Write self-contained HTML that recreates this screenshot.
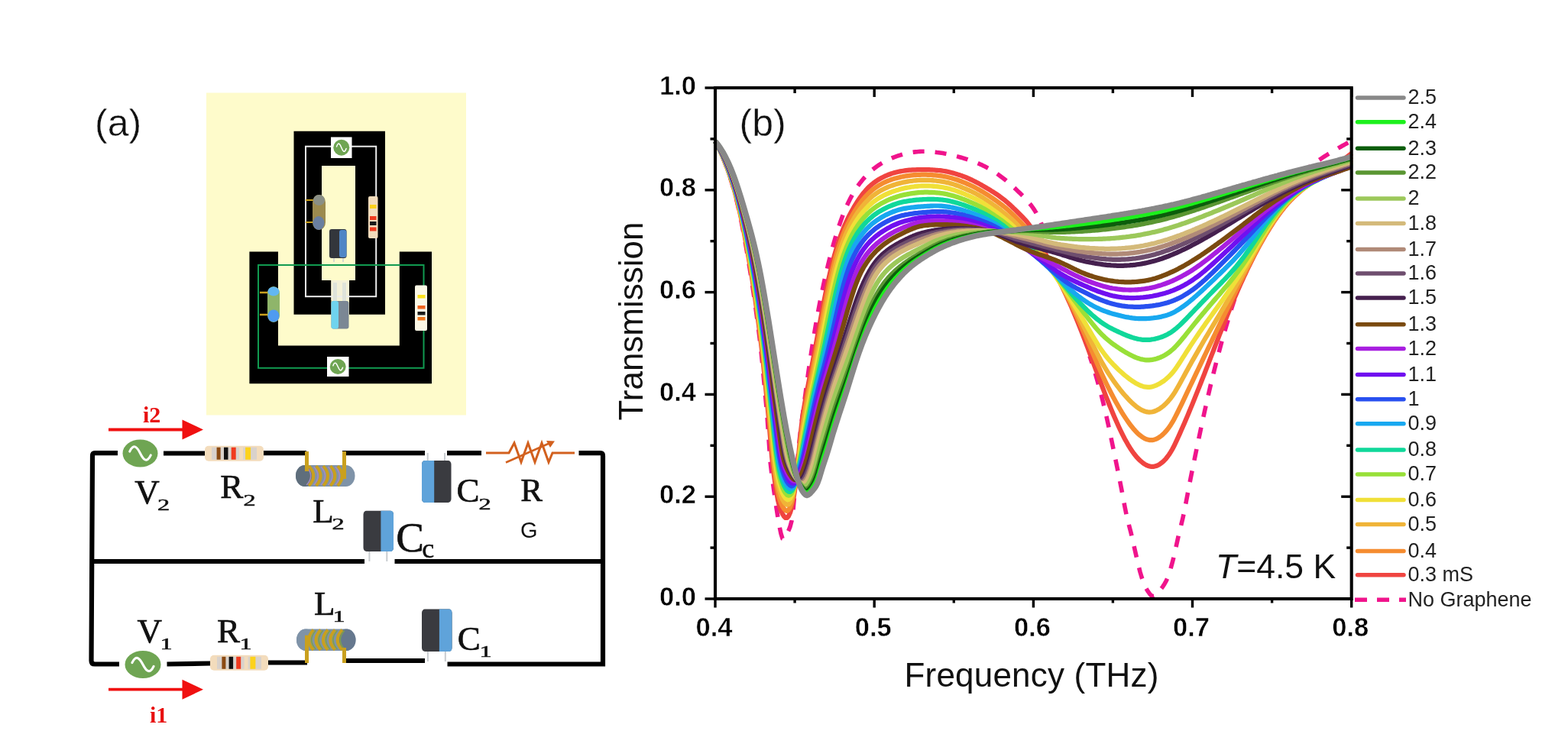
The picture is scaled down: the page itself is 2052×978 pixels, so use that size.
<!DOCTYPE html>
<html lang="en"><head><meta charset="utf-8"><title>Figure</title>
<style>
html,body{margin:0;padding:0;background:#fff;}
body{width:2052px;height:978px;overflow:hidden;}
svg{display:block;}
text{white-space:pre;}
</style></head><body>
<svg width="2052" height="978" viewBox="0 0 2052 978">
<rect width="2052" height="978" fill="#fff"/>
<g id="panel-a">
<rect x="270" y="121.5" width="340" height="422" fill="#FEFBCB"/>
<path d="M384.5 171.7H504V411.7H457V367H465V217H421V367H433.4V411.7H384.5Z" fill="#000"/>
<path d="M326.4 329.4H364V452.4H522.8V329.4H565V502.2H326.4Z" fill="#000"/>
<rect x="433.4" y="367" width="23.6" height="26" fill="#F4F1D8"/>
<rect x="400" y="191.7" width="92.2" height="196.5" fill="none" stroke="#EDEDED" stroke-width="2"/>
<rect x="338" y="347" width="216.5" height="134.8" fill="none" stroke="#119A50" stroke-width="2"/>
<rect x="433" y="179.5" width="27.5" height="27.5" fill="#fff"/>
<ellipse cx="446.8" cy="193.2" rx="10.5" ry="10.5" fill="#6FA553"/><path d="M440.5 191.9C443.0 184.8 445.2 189.2 446.8 193.2S450.6 201.6 453.1 194.5" fill="none" stroke="#fff" stroke-width="1.5" stroke-linecap="round"/>
<rect x="428" y="467" width="28.5" height="26" fill="#fff"/>
<ellipse cx="442.2" cy="480.0" rx="10.5" ry="10.0" fill="#6FA553"/><path d="M435.9 478.7C438.4 472.0 440.6 476.2 442.2 480.0S446.0 488.0 448.5 481.3" fill="none" stroke="#fff" stroke-width="1.5" stroke-linecap="round"/>
<path d="M400 262H412M400 291H412" stroke="#C9A01E" stroke-width="2" fill="none"/>
<rect x="409" y="255" width="17" height="46" rx="8" ry="10" fill="#9C8A4E"/>
<ellipse cx="417" cy="292" rx="7.5" ry="9" fill="#6A7FA0"/>
<ellipse cx="417.5" cy="262" rx="7.5" ry="7" fill="#8A8F86"/>
<rect x="482" y="257" width="12.5" height="55" rx="2" fill="#F3DCBC"/>
<rect x="484" y="268.0" width="8.5" height="5" fill="#FCD21C"/>
<rect x="484" y="283.0" width="8.5" height="5" fill="#F03A1E"/>
<rect x="484" y="290.0" width="8.5" height="5" fill="#1a1a1a"/>
<rect x="484" y="297.5" width="8.5" height="5" fill="#F03A1E"/>
<path d="M437 337V343M449 337V343" stroke="#C8CCD0" stroke-width="1.5"/>
<rect x="431" y="300" width="22.5" height="38" rx="3" fill="#33363C"/>
<rect x="444" y="301" width="9.5" height="36" rx="3" fill="#4F86C6"/>
<rect x="433.5" y="394" width="23" height="36.5" rx="3" fill="#7B8794"/>
<rect x="433.5" y="394" width="9.5" height="36.5" rx="3" fill="#6FD3EE"/>
<rect x="436" y="370" width="5" height="24" fill="#DFE3DA"/><rect x="448" y="370" width="5" height="24" fill="#DFE3DA"/>
<path d="M340 383H353M340 412H353" stroke="#C9A01E" stroke-width="2.5" fill="none"/>
<rect x="350" y="375" width="16" height="47" rx="8" ry="9" fill="#8FB56A"/>
<ellipse cx="358" cy="381.5" rx="7.5" ry="6" fill="#62B7F0"/>
<ellipse cx="358" cy="413.5" rx="7.5" ry="8" fill="#4F9BF0"/>
<rect x="543" y="373.6" width="16" height="59.5" rx="2" fill="#FBF8E6"/>
<rect x="546.5" y="386.0" width="10" height="4.5" fill="#FCE21C"/>
<rect x="546.5" y="400.0" width="10" height="4.5" fill="#F0641E"/>
<rect x="546.5" y="408.0" width="10" height="4.5" fill="#1a1a1a"/>
<rect x="546.5" y="415.0" width="10" height="4.5" fill="#F0781E"/>
<g stroke="#000" stroke-width="6.2" fill="none" stroke-linecap="butt" stroke-linejoin="miter">
<path d="M154 593.2H124Q121 593.2 121 597L119.5 865Q119.5 869.5 124 869.5H156"/>
<path d="M214 593.5H269"/>
<path d="M344 593.2H401"/>
<path d="M448 593.2H556"/>
<path d="M585 593.2H630"/>
<path d="M757.5 593.2H786Q789 593.2 789 597V869.5H585.5"/>
<path d="M120.5 735H477"/>
<path d="M516.5 735H789"/>
<path d="M218.5 869.5L275.5 868.5"/>
<path d="M350 867.5H402"/>
<path d="M448 865H556"/>
</g>
<ellipse cx="183.5" cy="593.5" rx="23.0" ry="18.0" fill="#6FA553"/><path d="M169.7 591.2C175.2 579.1 180.1 586.7 183.5 593.5S191.8 607.9 197.3 595.8" fill="none" stroke="#fff" stroke-width="3.0" stroke-linecap="round"/>
<ellipse cx="187.0" cy="870.0" rx="23.5" ry="18.0" fill="#6FA553"/><path d="M172.9 867.7C178.5 855.6 183.5 863.2 187.0 870.0S195.5 884.4 201.1 872.3" fill="none" stroke="#fff" stroke-width="3.1" stroke-linecap="round"/>
<rect x="268.0" y="583.7" width="77.0" height="20.0" rx="5" fill="#F3DCBC"/><rect x="277.0" y="585.7" width="59.0" height="16.0" fill="#D9D2CC"/><rect x="283.6" y="585.7" width="5.0" height="16.0" fill="#8B4A12"/><rect x="293.0" y="585.7" width="5.5" height="16.0" fill="#111"/><rect x="302.7" y="585.7" width="6.0" height="16.0" fill="#F03A1E"/><rect x="321.1" y="585.7" width="7.0" height="16.0" fill="#FCD21C"/><rect x="313.2" y="585.7" width="5.0" height="16.0" fill="#F3DCBC"/>
<rect x="275.0" y="857.8" width="76.0" height="20.0" rx="5" fill="#F3DCBC"/><rect x="284.0" y="859.8" width="58.0" height="16.0" fill="#D9D2CC"/><rect x="290.4" y="859.8" width="5.0" height="16.0" fill="#8B4A12"/><rect x="299.6" y="859.8" width="5.5" height="16.0" fill="#111"/><rect x="309.2" y="859.8" width="6.0" height="16.0" fill="#F03A1E"/><rect x="327.4" y="859.8" width="7.0" height="16.0" fill="#FCD21C"/><rect x="319.6" y="859.8" width="5.0" height="16.0" fill="#F3DCBC"/>
<rect x="387.0" y="609.0" width="77.5" height="28.0" rx="11.9" ry="14.0" fill="#7F93A8"/><ellipse cx="398.9" cy="623.0" rx="11.9" ry="14.0" fill="#5F6E7C"/><path d="M404.2 610.0Q416.2 623.0 404.2 636.0" fill="none" stroke="#C9A01E" stroke-width="4"/><path d="M401.2 611.0Q412.2 623.0 401.2 635.0" fill="none" stroke="#A68BC0" stroke-width="1.5"/><path d="M413.6 610.0Q425.6 623.0 413.6 636.0" fill="none" stroke="#C9A01E" stroke-width="4"/><path d="M410.6 611.0Q421.6 623.0 410.6 635.0" fill="none" stroke="#A68BC0" stroke-width="1.5"/><path d="M423.0 610.0Q435.0 623.0 423.0 636.0" fill="none" stroke="#C9A01E" stroke-width="4"/><path d="M420.0 611.0Q431.0 623.0 420.0 635.0" fill="none" stroke="#A68BC0" stroke-width="1.5"/><path d="M432.4 610.0Q444.4 623.0 432.4 636.0" fill="none" stroke="#C9A01E" stroke-width="4"/><path d="M429.4 611.0Q440.4 623.0 429.4 635.0" fill="none" stroke="#A68BC0" stroke-width="1.5"/><path d="M441.8 610.0Q453.8 623.0 441.8 636.0" fill="none" stroke="#C9A01E" stroke-width="4"/><path d="M438.8 611.0Q449.8 623.0 438.8 635.0" fill="none" stroke="#A68BC0" stroke-width="1.5"/><path d="M401.5 591.0V617.0" stroke="#C9A01E" stroke-width="5" fill="none"/><path d="M450.5 591.0V627.0" stroke="#C9A01E" stroke-width="5" fill="none"/>
<rect x="388.0" y="823.5" width="77.5" height="28.5" rx="12.1" ry="14.2" fill="#7F93A8"/><ellipse cx="453.4" cy="837.8" rx="12.1" ry="14.2" fill="#66788E"/><ellipse cx="400.1" cy="837.8" rx="12.1" ry="14.2" fill="#7F93A8"/><path d="M410.2 824.5Q398.2 837.8 410.2 851.0" fill="none" stroke="#C9A01E" stroke-width="4"/><path d="M413.2 825.5Q402.2 837.8 413.2 850.0" fill="none" stroke="#7FA04A" stroke-width="1.5"/><path d="M419.6 824.5Q407.6 837.8 419.6 851.0" fill="none" stroke="#C9A01E" stroke-width="4"/><path d="M422.6 825.5Q411.6 837.8 422.6 850.0" fill="none" stroke="#7FA04A" stroke-width="1.5"/><path d="M429.0 824.5Q417.0 837.8 429.0 851.0" fill="none" stroke="#C9A01E" stroke-width="4"/><path d="M432.0 825.5Q421.0 837.8 432.0 850.0" fill="none" stroke="#7FA04A" stroke-width="1.5"/><path d="M438.4 824.5Q426.4 837.8 438.4 851.0" fill="none" stroke="#C9A01E" stroke-width="4"/><path d="M441.4 825.5Q430.4 837.8 441.4 850.0" fill="none" stroke="#7FA04A" stroke-width="1.5"/><path d="M447.8 824.5Q435.8 837.8 447.8 851.0" fill="none" stroke="#C9A01E" stroke-width="4"/><path d="M450.8 825.5Q439.8 837.8 450.8 850.0" fill="none" stroke="#7FA04A" stroke-width="1.5"/><path d="M401.5 868.0V831.8" stroke="#C9A01E" stroke-width="5" fill="none"/><path d="M450.5 868.0V848.0" stroke="#C9A01E" stroke-width="5" fill="none"/>
<path d="M559.7 593.0V606.0M582.0 593.0V606.0" stroke="#C8CCD0" stroke-width="2" fill="none"/><rect x="552.0" y="603.0" width="38.5" height="55.0" rx="4" ry="5" fill="#3A3B40"/><path d="M556.0 603.0H568.2V658.0H556.0Q552.0 658.0 552.0 653.0V608.0Q552.0 603.0 556.0 603.0Z" fill="#5FA3DA"/>
<path d="M483.4 719.0V735.0M506.3 719.0V735.0" stroke="#C8CCD0" stroke-width="2" fill="none"/><rect x="475.5" y="668.7" width="39.5" height="53.3" rx="4" ry="5" fill="#3A3B40"/><path d="M511.0 668.7H498.4V722.0H511.0Q515.0 722.0 515.0 717.0V673.7Q515.0 668.7 511.0 668.7Z" fill="#5FA3DA"/>
<path d="M559.9 850.0V866.0M582.8 850.0V866.0" stroke="#C8CCD0" stroke-width="2" fill="none"/><rect x="552.0" y="797.6" width="39.5" height="55.4" rx="4" ry="5" fill="#3A3B40"/><path d="M587.5 797.6H574.9V853.0H587.5Q591.5 853.0 591.5 848.0V802.6Q591.5 797.6 587.5 797.6Z" fill="#5FA3DA"/>
<g stroke="#D2601E" fill="none" stroke-linejoin="miter">
<path d="M636 593H666L673 580L682 605L691 580L700 605L709 580L718 605L723 593H752" stroke-width="3"/>
<path d="M662 605.5L722 579" stroke-width="2.5"/>
<path d="M715 577L726 577.5L720 586Z" fill="#D2601E" stroke="none"/>
</g>
<path d="M142 562.5H242" stroke="#F01010" stroke-width="3.8" fill="none"/>
<path d="M238.5 549.5L266 562.5L238.5 575.5Z" fill="#F01010"/>
<path d="M142 902.7H242" stroke="#F01010" stroke-width="3.8" fill="none"/>
<path d="M238.5 889.7L266 902.7L238.5 915.7Z" fill="#F01010"/>
<g font-family="'Liberation Serif','DejaVu Serif',serif" fill="#111" stroke="#111" stroke-width="0.7" font-size="43px">
<text x="176.3" y="658.6" font-size="45.0px">V</text><text transform="translate(206.0 668.0) scale(1.50 1)" font-size="21.5px" stroke-width="0.5">2</text>
<text x="288.3" y="652.0" font-size="45.0px">R</text><text transform="translate(318.5 661.5) scale(1.50 1)" font-size="21.5px" stroke-width="0.5">2</text>
<text x="409.3" y="684.0" font-size="45.0px">L</text><text transform="translate(434.5 693.0) scale(1.50 1)" font-size="21.5px" stroke-width="0.5">2</text>
<text x="597.5" y="657.0" font-size="45.0px">C</text><text transform="translate(626.5 667.0) scale(1.50 1)" font-size="21.5px" stroke-width="0.5">2</text>
<text x="518.3" y="721.6" font-size="55.0px">C</text><text transform="translate(552.3 729.5) scale(1.00 1)" font-size="36.0px" stroke-width="0.5">c</text>
<text x="179.5" y="841.0" font-size="45.0px">V</text><text transform="translate(209.5 850.3) scale(1.50 1)" font-size="21.5px" stroke-width="0.5">1</text>
<text x="284.0" y="841.0" font-size="45.0px">R</text><text transform="translate(313.5 850.3) scale(1.50 1)" font-size="21.5px" stroke-width="0.5">1</text>
<text x="411.0" y="804.7" font-size="45.0px">L</text><text transform="translate(435.5 813.5) scale(1.50 1)" font-size="21.5px" stroke-width="0.5">1</text>
<text x="598.8" y="850.5" font-size="45.0px">C</text><text transform="translate(627.5 860.0) scale(1.50 1)" font-size="21.5px" stroke-width="0.5">1</text>
<text x="681.3" y="655.8" font-size="43px">R</text>
</g>
<text x="681" y="704" font-family="'Liberation Sans',sans-serif" font-size="29px" fill="#111">G</text>
<g font-family="'Liberation Serif',serif" font-weight="bold" fill="#E81010" font-size="30px">
<text x="187" y="553">i2</text>
<text x="196" y="946">i1</text>
</g>
<text x="124" y="177.5" font-family="'Liberation Sans',sans-serif" font-size="50px" fill="#111" stroke="#fff" stroke-width="0.4">(a)</text>
</g>
<g id="panel-b">
<g fill="none" stroke-linejoin="round" stroke-linecap="butt">
<path d="M936.0 184.9L938.0 188.8L940.0 192.8L942.0 197.1L944.0 201.6L946.0 206.3L948.0 211.3L950.0 216.5L952.0 221.9L954.0 227.7L956.0 233.8L958.0 240.2L960.0 247.1L962.0 254.4L964.0 262.3L966.0 270.7L968.0 279.7L970.0 289.3L972.0 299.4L974.0 310.1L976.0 321.2L978.0 332.7L980.0 344.6L982.0 356.8L984.0 369.6L986.0 382.9L988.0 396.8L990.0 411.3L992.0 426.3L994.0 442.1L996.0 459.7L998.0 479.7L1000.0 501.3L1002.0 522.7L1004.0 544.8L1006.0 574.7L1008.0 604.1L1010.0 621.6L1012.0 636.3L1014.0 650.9L1016.0 664.7L1018.0 677.5L1020.0 689.0L1022.0 698.6L1024.0 705.1L1026.0 705.9L1028.0 702.2L1030.0 698.3L1032.0 694.5L1034.0 689.6L1036.0 682.0L1038.0 667.3L1040.0 645.3L1042.0 622.1L1044.0 599.3L1046.0 578.4L1048.0 560.7L1050.0 545.4L1052.0 530.8L1054.0 516.0L1056.0 501.0L1058.0 486.5L1060.0 472.6L1062.0 459.4L1064.0 446.7L1066.0 434.4L1068.0 422.7L1070.0 411.5L1072.0 400.8L1074.0 390.6L1076.0 380.8L1078.0 371.4L1080.0 362.4L1082.0 353.7L1084.0 345.4L1086.0 337.4L1088.0 329.7L1090.0 322.3L1092.0 315.2L1094.0 308.4L1096.0 301.9L1098.0 295.8L1100.0 290.0L1102.0 284.5L1104.0 279.3L1106.0 274.4L1108.0 269.8L1110.0 265.5L1112.0 261.4L1114.0 257.6L1116.0 254.0L1118.0 250.6L1120.0 247.4L1122.0 244.4L1124.0 241.6L1126.0 238.9L1128.0 236.4L1130.0 234.0L1132.0 231.8L1134.0 229.6L1136.0 227.6L1138.0 225.7L1140.0 223.8L1142.0 222.1L1144.0 220.5L1146.0 219.0L1148.0 217.5L1150.0 216.1L1152.0 214.8L1154.0 213.6L1156.0 212.4L1158.0 211.3L1160.0 210.3L1162.0 209.3L1164.0 208.4L1166.0 207.5L1168.0 206.6L1170.0 205.8L1172.0 205.1L1174.0 204.4L1176.0 203.7L1178.0 203.1L1180.0 202.5L1182.0 201.9L1184.0 201.4L1186.0 200.9L1188.0 200.5L1190.0 200.1L1192.0 199.7L1194.0 199.4L1196.0 199.1L1198.0 198.9L1200.0 198.7L1202.0 198.5L1204.0 198.4L1206.0 198.3L1208.0 198.3L1210.0 198.3L1212.0 198.3L1214.0 198.4L1216.0 198.5L1218.0 198.6L1220.0 198.8L1222.0 199.0L1224.0 199.2L1226.0 199.5L1228.0 199.7L1230.0 200.0L1232.0 200.3L1234.0 200.6L1236.0 201.0L1238.0 201.3L1240.0 201.7L1242.0 202.1L1244.0 202.6L1246.0 203.0L1248.0 203.5L1250.0 204.1L1252.0 204.6L1254.0 205.1L1256.0 205.7L1258.0 206.3L1260.0 206.9L1262.0 207.5L1264.0 208.1L1266.0 208.7L1268.0 209.4L1270.0 210.1L1272.0 210.8L1274.0 211.5L1276.0 212.3L1278.0 213.1L1280.0 213.9L1282.0 214.7L1284.0 215.6L1286.0 216.6L1288.0 217.5L1290.0 218.5L1292.0 219.6L1294.0 220.7L1296.0 221.9L1298.0 223.1L1300.0 224.3L1302.0 225.6L1304.0 226.9L1306.0 228.3L1308.0 229.7L1310.0 231.2L1312.0 232.7L1314.0 234.2L1316.0 235.8L1318.0 237.5L1320.0 239.2L1322.0 240.9L1324.0 242.7L1326.0 244.5L1328.0 246.4L1330.0 248.3L1332.0 250.2L1334.0 252.1L1336.0 254.1L1338.0 256.1L1340.0 258.1L1342.0 260.3L1344.0 262.4L1346.0 264.7L1348.0 267.1L1350.0 269.6L1352.0 272.4L1354.0 275.4L1356.0 278.7L1358.0 282.4L1360.0 286.4L1362.0 290.9L1364.0 295.8L1366.0 301.1L1367.0 303.8" stroke="#F0148C" stroke-width="5.6" stroke-dasharray="15 14" stroke-dashoffset="7"/>
<path d="M1426.0 466.1L1428.0 472.1L1430.0 478.2L1432.0 484.6L1434.0 491.2L1436.0 498.1L1438.0 505.2L1440.0 512.6L1442.0 520.3L1444.0 528.3L1446.0 536.7L1448.0 545.4L1450.0 554.4L1452.0 563.6L1454.0 573.1L1456.0 582.7L1458.0 592.4L1460.0 602.2L1462.0 612.0L1464.0 621.9L1466.0 631.9L1468.0 642.1L1470.0 652.8L1472.0 663.5L1474.0 673.3L1476.0 681.9L1478.0 689.6L1480.0 697.3L1482.0 705.7L1484.0 714.7L1486.0 723.6L1488.0 732.3L1490.0 740.8L1492.0 748.7L1494.0 755.5L1496.0 761.2L1498.0 766.2L1500.0 770.5L1502.0 773.9L1504.0 776.7L1506.0 779.1L1508.0 780.5L1510.0 780.5L1512.0 779.3L1514.0 777.2L1516.0 775.0L1518.0 772.8L1520.0 770.3L1522.0 767.6L1524.0 764.4L1526.0 760.9L1528.0 756.5L1530.0 751.1L1532.0 744.5L1534.0 737.3L1536.0 729.6L1538.0 721.0L1540.0 711.7L1542.0 702.6L1544.0 694.3L1546.0 686.3L1548.0 677.8L1550.0 668.4L1552.0 658.2L1554.0 647.7L1556.0 637.2L1558.0 626.9L1560.0 616.9L1562.0 607.1L1564.0 597.4L1566.0 587.7L1568.0 578.1L1570.0 568.6L1572.0 559.1L1574.0 549.8L1576.0 540.6L1578.0 531.6L1580.0 522.7L1582.0 514.1L1584.0 505.5L1586.0 497.2L1588.0 489.0L1590.0 481.0L1592.0 473.2L1594.0 465.5L1596.0 458.0L1598.0 450.6L1600.0 443.4L1602.0 436.3L1604.0 429.4L1606.0 422.6L1608.0 416.0L1610.0 409.4L1612.0 403.0L1614.0 396.8L1616.0 390.7L1618.0 384.7L1620.0 378.8L1622.0 373.1L1624.0 367.6L1626.0 362.1L1628.0 356.8L1630.0 351.6L1632.0 346.6L1634.0 341.6L1636.0 336.8L1638.0 332.1L1640.0 327.5L1642.0 323.0L1644.0 318.6L1646.0 314.3L1648.0 310.1L1650.0 306.0L1652.0 302.0L1654.0 298.0L1656.0 294.2L1658.0 290.4L1660.0 286.7L1662.0 283.1L1664.0 279.6L1666.0 276.1L1668.0 272.7L1670.0 269.4L1672.0 266.2L1674.0 263.1L1676.0 260.0L1678.0 257.1L1680.0 254.2L1682.0 251.4L1684.0 248.7L1686.0 246.1L1688.0 243.6L1690.0 241.1L1692.0 238.8L1694.0 236.5L1696.0 234.3L1698.0 232.3L1700.0 230.3L1702.0 228.3L1704.0 226.5L1706.0 224.7L1708.0 223.0L1710.0 221.3L1712.0 219.7L1714.0 218.2L1716.0 216.7L1718.0 215.2L1720.0 213.8L1722.0 212.4L1724.0 211.0L1726.0 209.6L1728.0 208.3L1730.0 207.0L1732.0 205.7L1734.0 204.4L1736.0 203.2L1738.0 201.9L1740.0 200.7L1742.0 199.5L1744.0 198.3L1746.0 197.1L1748.0 195.9L1750.0 194.8L1752.0 193.6L1754.0 192.5L1756.0 191.3L1758.0 190.2L1760.0 189.1L1762.0 188.0L1764.0 186.9L1766.0 185.8L1768.0 184.7L1769.0 184.2" stroke="#F0148C" stroke-width="5.6" stroke-dasharray="15 14" stroke-dashoffset="5.2"/>
<path d="M936.0 184.9L938.0 188.6L940.0 192.6L942.0 196.7L944.0 201.1L946.0 205.6L948.0 210.5L950.0 215.5L952.0 220.9L954.0 226.5L956.0 232.5L958.0 238.8L960.0 245.4L962.0 252.5L964.0 260.1L966.0 268.2L968.0 276.8L970.0 285.9L972.0 295.7L974.0 305.8L976.0 316.4L978.0 327.5L980.0 338.9L982.0 350.7L984.0 362.9L986.0 375.7L988.0 389.1L990.0 403.2L992.0 418.0L994.0 433.4L996.0 449.7L998.0 467.2L1000.0 486.5L1002.0 506.8L1004.0 527.2L1006.0 548.3L1008.0 572.3L1010.0 596.8L1012.0 615.5L1014.0 630.1L1016.0 643.4L1018.0 654.7L1020.0 662.7L1022.0 668.5L1024.0 672.8L1026.0 676.0L1028.0 678.0L1030.0 677.9L1032.0 675.6L1034.0 671.3L1036.0 664.6L1038.0 655.0L1040.0 642.7L1042.0 627.4L1044.0 608.5L1046.0 586.3L1048.0 565.0L1050.0 548.2L1052.0 534.9L1054.0 523.3L1056.0 512.4L1058.0 502.0L1060.0 491.9L1062.0 481.6L1064.0 471.2L1066.0 460.5L1068.0 449.7L1070.0 438.9L1072.0 428.0L1074.0 417.2L1076.0 406.6L1078.0 396.2L1080.0 386.1L1082.0 376.3L1084.0 367.0L1086.0 358.2L1088.0 349.7L1090.0 341.8L1092.0 334.3L1094.0 327.3L1096.0 320.6L1098.0 314.5L1100.0 308.8L1102.0 303.4L1104.0 298.4L1106.0 293.7L1108.0 289.3L1110.0 285.2L1112.0 281.2L1114.0 277.5L1116.0 273.9L1118.0 270.4L1120.0 267.1L1122.0 264.0L1124.0 260.9L1126.0 258.0L1128.0 255.3L1130.0 252.8L1132.0 250.4L1134.0 248.1L1136.0 246.0L1138.0 244.0L1140.0 242.2L1142.0 240.6L1144.0 239.0L1146.0 237.6L1148.0 236.2L1150.0 235.0L1152.0 233.8L1154.0 232.7L1156.0 231.7L1158.0 230.7L1160.0 229.9L1162.0 229.0L1164.0 228.3L1166.0 227.5L1168.0 226.9L1170.0 226.3L1172.0 225.7L1174.0 225.2L1176.0 224.8L1178.0 224.4L1180.0 224.0L1182.0 223.7L1184.0 223.4L1186.0 223.1L1188.0 222.9L1190.0 222.7L1192.0 222.6L1194.0 222.4L1196.0 222.3L1198.0 222.3L1200.0 222.2L1202.0 222.2L1204.0 222.1L1206.0 222.1L1208.0 222.1L1210.0 222.1L1212.0 222.1L1214.0 222.2L1216.0 222.2L1218.0 222.3L1220.0 222.4L1222.0 222.5L1224.0 222.7L1226.0 222.8L1228.0 223.0L1230.0 223.2L1232.0 223.4L1234.0 223.7L1236.0 224.0L1238.0 224.4L1240.0 224.8L1242.0 225.2L1244.0 225.7L1246.0 226.2L1248.0 226.8L1250.0 227.4L1252.0 228.0L1254.0 228.6L1256.0 229.3L1258.0 229.9L1260.0 230.7L1262.0 231.4L1264.0 232.2L1266.0 233.0L1268.0 233.9L1270.0 234.8L1272.0 235.7L1274.0 236.7L1276.0 237.7L1278.0 238.8L1280.0 239.8L1282.0 240.9L1284.0 242.0L1286.0 243.2L1288.0 244.3L1290.0 245.5L1292.0 246.7L1294.0 247.8L1296.0 249.0L1298.0 250.3L1300.0 251.5L1302.0 252.8L1304.0 254.1L1306.0 255.5L1308.0 256.9L1310.0 258.4L1312.0 259.9L1314.0 261.4L1316.0 263.1L1318.0 264.8L1320.0 266.6L1322.0 268.4L1324.0 270.2L1326.0 272.2L1328.0 274.1L1330.0 276.0L1332.0 278.0L1334.0 280.0L1336.0 282.0L1338.0 284.0L1340.0 286.1L1342.0 288.2L1344.0 290.6L1346.0 293.1L1348.0 295.8L1350.0 298.7L1352.0 301.8L1354.0 305.2L1356.0 308.7L1358.0 312.4L1360.0 316.1L1362.0 320.0L1364.0 323.9L1366.0 327.8L1368.0 331.7L1370.0 335.6L1372.0 339.5L1374.0 343.4L1376.0 347.2L1378.0 351.2L1380.0 355.1L1382.0 359.0L1384.0 363.1L1386.0 367.1L1388.0 371.2L1390.0 375.4L1392.0 379.6L1394.0 383.9L1396.0 388.2L1398.0 392.6L1400.0 397.1L1402.0 401.6L1404.0 406.3L1406.0 411.0L1408.0 415.7L1410.0 420.6L1412.0 425.6L1414.0 430.6L1416.0 435.7L1418.0 440.9L1420.0 446.1L1422.0 451.4L1424.0 456.7L1426.0 462.1L1428.0 467.5L1430.0 472.8L1432.0 478.2L1434.0 483.6L1436.0 489.0L1438.0 494.3L1440.0 499.7L1442.0 504.9L1444.0 510.2L1446.0 515.3L1448.0 520.5L1450.0 525.5L1452.0 530.5L1454.0 535.4L1456.0 540.2L1458.0 545.0L1460.0 549.6L1462.0 554.1L1464.0 558.5L1466.0 562.8L1468.0 566.9L1470.0 570.9L1472.0 574.7L1474.0 578.3L1476.0 581.8L1478.0 585.1L1480.0 588.3L1482.0 591.2L1484.0 594.0L1486.0 596.5L1488.0 598.9L1490.0 601.0L1492.0 603.0L1494.0 604.7L1496.0 606.3L1498.0 607.6L1500.0 608.8L1502.0 609.7L1504.0 610.4L1506.0 610.8L1508.0 610.9L1510.0 610.8L1512.0 610.3L1514.0 609.7L1516.0 608.7L1518.0 607.6L1520.0 606.1L1522.0 604.4L1524.0 602.5L1526.0 600.3L1528.0 597.8L1530.0 595.0L1532.0 591.9L1534.0 588.5L1536.0 584.8L1538.0 580.7L1540.0 576.4L1542.0 572.0L1544.0 567.6L1546.0 563.1L1548.0 558.5L1550.0 553.9L1552.0 549.3L1554.0 544.6L1556.0 539.8L1558.0 534.9L1560.0 530.1L1562.0 525.1L1564.0 520.1L1566.0 515.2L1568.0 510.2L1570.0 505.1L1572.0 500.0L1574.0 494.9L1576.0 489.8L1578.0 484.7L1580.0 479.5L1582.0 474.4L1584.0 469.2L1586.0 464.0L1588.0 458.8L1590.0 453.7L1592.0 448.5L1594.0 443.4L1596.0 438.2L1598.0 433.1L1600.0 428.1L1602.0 423.0L1604.0 418.0L1606.0 413.1L1608.0 408.2L1610.0 403.3L1612.0 398.5L1614.0 393.7L1616.0 389.0L1618.0 384.4L1620.0 379.8L1622.0 375.2L1624.0 370.8L1626.0 366.4L1628.0 362.0L1630.0 357.8L1632.0 353.5L1634.0 349.4L1636.0 345.3L1638.0 341.3L1640.0 337.3L1642.0 333.4L1644.0 329.6L1646.0 325.8L1648.0 322.1L1650.0 318.5L1652.0 314.9L1654.0 311.4L1656.0 308.0L1658.0 304.7L1660.0 301.4L1662.0 298.2L1664.0 295.0L1666.0 291.9L1668.0 288.9L1670.0 286.0L1672.0 283.1L1674.0 280.4L1676.0 277.7L1678.0 275.1L1680.0 272.5L1682.0 270.1L1684.0 267.7L1686.0 265.5L1688.0 263.3L1690.0 261.2L1692.0 259.2L1694.0 257.3L1696.0 255.4L1698.0 253.6L1700.0 251.8L1702.0 250.1L1704.0 248.4L1706.0 246.8L1708.0 245.2L1710.0 243.7L1712.0 242.1L1714.0 240.6L1716.0 239.1L1718.0 237.7L1720.0 236.2L1722.0 234.8L1724.0 233.4L1726.0 232.0L1728.0 230.6L1730.0 229.2L1732.0 227.8L1734.0 226.4L1736.0 225.0L1738.0 223.6L1740.0 222.2L1742.0 220.8L1744.0 219.4L1746.0 217.9L1748.0 216.5L1750.0 215.0L1752.0 213.6L1754.0 212.1L1756.0 210.6L1758.0 209.1L1760.0 207.6L1762.0 206.0L1764.0 204.5L1766.0 202.9L1768.0 201.3L1769.0 200.5" stroke="#F04440" stroke-width="6.2"/>
<path d="M936.0 184.9L938.0 188.6L940.0 192.4L942.0 196.5L944.0 200.7L946.0 205.2L948.0 210.0L950.0 215.1L952.0 220.3L954.0 225.9L956.0 231.7L958.0 237.9L960.0 244.5L962.0 251.5L964.0 258.9L966.0 266.8L968.0 275.3L970.0 284.2L972.0 293.6L974.0 303.5L976.0 313.9L978.0 324.7L980.0 335.8L982.0 347.4L984.0 359.4L986.0 371.8L988.0 384.9L990.0 398.6L992.0 413.1L994.0 428.3L996.0 444.1L998.0 461.1L1000.0 479.6L1002.0 498.8L1004.0 518.2L1006.0 538.0L1008.0 559.3L1010.0 582.3L1012.0 603.4L1014.0 619.7L1016.0 632.9L1018.0 643.8L1020.0 652.2L1022.0 658.4L1024.0 662.9L1026.0 666.2L1028.0 668.4L1030.0 669.0L1032.0 667.5L1034.0 664.1L1036.0 658.4L1038.0 649.9L1040.0 638.7L1042.0 625.4L1044.0 609.8L1046.0 592.1L1048.0 574.0L1050.0 558.2L1052.0 544.9L1054.0 533.1L1056.0 522.3L1058.0 511.9L1060.0 501.8L1062.0 491.8L1064.0 481.7L1066.0 471.3L1068.0 460.8L1070.0 450.3L1072.0 439.6L1074.0 428.8L1076.0 418.1L1078.0 407.5L1080.0 397.1L1082.0 386.9L1084.0 377.2L1086.0 367.8L1088.0 358.9L1090.0 350.6L1092.0 342.8L1094.0 335.4L1096.0 328.6L1098.0 322.3L1100.0 316.4L1102.0 310.8L1104.0 305.7L1106.0 301.0L1108.0 296.5L1110.0 292.3L1112.0 288.3L1114.0 284.5L1116.0 280.9L1118.0 277.5L1120.0 274.3L1122.0 271.2L1124.0 268.3L1126.0 265.5L1128.0 262.8L1130.0 260.4L1132.0 258.1L1134.0 255.9L1136.0 253.8L1138.0 251.9L1140.0 250.1L1142.0 248.5L1144.0 246.9L1146.0 245.5L1148.0 244.1L1150.0 242.9L1152.0 241.7L1154.0 240.6L1156.0 239.6L1158.0 238.6L1160.0 237.7L1162.0 236.8L1164.0 236.1L1166.0 235.3L1168.0 234.6L1170.0 234.0L1172.0 233.4L1174.0 232.9L1176.0 232.4L1178.0 231.9L1180.0 231.5L1182.0 231.1L1184.0 230.7L1186.0 230.4L1188.0 230.1L1190.0 229.8L1192.0 229.6L1194.0 229.4L1196.0 229.2L1198.0 229.1L1200.0 228.9L1202.0 228.8L1204.0 228.8L1206.0 228.7L1208.0 228.7L1210.0 228.7L1212.0 228.7L1214.0 228.8L1216.0 228.9L1218.0 229.0L1220.0 229.1L1222.0 229.3L1224.0 229.4L1226.0 229.6L1228.0 229.9L1230.0 230.1L1232.0 230.4L1234.0 230.7L1236.0 231.1L1238.0 231.5L1240.0 231.9L1242.0 232.4L1244.0 232.9L1246.0 233.5L1248.0 234.1L1250.0 234.7L1252.0 235.3L1254.0 236.0L1256.0 236.8L1258.0 237.5L1260.0 238.3L1262.0 239.1L1264.0 239.9L1266.0 240.8L1268.0 241.7L1270.0 242.6L1272.0 243.5L1274.0 244.5L1276.0 245.5L1278.0 246.6L1280.0 247.7L1282.0 248.8L1284.0 250.0L1286.0 251.2L1288.0 252.4L1290.0 253.6L1292.0 254.9L1294.0 256.2L1296.0 257.5L1298.0 258.9L1300.0 260.2L1302.0 261.6L1304.0 263.0L1306.0 264.5L1308.0 265.9L1310.0 267.4L1312.0 269.0L1314.0 270.6L1316.0 272.2L1318.0 273.9L1320.0 275.6L1322.0 277.4L1324.0 279.3L1326.0 281.2L1328.0 283.1L1330.0 285.1L1332.0 287.1L1334.0 289.1L1336.0 291.2L1338.0 293.3L1340.0 295.5L1342.0 297.7L1344.0 300.1L1346.0 302.5L1348.0 305.1L1350.0 307.8L1352.0 310.6L1354.0 313.5L1356.0 316.6L1358.0 319.8L1360.0 323.0L1362.0 326.3L1364.0 329.6L1366.0 333.0L1368.0 336.4L1370.0 339.8L1372.0 343.2L1374.0 346.6L1376.0 350.0L1378.0 353.5L1380.0 357.0L1382.0 360.6L1384.0 364.2L1386.0 367.8L1388.0 371.3L1390.0 375.2L1392.0 379.0L1394.0 382.8L1396.0 386.8L1398.0 390.8L1400.0 394.8L1402.0 398.9L1404.0 403.1L1406.0 407.3L1408.0 411.6L1410.0 416.0L1412.0 420.4L1414.0 424.9L1416.0 429.4L1418.0 434.0L1420.0 438.6L1422.0 443.3L1424.0 448.0L1426.0 452.7L1428.0 457.4L1430.0 462.1L1432.0 466.8L1434.0 471.5L1436.0 476.2L1438.0 480.8L1440.0 485.3L1442.0 489.7L1444.0 494.1L1446.0 498.3L1448.0 502.5L1450.0 506.6L1452.0 510.5L1454.0 514.5L1456.0 518.3L1458.0 522.1L1460.0 525.7L1462.0 529.3L1464.0 532.8L1466.0 536.2L1468.0 539.6L1470.0 542.8L1472.0 545.9L1474.0 548.9L1476.0 551.8L1478.0 554.6L1480.0 557.3L1482.0 559.8L1484.0 562.2L1486.0 564.4L1488.0 566.5L1490.0 568.4L1492.0 570.1L1494.0 571.6L1496.0 572.9L1498.0 574.1L1500.0 575.0L1502.0 575.6L1504.0 576.1L1506.0 576.2L1508.0 576.1L1510.0 575.7L1512.0 575.1L1514.0 574.3L1516.0 573.2L1518.0 571.9L1520.0 570.3L1522.0 568.6L1524.0 566.6L1526.0 564.4L1528.0 562.0L1530.0 559.3L1532.0 556.4L1534.0 553.2L1536.0 549.7L1538.0 545.9L1540.0 542.0L1542.0 538.0L1544.0 533.9L1546.0 529.8L1548.0 525.6L1550.0 521.4L1552.0 517.1L1554.0 512.9L1556.0 508.7L1558.0 504.5L1560.0 500.3L1562.0 496.1L1564.0 491.9L1566.0 487.7L1568.0 483.5L1570.0 479.3L1572.0 475.1L1574.0 470.9L1576.0 466.7L1578.0 462.5L1580.0 458.4L1582.0 454.2L1584.0 450.0L1586.0 445.8L1588.0 441.7L1590.0 437.5L1592.0 433.3L1594.0 429.2L1596.0 425.0L1598.0 420.9L1600.0 416.7L1602.0 412.6L1604.0 408.4L1606.0 404.3L1608.0 400.2L1610.0 396.1L1612.0 392.0L1614.0 387.9L1616.0 383.8L1618.0 379.7L1620.0 375.7L1622.0 371.7L1624.0 367.7L1626.0 363.7L1628.0 359.7L1630.0 355.8L1632.0 351.8L1634.0 347.9L1636.0 344.1L1638.0 340.2L1640.0 336.3L1642.0 332.5L1644.0 328.7L1646.0 325.0L1648.0 321.4L1650.0 317.8L1652.0 314.2L1654.0 310.8L1656.0 307.4L1658.0 304.0L1660.0 300.8L1662.0 297.6L1664.0 294.4L1666.0 291.4L1668.0 288.4L1670.0 285.5L1672.0 282.6L1674.0 279.8L1676.0 277.1L1678.0 274.5L1680.0 272.0L1682.0 269.6L1684.0 267.3L1686.0 265.0L1688.0 262.9L1690.0 260.8L1692.0 258.8L1694.0 256.9L1696.0 255.1L1698.0 253.3L1700.0 251.6L1702.0 250.0L1704.0 248.3L1706.0 246.7L1708.0 245.2L1710.0 243.7L1712.0 242.4L1714.0 241.0L1716.0 239.7L1718.0 238.4L1720.0 237.1L1722.0 235.8L1724.0 234.5L1726.0 233.3L1728.0 232.0L1730.0 230.8L1732.0 229.5L1734.0 228.3L1736.0 227.1L1738.0 225.8L1740.0 224.6L1742.0 223.3L1744.0 222.1L1746.0 220.8L1748.0 219.5L1750.0 218.2L1752.0 216.9L1754.0 215.6L1756.0 214.3L1758.0 212.9L1760.0 211.5L1762.0 210.1L1764.0 208.6L1766.0 207.2L1768.0 205.7L1769.0 204.9" stroke="#F58C30" stroke-width="6.2"/>
<path d="M936.0 184.9L938.0 188.5L940.0 192.3L942.0 196.2L944.0 200.4L946.0 204.9L948.0 209.6L950.0 214.5L952.0 219.7L954.0 225.2L956.0 231.0L958.0 237.1L960.0 243.6L962.0 250.5L964.0 257.8L966.0 265.5L968.0 273.7L970.0 282.4L972.0 291.6L974.0 301.3L976.0 311.4L978.0 321.9L980.0 332.8L982.0 344.1L984.0 355.8L986.0 368.0L988.0 380.7L990.0 394.1L992.0 408.2L994.0 422.9L996.0 438.3L998.0 454.4L1000.0 472.0L1002.0 490.6L1004.0 509.5L1006.0 528.4L1008.0 547.7L1010.0 568.6L1012.0 590.2L1014.0 608.7L1016.0 622.7L1018.0 633.7L1020.0 642.2L1022.0 648.8L1024.0 653.8L1026.0 657.3L1028.0 659.7L1030.0 660.9L1032.0 660.3L1034.0 657.8L1036.0 653.3L1038.0 646.1L1040.0 636.1L1042.0 624.3L1044.0 611.1L1046.0 596.6L1048.0 581.7L1050.0 567.4L1052.0 554.6L1054.0 543.0L1056.0 532.1L1058.0 521.7L1060.0 511.7L1062.0 501.8L1064.0 492.0L1066.0 482.0L1068.0 471.9L1070.0 461.6L1072.0 451.2L1074.0 440.7L1076.0 430.1L1078.0 419.5L1080.0 408.9L1082.0 398.5L1084.0 388.5L1086.0 378.8L1088.0 369.6L1090.0 360.8L1092.0 352.6L1094.0 345.0L1096.0 337.9L1098.0 331.2L1100.0 325.1L1102.0 319.4L1104.0 314.1L1106.0 309.1L1108.0 304.5L1110.0 300.2L1112.0 296.1L1114.0 292.3L1116.0 288.7L1118.0 285.2L1120.0 282.0L1122.0 279.0L1124.0 276.1L1126.0 273.4L1128.0 270.8L1130.0 268.4L1132.0 266.1L1134.0 264.0L1136.0 262.0L1138.0 260.1L1140.0 258.3L1142.0 256.7L1144.0 255.1L1146.0 253.7L1148.0 252.3L1150.0 251.0L1152.0 249.8L1154.0 248.7L1156.0 247.7L1158.0 246.7L1160.0 245.8L1162.0 244.9L1164.0 244.1L1166.0 243.4L1168.0 242.7L1170.0 242.0L1172.0 241.4L1174.0 240.8L1176.0 240.2L1178.0 239.7L1180.0 239.2L1182.0 238.8L1184.0 238.4L1186.0 238.0L1188.0 237.6L1190.0 237.3L1192.0 237.0L1194.0 236.8L1196.0 236.5L1198.0 236.3L1200.0 236.1L1202.0 236.0L1204.0 235.9L1206.0 235.8L1208.0 235.8L1210.0 235.8L1212.0 235.8L1214.0 235.8L1216.0 235.9L1218.0 236.0L1220.0 236.2L1222.0 236.4L1224.0 236.5L1226.0 236.8L1228.0 237.0L1230.0 237.3L1232.0 237.6L1234.0 237.9L1236.0 238.3L1238.0 238.7L1240.0 239.1L1242.0 239.6L1244.0 240.2L1246.0 240.8L1248.0 241.4L1250.0 242.0L1252.0 242.7L1254.0 243.4L1256.0 244.2L1258.0 245.0L1260.0 245.8L1262.0 246.6L1264.0 247.4L1266.0 248.3L1268.0 249.2L1270.0 250.1L1272.0 251.1L1274.0 252.1L1276.0 253.1L1278.0 254.1L1280.0 255.2L1282.0 256.3L1284.0 257.5L1286.0 258.7L1288.0 260.0L1290.0 261.3L1292.0 262.6L1294.0 264.0L1296.0 265.3L1298.0 266.8L1300.0 268.2L1302.0 269.6L1304.0 271.1L1306.0 272.6L1308.0 274.1L1310.0 275.6L1312.0 277.2L1314.0 278.8L1316.0 280.4L1318.0 282.1L1320.0 283.8L1322.0 285.6L1324.0 287.4L1326.0 289.3L1328.0 291.3L1330.0 293.2L1332.0 295.3L1334.0 297.3L1336.0 299.5L1338.0 301.6L1340.0 303.8L1342.0 306.1L1344.0 308.4L1346.0 310.8L1348.0 313.2L1350.0 315.7L1352.0 318.2L1354.0 320.8L1356.0 323.5L1358.0 326.2L1360.0 329.0L1362.0 331.8L1364.0 334.6L1366.0 337.5L1368.0 340.4L1370.0 343.4L1372.0 346.4L1374.0 349.4L1376.0 352.4L1378.0 355.5L1380.0 358.7L1382.0 361.9L1384.0 365.1L1386.0 368.2L1388.0 371.3L1390.0 374.8L1392.0 378.2L1394.0 381.7L1396.0 385.2L1398.0 388.8L1400.0 392.4L1402.0 396.1L1404.0 399.8L1406.0 403.5L1408.0 407.3L1410.0 411.1L1412.0 415.0L1414.0 418.9L1416.0 422.9L1418.0 426.9L1420.0 430.9L1422.0 434.9L1424.0 438.9L1426.0 443.0L1428.0 447.1L1430.0 451.2L1432.0 455.2L1434.0 459.2L1436.0 463.2L1438.0 467.0L1440.0 470.8L1442.0 474.4L1444.0 477.9L1446.0 481.3L1448.0 484.6L1450.0 487.8L1452.0 490.9L1454.0 493.9L1456.0 496.8L1458.0 499.7L1460.0 502.4L1462.0 505.1L1464.0 507.7L1466.0 510.3L1468.0 512.8L1470.0 515.2L1472.0 517.5L1474.0 519.7L1476.0 521.9L1478.0 524.0L1480.0 526.0L1482.0 527.9L1484.0 529.7L1486.0 531.4L1488.0 533.0L1490.0 534.4L1492.0 535.7L1494.0 536.8L1496.0 537.7L1498.0 538.5L1500.0 539.1L1502.0 539.4L1504.0 539.6L1506.0 539.5L1508.0 539.2L1510.0 538.7L1512.0 538.0L1514.0 537.1L1516.0 536.1L1518.0 534.8L1520.0 533.4L1522.0 531.8L1524.0 530.1L1526.0 528.2L1528.0 526.1L1530.0 523.8L1532.0 521.4L1534.0 518.7L1536.0 515.8L1538.0 512.6L1540.0 509.2L1542.0 505.7L1544.0 502.2L1546.0 498.6L1548.0 494.9L1550.0 491.2L1552.0 487.5L1554.0 483.9L1556.0 480.3L1558.0 476.7L1560.0 473.1L1562.0 469.6L1564.0 466.1L1566.0 462.6L1568.0 459.1L1570.0 455.6L1572.0 452.2L1574.0 448.7L1576.0 445.3L1578.0 441.9L1580.0 438.6L1582.0 435.2L1584.0 431.8L1586.0 428.5L1588.0 425.1L1590.0 421.8L1592.0 418.4L1594.0 415.1L1596.0 411.7L1598.0 408.3L1600.0 404.9L1602.0 401.5L1604.0 398.1L1606.0 394.6L1608.0 391.2L1610.0 387.7L1612.0 384.2L1614.0 380.7L1616.0 377.2L1618.0 373.6L1620.0 370.1L1622.0 366.5L1624.0 362.9L1626.0 359.3L1628.0 355.7L1630.0 352.0L1632.0 348.4L1634.0 344.7L1636.0 341.1L1638.0 337.4L1640.0 333.8L1642.0 330.1L1644.0 326.5L1646.0 323.0L1648.0 319.4L1650.0 315.9L1652.0 312.5L1654.0 309.1L1656.0 305.8L1658.0 302.5L1660.0 299.2L1662.0 296.1L1664.0 293.0L1666.0 290.0L1668.0 287.0L1670.0 284.1L1672.0 281.3L1674.0 278.6L1676.0 276.0L1678.0 273.4L1680.0 270.9L1682.0 268.6L1684.0 266.3L1686.0 264.1L1688.0 262.0L1690.0 260.0L1692.0 258.1L1694.0 256.3L1696.0 254.5L1698.0 252.8L1700.0 251.2L1702.0 249.6L1704.0 248.1L1706.0 246.6L1708.0 245.1L1710.0 243.7L1712.0 242.5L1714.0 241.2L1716.0 240.0L1718.0 238.8L1720.0 237.6L1722.0 236.5L1724.0 235.4L1726.0 234.2L1728.0 233.1L1730.0 232.0L1732.0 230.9L1734.0 229.8L1736.0 228.7L1738.0 227.6L1740.0 226.5L1742.0 225.4L1744.0 224.3L1746.0 223.2L1748.0 222.0L1750.0 220.9L1752.0 219.7L1754.0 218.5L1756.0 217.3L1758.0 216.0L1760.0 214.8L1762.0 213.5L1764.0 212.1L1766.0 210.8L1768.0 209.4L1769.0 208.7" stroke="#F0B438" stroke-width="6.2"/>
<path d="M936.0 184.9L938.0 188.4L940.0 192.1L942.0 196.0L944.0 200.1L946.0 204.5L948.0 209.1L950.0 213.9L952.0 219.1L954.0 224.5L956.0 230.2L958.0 236.2L960.0 242.6L962.0 249.3L964.0 256.5L966.0 264.1L968.0 272.1L970.0 280.6L972.0 289.6L974.0 299.0L976.0 308.8L978.0 319.0L980.0 329.7L982.0 340.7L984.0 352.1L986.0 364.0L988.0 376.4L990.0 389.4L992.0 403.1L994.0 417.3L996.0 432.2L998.0 447.7L1000.0 464.1L1002.0 481.9L1004.0 500.5L1006.0 519.2L1008.0 537.8L1010.0 557.2L1012.0 577.9L1014.0 597.4L1016.0 612.9L1018.0 624.4L1020.0 633.2L1022.0 640.2L1024.0 645.6L1026.0 649.5L1028.0 652.3L1030.0 653.9L1032.0 654.1L1034.0 652.6L1036.0 649.2L1038.0 643.6L1040.0 635.1L1042.0 624.7L1044.0 613.3L1046.0 601.0L1048.0 588.1L1050.0 575.4L1052.0 563.4L1054.0 552.1L1056.0 541.4L1058.0 531.0L1060.0 521.0L1062.0 511.2L1064.0 501.6L1066.0 492.1L1068.0 482.4L1070.0 472.6L1072.0 462.6L1074.0 452.5L1076.0 442.2L1078.0 431.8L1080.0 421.4L1082.0 411.1L1084.0 400.9L1086.0 390.9L1088.0 381.4L1090.0 372.4L1092.0 363.8L1094.0 355.8L1096.0 348.3L1098.0 341.4L1100.0 335.0L1102.0 329.0L1104.0 323.4L1106.0 318.2L1108.0 313.4L1110.0 308.9L1112.0 304.7L1114.0 300.7L1116.0 297.0L1118.0 293.6L1120.0 290.4L1122.0 287.3L1124.0 284.4L1126.0 281.7L1128.0 279.2L1130.0 276.8L1132.0 274.6L1134.0 272.5L1136.0 270.5L1138.0 268.6L1140.0 266.9L1142.0 265.2L1144.0 263.6L1146.0 262.2L1148.0 260.8L1150.0 259.5L1152.0 258.3L1154.0 257.2L1156.0 256.1L1158.0 255.1L1160.0 254.2L1162.0 253.3L1164.0 252.4L1166.0 251.7L1168.0 250.9L1170.0 250.2L1172.0 249.6L1174.0 248.9L1176.0 248.4L1178.0 247.8L1180.0 247.3L1182.0 246.8L1184.0 246.3L1186.0 245.9L1188.0 245.5L1190.0 245.2L1192.0 244.8L1194.0 244.5L1196.0 244.3L1198.0 244.0L1200.0 243.8L1202.0 243.6L1204.0 243.5L1206.0 243.4L1208.0 243.3L1210.0 243.3L1212.0 243.3L1214.0 243.3L1216.0 243.4L1218.0 243.5L1220.0 243.6L1222.0 243.8L1224.0 244.0L1226.0 244.2L1228.0 244.4L1230.0 244.7L1232.0 245.0L1234.0 245.3L1236.0 245.7L1238.0 246.1L1240.0 246.5L1242.0 247.0L1244.0 247.6L1246.0 248.2L1248.0 248.8L1250.0 249.4L1252.0 250.1L1254.0 250.8L1256.0 251.6L1258.0 252.3L1260.0 253.1L1262.0 253.9L1264.0 254.8L1266.0 255.6L1268.0 256.5L1270.0 257.4L1272.0 258.3L1274.0 259.3L1276.0 260.2L1278.0 261.2L1280.0 262.3L1282.0 263.4L1284.0 264.5L1286.0 265.7L1288.0 267.0L1290.0 268.3L1292.0 269.6L1294.0 270.9L1296.0 272.3L1298.0 273.7L1300.0 275.2L1302.0 276.6L1304.0 278.1L1306.0 279.6L1308.0 281.1L1310.0 282.6L1312.0 284.2L1314.0 285.8L1316.0 287.4L1318.0 289.1L1320.0 290.8L1322.0 292.6L1324.0 294.4L1326.0 296.3L1328.0 298.2L1330.0 300.1L1332.0 302.2L1334.0 304.2L1336.0 306.3L1338.0 308.4L1340.0 310.6L1342.0 312.8L1344.0 315.0L1346.0 317.2L1348.0 319.5L1350.0 321.8L1352.0 324.0L1354.0 326.4L1356.0 328.7L1358.0 331.1L1360.0 333.5L1362.0 336.0L1364.0 338.5L1366.0 341.0L1368.0 343.5L1370.0 346.1L1372.0 348.8L1374.0 351.4L1376.0 354.2L1378.0 356.9L1380.0 359.7L1382.0 362.5L1384.0 365.4L1386.0 368.3L1388.0 371.3L1390.0 374.3L1392.0 377.3L1394.0 380.4L1396.0 383.5L1398.0 386.6L1400.0 389.8L1402.0 393.0L1404.0 396.3L1406.0 399.5L1408.0 402.8L1410.0 406.1L1412.0 409.4L1414.0 412.8L1416.0 416.1L1418.0 419.5L1420.0 422.9L1422.0 426.3L1424.0 429.7L1426.0 433.1L1428.0 436.6L1430.0 440.0L1432.0 443.4L1434.0 446.7L1436.0 449.9L1438.0 453.1L1440.0 456.1L1442.0 459.0L1444.0 461.8L1446.0 464.5L1448.0 467.0L1450.0 469.4L1452.0 471.8L1454.0 474.0L1456.0 476.2L1458.0 478.3L1460.0 480.3L1462.0 482.3L1464.0 484.2L1466.0 486.0L1468.0 487.8L1470.0 489.6L1472.0 491.3L1474.0 492.9L1476.0 494.5L1478.0 496.1L1480.0 497.5L1482.0 498.9L1484.0 500.2L1486.0 501.5L1488.0 502.6L1490.0 503.6L1492.0 504.5L1494.0 505.3L1496.0 505.9L1498.0 506.4L1500.0 506.7L1502.0 506.8L1504.0 506.8L1506.0 506.6L1508.0 506.2L1510.0 505.6L1512.0 504.9L1514.0 504.1L1516.0 503.1L1518.0 502.0L1520.0 500.7L1522.0 499.4L1524.0 497.9L1526.0 496.3L1528.0 494.5L1530.0 492.7L1532.0 490.6L1534.0 488.4L1536.0 486.0L1538.0 483.3L1540.0 480.5L1542.0 477.5L1544.0 474.5L1546.0 471.4L1548.0 468.2L1550.0 465.1L1552.0 461.9L1554.0 458.8L1556.0 455.7L1558.0 452.6L1560.0 449.6L1562.0 446.6L1564.0 443.6L1566.0 440.7L1568.0 437.7L1570.0 434.8L1572.0 431.9L1574.0 429.0L1576.0 426.2L1578.0 423.3L1580.0 420.5L1582.0 417.7L1584.0 415.0L1586.0 412.2L1588.0 409.4L1590.0 406.6L1592.0 403.9L1594.0 401.1L1596.0 398.3L1598.0 395.5L1600.0 392.7L1602.0 389.9L1604.0 387.0L1606.0 384.2L1608.0 381.3L1610.0 378.3L1612.0 375.4L1614.0 372.4L1616.0 369.4L1618.0 366.3L1620.0 363.3L1622.0 360.1L1624.0 357.0L1626.0 353.8L1628.0 350.5L1630.0 347.3L1632.0 344.0L1634.0 340.6L1636.0 337.3L1638.0 333.9L1640.0 330.5L1642.0 327.1L1644.0 323.6L1646.0 320.2L1648.0 316.9L1650.0 313.5L1652.0 310.1L1654.0 306.8L1656.0 303.6L1658.0 300.4L1660.0 297.2L1662.0 294.1L1664.0 291.1L1666.0 288.1L1668.0 285.2L1670.0 282.4L1672.0 279.7L1674.0 277.0L1676.0 274.4L1678.0 272.0L1680.0 269.6L1682.0 267.3L1684.0 265.1L1686.0 262.9L1688.0 260.9L1690.0 259.0L1692.0 257.2L1694.0 255.4L1696.0 253.7L1698.0 252.1L1700.0 250.6L1702.0 249.1L1704.0 247.7L1706.0 246.3L1708.0 245.0L1710.0 243.7L1712.0 242.5L1714.0 241.3L1716.0 240.1L1718.0 239.0L1720.0 237.9L1722.0 236.8L1724.0 235.7L1726.0 234.6L1728.0 233.6L1730.0 232.6L1732.0 231.6L1734.0 230.6L1736.0 229.6L1738.0 228.6L1740.0 227.6L1742.0 226.6L1744.0 225.5L1746.0 224.5L1748.0 223.5L1750.0 222.4L1752.0 221.4L1754.0 220.3L1756.0 219.1L1758.0 218.0L1760.0 216.8L1762.0 215.6L1764.0 214.4L1766.0 213.1L1768.0 211.8L1769.0 211.1" stroke="#F0E038" stroke-width="6.2"/>
<path d="M936.0 184.9L938.0 188.4L940.0 192.0L942.0 195.8L944.0 199.8L946.0 204.1L948.0 208.6L950.0 213.3L952.0 218.4L954.0 223.8L956.0 229.4L958.0 235.3L960.0 241.6L962.0 248.3L964.0 255.3L966.0 262.8L968.0 270.6L970.0 278.9L972.0 287.6L974.0 296.7L976.0 306.3L978.0 316.2L980.0 326.6L982.0 337.3L984.0 348.5L986.0 360.1L988.0 372.2L990.0 384.8L992.0 398.1L994.0 412.0L996.0 426.4L998.0 441.3L1000.0 457.0L1002.0 473.8L1004.0 491.6L1006.0 510.1L1008.0 528.5L1010.0 547.0L1012.0 566.7L1014.0 586.2L1016.0 602.7L1018.0 615.3L1020.0 624.8L1022.0 632.1L1024.0 638.0L1026.0 642.5L1028.0 645.7L1030.0 647.8L1032.0 648.7L1034.0 648.1L1036.0 645.7L1038.0 641.5L1040.0 634.9L1042.0 626.1L1044.0 616.1L1046.0 605.5L1048.0 594.4L1050.0 582.7L1052.0 571.5L1054.0 560.6L1056.0 550.1L1058.0 539.8L1060.0 529.8L1062.0 520.2L1064.0 510.7L1066.0 501.5L1068.0 492.3L1070.0 483.1L1072.0 473.7L1074.0 464.1L1076.0 454.5L1078.0 444.7L1080.0 434.7L1082.0 424.7L1084.0 414.6L1086.0 404.7L1088.0 395.1L1090.0 385.8L1092.0 376.9L1094.0 368.5L1096.0 360.6L1098.0 353.1L1100.0 346.2L1102.0 339.8L1104.0 333.8L1106.0 328.3L1108.0 323.1L1110.0 318.4L1112.0 313.9L1114.0 309.8L1116.0 306.0L1118.0 302.5L1120.0 299.2L1122.0 296.1L1124.0 293.2L1126.0 290.5L1128.0 288.0L1130.0 285.6L1132.0 283.4L1134.0 281.3L1136.0 279.3L1138.0 277.4L1140.0 275.7L1142.0 274.0L1144.0 272.5L1146.0 271.0L1148.0 269.6L1150.0 268.3L1152.0 267.1L1154.0 265.9L1156.0 264.9L1158.0 263.9L1160.0 262.9L1162.0 262.0L1164.0 261.1L1166.0 260.3L1168.0 259.6L1170.0 258.8L1172.0 258.2L1174.0 257.5L1176.0 256.9L1178.0 256.3L1180.0 255.8L1182.0 255.3L1184.0 254.9L1186.0 254.5L1188.0 254.1L1190.0 253.7L1192.0 253.4L1194.0 253.1L1196.0 252.8L1198.0 252.6L1200.0 252.4L1202.0 252.2L1204.0 252.0L1206.0 251.9L1208.0 251.8L1210.0 251.7L1212.0 251.7L1214.0 251.7L1216.0 251.8L1218.0 251.8L1220.0 251.9L1222.0 252.0L1224.0 252.2L1226.0 252.3L1228.0 252.5L1230.0 252.7L1232.0 253.0L1234.0 253.3L1236.0 253.6L1238.0 254.0L1240.0 254.4L1242.0 254.9L1244.0 255.4L1246.0 255.9L1248.0 256.5L1250.0 257.1L1252.0 257.7L1254.0 258.4L1256.0 259.1L1258.0 259.8L1260.0 260.6L1262.0 261.3L1264.0 262.1L1266.0 262.9L1268.0 263.8L1270.0 264.6L1272.0 265.5L1274.0 266.4L1276.0 267.3L1278.0 268.2L1280.0 269.2L1282.0 270.2L1284.0 271.3L1286.0 272.4L1288.0 273.5L1290.0 274.7L1292.0 275.9L1294.0 277.2L1296.0 278.5L1298.0 279.8L1300.0 281.1L1302.0 282.5L1304.0 283.8L1306.0 285.2L1308.0 286.7L1310.0 288.1L1312.0 289.6L1314.0 291.1L1316.0 292.7L1318.0 294.2L1320.0 295.9L1322.0 297.5L1324.0 299.2L1326.0 301.0L1328.0 302.7L1330.0 304.6L1332.0 306.4L1334.0 308.3L1336.0 310.1L1338.0 312.0L1340.0 314.0L1342.0 315.9L1344.0 317.9L1346.0 319.9L1348.0 321.9L1350.0 324.0L1352.0 326.0L1354.0 328.1L1356.0 330.2L1358.0 332.4L1360.0 334.5L1362.0 336.7L1364.0 339.0L1366.0 341.3L1368.0 343.6L1370.0 345.9L1372.0 348.3L1374.0 350.8L1376.0 353.2L1378.0 355.7L1380.0 358.2L1382.0 360.7L1384.0 363.3L1386.0 366.1L1388.0 368.9L1390.0 371.5L1392.0 374.2L1394.0 376.8L1396.0 379.5L1398.0 382.2L1400.0 385.0L1402.0 387.7L1404.0 390.4L1406.0 393.1L1408.0 395.7L1410.0 398.4L1412.0 401.1L1414.0 403.7L1416.0 406.4L1418.0 409.0L1420.0 411.6L1422.0 414.2L1424.0 416.8L1426.0 419.4L1428.0 421.9L1430.0 424.4L1432.0 426.8L1434.0 429.2L1436.0 431.5L1438.0 433.7L1440.0 435.8L1442.0 437.9L1444.0 439.8L1446.0 441.7L1448.0 443.5L1450.0 445.2L1452.0 446.8L1454.0 448.4L1456.0 449.9L1458.0 451.4L1460.0 452.8L1462.0 454.2L1464.0 455.5L1466.0 456.8L1468.0 458.1L1470.0 459.4L1472.0 460.6L1474.0 461.8L1476.0 462.9L1478.0 464.0L1480.0 465.0L1482.0 466.0L1484.0 467.0L1486.0 467.8L1488.0 468.6L1490.0 469.3L1492.0 469.9L1494.0 470.4L1496.0 470.8L1498.0 471.1L1500.0 471.3L1502.0 471.4L1504.0 471.3L1506.0 471.2L1508.0 470.9L1510.0 470.5L1512.0 470.1L1514.0 469.5L1516.0 468.8L1518.0 468.1L1520.0 467.2L1522.0 466.2L1524.0 465.2L1526.0 464.0L1528.0 462.7L1530.0 461.2L1532.0 459.7L1534.0 458.0L1536.0 456.2L1538.0 454.2L1540.0 452.1L1542.0 449.9L1544.0 447.6L1546.0 445.3L1548.0 442.8L1550.0 440.4L1552.0 437.9L1554.0 435.4L1556.0 432.9L1558.0 430.4L1560.0 427.9L1562.0 425.4L1564.0 422.9L1566.0 420.5L1568.0 418.0L1570.0 415.6L1572.0 413.2L1574.0 410.8L1576.0 408.4L1578.0 406.0L1580.0 403.7L1582.0 401.4L1584.0 399.0L1586.0 396.7L1588.0 394.4L1590.0 392.1L1592.0 389.8L1594.0 387.5L1596.0 385.2L1598.0 382.8L1600.0 380.5L1602.0 378.1L1604.0 375.8L1606.0 373.4L1608.0 371.0L1610.0 368.5L1612.0 366.0L1614.0 363.5L1616.0 360.9L1618.0 358.2L1620.0 355.6L1622.0 352.8L1624.0 350.0L1626.0 347.2L1628.0 344.3L1630.0 341.3L1632.0 338.3L1634.0 335.2L1636.0 332.1L1638.0 329.0L1640.0 325.8L1642.0 322.6L1644.0 319.4L1646.0 316.2L1648.0 313.0L1650.0 309.8L1652.0 306.7L1654.0 303.5L1656.0 300.4L1658.0 297.4L1660.0 294.4L1662.0 291.4L1664.0 288.5L1666.0 285.7L1668.0 283.0L1670.0 280.3L1672.0 277.7L1674.0 275.2L1676.0 272.8L1678.0 270.5L1680.0 268.2L1682.0 266.0L1684.0 263.9L1686.0 261.9L1688.0 260.0L1690.0 258.1L1692.0 256.3L1694.0 254.7L1696.0 253.0L1698.0 251.5L1700.0 250.0L1702.0 248.6L1704.0 247.3L1706.0 246.0L1708.0 244.7L1710.0 243.5L1712.0 242.3L1714.0 241.1L1716.0 240.0L1718.0 238.9L1720.0 237.8L1722.0 236.7L1724.0 235.7L1726.0 234.7L1728.0 233.7L1730.0 232.7L1732.0 231.8L1734.0 230.8L1736.0 229.9L1738.0 229.0L1740.0 228.0L1742.0 227.1L1744.0 226.2L1746.0 225.2L1748.0 224.2L1750.0 223.2L1752.0 222.2L1754.0 221.2L1756.0 220.1L1758.0 219.0L1760.0 217.9L1762.0 216.8L1764.0 215.6L1766.0 214.5L1768.0 213.3L1769.0 212.7" stroke="#98E038" stroke-width="6.2"/>
<path d="M936.0 184.9L938.0 188.3L940.0 191.8L942.0 195.6L944.0 199.5L946.0 203.7L948.0 208.1L950.0 212.8L952.0 217.8L954.0 223.1L956.0 228.6L958.0 234.5L960.0 240.7L962.0 247.3L964.0 254.2L966.0 261.5L968.0 269.2L970.0 277.3L972.0 285.7L974.0 294.6L976.0 303.9L978.0 313.6L980.0 323.7L982.0 334.1L984.0 345.0L986.0 356.4L988.0 368.2L990.0 380.5L992.0 393.4L994.0 407.0L996.0 421.1L998.0 435.7L1000.0 450.9L1002.0 466.9L1004.0 483.8L1006.0 501.6L1008.0 519.6L1010.0 537.3L1012.0 555.4L1014.0 574.6L1016.0 591.8L1018.0 605.5L1020.0 616.1L1022.0 624.2L1024.0 630.5L1026.0 635.6L1028.0 639.4L1030.0 642.0L1032.0 643.6L1034.0 643.9L1036.0 642.5L1038.0 639.4L1040.0 634.5L1042.0 627.4L1044.0 618.8L1046.0 609.5L1048.0 599.9L1050.0 589.9L1052.0 579.3L1054.0 568.9L1056.0 558.8L1058.0 548.7L1060.0 538.7L1062.0 529.0L1064.0 519.7L1066.0 510.6L1068.0 501.9L1070.0 493.2L1072.0 484.4L1074.0 475.6L1076.0 466.6L1078.0 457.6L1080.0 448.3L1082.0 438.9L1084.0 429.4L1086.0 419.9L1088.0 410.4L1090.0 401.0L1092.0 391.9L1094.0 383.0L1096.0 374.6L1098.0 366.6L1100.0 359.1L1102.0 352.1L1104.0 345.5L1106.0 339.5L1108.0 333.9L1110.0 328.7L1112.0 324.0L1114.0 319.7L1116.0 315.8L1118.0 312.1L1120.0 308.7L1122.0 305.5L1124.0 302.5L1126.0 299.8L1128.0 297.2L1130.0 294.8L1132.0 292.5L1134.0 290.4L1136.0 288.4L1138.0 286.5L1140.0 284.8L1142.0 283.1L1144.0 281.6L1146.0 280.1L1148.0 278.7L1150.0 277.4L1152.0 276.2L1154.0 275.1L1156.0 274.0L1158.0 272.9L1160.0 271.9L1162.0 271.0L1164.0 270.1L1166.0 269.3L1168.0 268.5L1170.0 267.8L1172.0 267.1L1174.0 266.4L1176.0 265.8L1178.0 265.3L1180.0 264.8L1182.0 264.3L1184.0 263.9L1186.0 263.6L1188.0 263.2L1190.0 262.9L1192.0 262.6L1194.0 262.4L1196.0 262.1L1198.0 261.9L1200.0 261.7L1202.0 261.6L1204.0 261.4L1206.0 261.3L1208.0 261.1L1210.0 261.0L1212.0 261.0L1214.0 260.9L1216.0 260.9L1218.0 260.9L1220.0 260.9L1222.0 260.9L1224.0 261.0L1226.0 261.0L1228.0 261.2L1230.0 261.3L1232.0 261.5L1234.0 261.7L1236.0 262.0L1238.0 262.3L1240.0 262.6L1242.0 263.0L1244.0 263.5L1246.0 263.9L1248.0 264.4L1250.0 265.0L1252.0 265.5L1254.0 266.1L1256.0 266.7L1258.0 267.4L1260.0 268.0L1262.0 268.7L1264.0 269.5L1266.0 270.2L1268.0 271.0L1270.0 271.7L1272.0 272.5L1274.0 273.3L1276.0 274.2L1278.0 275.0L1280.0 275.9L1282.0 276.9L1284.0 277.8L1286.0 278.8L1288.0 279.8L1290.0 280.8L1292.0 281.9L1294.0 283.0L1296.0 284.2L1298.0 285.3L1300.0 286.5L1302.0 287.8L1304.0 289.0L1306.0 290.4L1308.0 291.7L1310.0 293.2L1312.0 294.6L1314.0 296.1L1316.0 297.7L1318.0 299.3L1320.0 301.0L1322.0 302.7L1324.0 304.4L1326.0 306.2L1328.0 308.0L1330.0 309.9L1332.0 311.7L1334.0 313.4L1336.0 315.2L1338.0 316.9L1340.0 318.7L1342.0 320.4L1344.0 322.2L1346.0 324.0L1348.0 325.7L1350.0 327.5L1352.0 329.4L1354.0 331.2L1356.0 333.1L1358.0 335.0L1360.0 336.9L1362.0 338.8L1364.0 340.8L1366.0 342.8L1368.0 344.9L1370.0 347.0L1372.0 349.1L1374.0 351.2L1376.0 353.4L1378.0 355.6L1380.0 357.8L1382.0 360.0L1384.0 362.3L1386.0 364.9L1388.0 367.5L1390.0 369.9L1392.0 372.3L1394.0 374.7L1396.0 377.1L1398.0 379.5L1400.0 381.8L1402.0 384.1L1404.0 386.4L1406.0 388.7L1408.0 390.9L1410.0 393.1L1412.0 395.2L1414.0 397.3L1416.0 399.4L1418.0 401.5L1420.0 403.5L1422.0 405.5L1424.0 407.4L1426.0 409.3L1428.0 411.2L1430.0 413.0L1432.0 414.7L1434.0 416.4L1436.0 418.1L1438.0 419.6L1440.0 421.1L1442.0 422.5L1444.0 423.9L1446.0 425.2L1448.0 426.4L1450.0 427.6L1452.0 428.7L1454.0 429.7L1456.0 430.8L1458.0 431.8L1460.0 432.7L1462.0 433.7L1464.0 434.6L1466.0 435.5L1468.0 436.4L1470.0 437.3L1472.0 438.2L1474.0 439.0L1476.0 439.8L1478.0 440.5L1480.0 441.2L1482.0 441.9L1484.0 442.5L1486.0 443.1L1488.0 443.6L1490.0 444.0L1492.0 444.3L1494.0 444.6L1496.0 444.8L1498.0 444.9L1500.0 444.9L1502.0 444.9L1504.0 444.8L1506.0 444.6L1508.0 444.3L1510.0 444.0L1512.0 443.6L1514.0 443.1L1516.0 442.5L1518.0 441.9L1520.0 441.2L1522.0 440.5L1524.0 439.6L1526.0 438.7L1528.0 437.7L1530.0 436.5L1532.0 435.3L1534.0 434.0L1536.0 432.5L1538.0 430.9L1540.0 429.3L1542.0 427.5L1544.0 425.7L1546.0 423.8L1548.0 421.8L1550.0 419.8L1552.0 417.8L1554.0 415.7L1556.0 413.6L1558.0 411.5L1560.0 409.4L1562.0 407.3L1564.0 405.2L1566.0 403.1L1568.0 401.1L1570.0 399.0L1572.0 396.9L1574.0 394.8L1576.0 392.8L1578.0 390.7L1580.0 388.7L1582.0 386.6L1584.0 384.6L1586.0 382.6L1588.0 380.5L1590.0 378.5L1592.0 376.5L1594.0 374.5L1596.0 372.5L1598.0 370.5L1600.0 368.4L1602.0 366.4L1604.0 364.3L1606.0 362.2L1608.0 360.1L1610.0 357.9L1612.0 355.7L1614.0 353.4L1616.0 351.1L1618.0 348.8L1620.0 346.3L1622.0 343.8L1624.0 341.3L1626.0 338.7L1628.0 336.0L1630.0 333.2L1632.0 330.4L1634.0 327.6L1636.0 324.7L1638.0 321.7L1640.0 318.8L1642.0 315.8L1644.0 312.8L1646.0 309.8L1648.0 306.8L1650.0 303.8L1652.0 300.9L1654.0 298.0L1656.0 295.1L1658.0 292.3L1660.0 289.6L1662.0 286.9L1664.0 284.3L1666.0 281.7L1668.0 279.2L1670.0 276.8L1672.0 274.5L1674.0 272.2L1676.0 270.0L1678.0 267.9L1680.0 265.8L1682.0 263.8L1684.0 261.9L1686.0 260.1L1688.0 258.3L1690.0 256.6L1692.0 255.0L1694.0 253.4L1696.0 251.9L1698.0 250.5L1700.0 249.1L1702.0 247.8L1704.0 246.5L1706.0 245.3L1708.0 244.1L1710.0 243.0L1712.0 241.8L1714.0 240.7L1716.0 239.6L1718.0 238.6L1720.0 237.6L1722.0 236.5L1724.0 235.6L1726.0 234.6L1728.0 233.6L1730.0 232.7L1732.0 231.8L1734.0 230.9L1736.0 230.1L1738.0 229.2L1740.0 228.3L1742.0 227.4L1744.0 226.6L1746.0 225.7L1748.0 224.7L1750.0 223.8L1752.0 222.8L1754.0 221.8L1756.0 220.8L1758.0 219.8L1760.0 218.7L1762.0 217.6L1764.0 216.5L1766.0 215.4L1768.0 214.3L1769.0 213.7" stroke="#10D89A" stroke-width="6.2"/>
<path d="M936.0 184.9L938.0 188.2L940.0 191.7L942.0 195.3L944.0 199.2L946.0 203.3L948.0 207.7L950.0 212.3L952.0 217.2L954.0 222.4L956.0 227.9L958.0 233.7L960.0 239.8L962.0 246.3L964.0 253.1L966.0 260.3L968.0 267.8L970.0 275.7L972.0 283.9L974.0 292.6L976.0 301.7L978.0 311.1L980.0 320.9L982.0 331.1L984.0 341.7L986.0 352.8L988.0 364.3L990.0 376.4L992.0 389.0L994.0 402.2L996.0 415.9L998.0 430.2L1000.0 445.0L1002.0 460.4L1004.0 476.7L1006.0 493.7L1008.0 511.1L1010.0 528.2L1012.0 545.1L1014.0 562.6L1016.0 580.4L1018.0 595.5L1020.0 607.1L1022.0 616.1L1024.0 623.1L1026.0 628.7L1028.0 633.1L1030.0 636.4L1032.0 638.6L1034.0 639.8L1036.0 639.5L1038.0 637.5L1040.0 633.9L1042.0 628.5L1044.0 621.4L1046.0 613.4L1048.0 604.9L1050.0 596.1L1052.0 586.7L1054.0 577.0L1056.0 567.3L1058.0 557.5L1060.0 547.8L1062.0 538.1L1064.0 528.7L1066.0 519.7L1068.0 511.1L1070.0 502.8L1072.0 494.6L1074.0 486.4L1076.0 478.1L1078.0 469.9L1080.0 461.4L1082.0 452.9L1084.0 444.1L1086.0 435.1L1088.0 426.0L1090.0 416.9L1092.0 407.7L1094.0 398.7L1096.0 390.0L1098.0 381.5L1100.0 373.3L1102.0 365.7L1104.0 358.5L1106.0 351.9L1108.0 345.9L1110.0 340.3L1112.0 335.2L1114.0 330.6L1116.0 326.3L1118.0 322.4L1120.0 318.9L1122.0 315.6L1124.0 312.5L1126.0 309.6L1128.0 306.9L1130.0 304.5L1132.0 302.1L1134.0 299.9L1136.0 297.9L1138.0 296.0L1140.0 294.2L1142.0 292.5L1144.0 291.0L1146.0 289.5L1148.0 288.1L1150.0 286.8L1152.0 285.5L1154.0 284.3L1156.0 283.2L1158.0 282.1L1160.0 281.1L1162.0 280.2L1164.0 279.2L1166.0 278.4L1168.0 277.5L1170.0 276.8L1172.0 276.1L1174.0 275.4L1176.0 274.8L1178.0 274.3L1180.0 273.8L1182.0 273.3L1184.0 272.9L1186.0 272.6L1188.0 272.3L1190.0 272.0L1192.0 271.7L1194.0 271.5L1196.0 271.3L1198.0 271.1L1200.0 270.9L1202.0 270.7L1204.0 270.6L1206.0 270.4L1208.0 270.3L1210.0 270.1L1212.0 270.0L1214.0 269.9L1216.0 269.8L1218.0 269.7L1220.0 269.6L1222.0 269.5L1224.0 269.5L1226.0 269.5L1228.0 269.5L1230.0 269.6L1232.0 269.7L1234.0 269.9L1236.0 270.1L1238.0 270.3L1240.0 270.6L1242.0 270.9L1244.0 271.3L1246.0 271.6L1248.0 272.0L1250.0 272.5L1252.0 273.0L1254.0 273.5L1256.0 274.0L1258.0 274.5L1260.0 275.1L1262.0 275.7L1264.0 276.4L1266.0 277.0L1268.0 277.7L1270.0 278.4L1272.0 279.1L1274.0 279.8L1276.0 280.6L1278.0 281.4L1280.0 282.2L1282.0 283.0L1284.0 283.8L1286.0 284.7L1288.0 285.6L1290.0 286.5L1292.0 287.4L1294.0 288.4L1296.0 289.4L1298.0 290.5L1300.0 291.6L1302.0 292.7L1304.0 294.0L1306.0 295.2L1308.0 296.6L1310.0 298.0L1312.0 299.4L1314.0 301.0L1316.0 302.5L1318.0 304.2L1320.0 305.8L1322.0 307.5L1324.0 309.3L1326.0 311.1L1328.0 312.9L1330.0 314.7L1332.0 316.5L1334.0 318.1L1336.0 319.7L1338.0 321.3L1340.0 322.9L1342.0 324.5L1344.0 326.1L1346.0 327.7L1348.0 329.3L1350.0 330.9L1352.0 332.5L1354.0 334.2L1356.0 335.9L1358.0 337.6L1360.0 339.3L1362.0 341.1L1364.0 342.9L1366.0 344.7L1368.0 346.5L1370.0 348.4L1372.0 350.3L1374.0 352.2L1376.0 354.2L1378.0 356.1L1380.0 358.1L1382.0 360.0L1384.0 362.1L1386.0 364.3L1388.0 366.5L1390.0 368.6L1392.0 370.7L1394.0 372.7L1396.0 374.6L1398.0 376.6L1400.0 378.4L1402.0 380.2L1404.0 381.9L1406.0 383.6L1408.0 385.3L1410.0 386.8L1412.0 388.4L1414.0 389.8L1416.0 391.3L1418.0 392.7L1420.0 394.0L1422.0 395.3L1424.0 396.6L1426.0 397.8L1428.0 399.0L1430.0 400.1L1432.0 401.2L1434.0 402.2L1436.0 403.2L1438.0 404.1L1440.0 405.0L1442.0 405.9L1444.0 406.7L1446.0 407.4L1448.0 408.1L1450.0 408.8L1452.0 409.5L1454.0 410.1L1456.0 410.7L1458.0 411.2L1460.0 411.8L1462.0 412.3L1464.0 412.8L1466.0 413.3L1468.0 413.8L1470.0 414.2L1472.0 414.7L1474.0 415.1L1476.0 415.4L1478.0 415.8L1480.0 416.1L1482.0 416.4L1484.0 416.6L1486.0 416.8L1488.0 417.0L1490.0 417.1L1492.0 417.2L1494.0 417.2L1496.0 417.2L1498.0 417.2L1500.0 417.1L1502.0 417.0L1504.0 416.8L1506.0 416.7L1508.0 416.5L1510.0 416.2L1512.0 416.0L1514.0 415.7L1516.0 415.4L1518.0 415.0L1520.0 414.6L1522.0 414.1L1524.0 413.6L1526.0 413.0L1528.0 412.4L1530.0 411.6L1532.0 410.8L1534.0 409.9L1536.0 408.9L1538.0 407.9L1540.0 406.7L1542.0 405.5L1544.0 404.2L1546.0 402.8L1548.0 401.4L1550.0 399.9L1552.0 398.4L1554.0 396.9L1556.0 395.3L1558.0 393.6L1560.0 392.0L1562.0 390.3L1564.0 388.5L1566.0 386.8L1568.0 385.0L1570.0 383.2L1572.0 381.4L1574.0 379.6L1576.0 377.7L1578.0 375.8L1580.0 374.0L1582.0 372.1L1584.0 370.2L1586.0 368.3L1588.0 366.4L1590.0 364.5L1592.0 362.5L1594.0 360.6L1596.0 358.7L1598.0 356.8L1600.0 354.8L1602.0 352.9L1604.0 350.9L1606.0 348.9L1608.0 346.9L1610.0 344.9L1612.0 342.9L1614.0 340.8L1616.0 338.7L1618.0 336.5L1620.0 334.3L1622.0 332.1L1624.0 329.8L1626.0 327.5L1628.0 325.1L1630.0 322.7L1632.0 320.3L1634.0 317.8L1636.0 315.3L1638.0 312.7L1640.0 310.2L1642.0 307.6L1644.0 305.0L1646.0 302.4L1648.0 299.9L1650.0 297.3L1652.0 294.8L1654.0 292.2L1656.0 289.8L1658.0 287.3L1660.0 284.9L1662.0 282.5L1664.0 280.2L1666.0 277.9L1668.0 275.7L1670.0 273.5L1672.0 271.4L1674.0 269.3L1676.0 267.3L1678.0 265.4L1680.0 263.5L1682.0 261.7L1684.0 259.9L1686.0 258.2L1688.0 256.6L1690.0 255.0L1692.0 253.5L1694.0 252.1L1696.0 250.7L1698.0 249.4L1700.0 248.1L1702.0 246.8L1704.0 245.6L1706.0 244.5L1708.0 243.3L1710.0 242.3L1712.0 241.2L1714.0 240.2L1716.0 239.1L1718.0 238.2L1720.0 237.2L1722.0 236.2L1724.0 235.3L1726.0 234.4L1728.0 233.5L1730.0 232.7L1732.0 231.8L1734.0 231.0L1736.0 230.1L1738.0 229.3L1740.0 228.5L1742.0 227.6L1744.0 226.8L1746.0 225.9L1748.0 225.1L1750.0 224.2L1752.0 223.3L1754.0 222.3L1756.0 221.3L1758.0 220.4L1760.0 219.4L1762.0 218.3L1764.0 217.3L1766.0 216.2L1768.0 215.1L1769.0 214.6" stroke="#18A8F0" stroke-width="6.2"/>
<path d="M936.0 184.9L938.0 188.1L940.0 191.5L942.0 195.1L944.0 198.9L946.0 202.9L948.0 207.2L950.0 211.8L952.0 216.6L954.0 221.7L956.0 227.1L958.0 232.9L960.0 238.9L962.0 245.3L964.0 252.0L966.0 259.0L968.0 266.4L970.0 274.1L972.0 282.2L974.0 290.6L976.0 299.4L978.0 308.6L980.0 318.1L982.0 328.1L984.0 338.4L986.0 349.2L988.0 360.4L990.0 372.2L992.0 384.5L994.0 397.3L996.0 410.7L998.0 424.7L1000.0 439.2L1002.0 454.1L1004.0 469.7L1006.0 486.0L1008.0 502.8L1010.0 519.4L1012.0 535.7L1014.0 551.9L1016.0 568.4L1018.0 584.5L1020.0 598.2L1022.0 608.3L1024.0 616.0L1026.0 622.0L1028.0 626.9L1030.0 630.8L1032.0 633.6L1034.0 635.5L1036.0 636.3L1038.0 635.5L1040.0 633.2L1042.0 629.3L1044.0 623.9L1046.0 617.2L1048.0 609.8L1050.0 602.0L1052.0 593.6L1054.0 584.6L1056.0 575.4L1058.0 566.1L1060.0 556.8L1062.0 547.4L1064.0 538.0L1066.0 528.9L1068.0 520.3L1070.0 512.2L1072.0 504.3L1074.0 496.6L1076.0 488.9L1078.0 481.2L1080.0 473.4L1082.0 465.6L1084.0 457.6L1086.0 449.3L1088.0 440.9L1090.0 432.2L1092.0 423.4L1094.0 414.5L1096.0 405.7L1098.0 397.0L1100.0 388.6L1102.0 380.5L1104.0 372.9L1106.0 365.8L1108.0 359.2L1110.0 353.1L1112.0 347.6L1114.0 342.6L1116.0 338.1L1118.0 333.9L1120.0 330.1L1122.0 326.5L1124.0 323.2L1126.0 320.2L1128.0 317.3L1130.0 314.7L1132.0 312.2L1134.0 310.0L1136.0 307.8L1138.0 305.9L1140.0 304.0L1142.0 302.3L1144.0 300.6L1146.0 299.1L1148.0 297.6L1150.0 296.2L1152.0 294.9L1154.0 293.7L1156.0 292.5L1158.0 291.3L1160.0 290.3L1162.0 289.2L1164.0 288.3L1166.0 287.3L1168.0 286.4L1170.0 285.6L1172.0 284.8L1174.0 284.1L1176.0 283.5L1178.0 282.9L1180.0 282.3L1182.0 281.9L1184.0 281.4L1186.0 281.0L1188.0 280.7L1190.0 280.3L1192.0 280.0L1194.0 279.7L1196.0 279.4L1198.0 279.2L1200.0 279.0L1202.0 278.7L1204.0 278.5L1206.0 278.3L1208.0 278.1L1210.0 278.0L1212.0 277.8L1214.0 277.6L1216.0 277.5L1218.0 277.3L1220.0 277.2L1222.0 277.1L1224.0 277.0L1226.0 277.0L1228.0 277.0L1230.0 277.0L1232.0 277.0L1234.0 277.1L1236.0 277.3L1238.0 277.4L1240.0 277.7L1242.0 277.9L1244.0 278.2L1246.0 278.5L1248.0 278.8L1250.0 279.1L1252.0 279.5L1254.0 279.9L1256.0 280.4L1258.0 280.8L1260.0 281.3L1262.0 281.8L1264.0 282.4L1266.0 282.9L1268.0 283.5L1270.0 284.1L1272.0 284.8L1274.0 285.4L1276.0 286.1L1278.0 286.7L1280.0 287.4L1282.0 288.1L1284.0 288.9L1286.0 289.6L1288.0 290.4L1290.0 291.1L1292.0 292.0L1294.0 292.8L1296.0 293.6L1298.0 294.6L1300.0 295.5L1302.0 296.5L1304.0 297.6L1306.0 298.7L1308.0 299.9L1310.0 301.1L1312.0 302.4L1314.0 303.8L1316.0 305.2L1318.0 306.6L1320.0 308.1L1322.0 309.6L1324.0 311.1L1326.0 312.7L1328.0 314.2L1330.0 315.8L1332.0 317.4L1334.0 318.9L1336.0 320.5L1338.0 322.0L1340.0 323.5L1342.0 325.1L1344.0 326.6L1346.0 328.1L1348.0 329.6L1350.0 331.2L1352.0 332.8L1354.0 334.3L1356.0 336.0L1358.0 337.6L1360.0 339.3L1362.0 340.9L1364.0 342.6L1366.0 344.4L1368.0 346.1L1370.0 347.9L1372.0 349.7L1374.0 351.5L1376.0 353.4L1378.0 355.2L1380.0 357.0L1382.0 358.7L1384.0 360.4L1386.0 362.1L1388.0 363.7L1390.0 365.3L1392.0 366.8L1394.0 368.3L1396.0 369.6L1398.0 371.0L1400.0 372.2L1402.0 373.4L1404.0 374.6L1406.0 375.7L1408.0 376.9L1410.0 377.9L1412.0 379.0L1414.0 380.1L1416.0 381.1L1418.0 382.1L1420.0 383.1L1422.0 384.1L1424.0 385.1L1426.0 386.1L1428.0 387.0L1430.0 387.9L1432.0 388.9L1434.0 389.8L1436.0 390.6L1438.0 391.5L1440.0 392.3L1442.0 393.1L1444.0 393.9L1446.0 394.6L1448.0 395.3L1450.0 396.0L1452.0 396.6L1454.0 397.2L1456.0 397.8L1458.0 398.3L1460.0 398.8L1462.0 399.2L1464.0 399.6L1466.0 400.0L1468.0 400.4L1470.0 400.7L1472.0 400.9L1474.0 401.2L1476.0 401.4L1478.0 401.5L1480.0 401.6L1482.0 401.7L1484.0 401.8L1486.0 401.8L1488.0 401.8L1490.0 401.8L1492.0 401.8L1494.0 401.7L1496.0 401.6L1498.0 401.4L1500.0 401.2L1502.0 401.1L1504.0 400.8L1506.0 400.6L1508.0 400.4L1510.0 400.1L1512.0 399.8L1514.0 399.4L1516.0 399.1L1518.0 398.7L1520.0 398.2L1522.0 397.8L1524.0 397.3L1526.0 396.7L1528.0 396.2L1530.0 395.5L1532.0 394.9L1534.0 394.1L1536.0 393.3L1538.0 392.5L1540.0 391.6L1542.0 390.7L1544.0 389.7L1546.0 388.7L1548.0 387.6L1550.0 386.4L1552.0 385.2L1554.0 384.0L1556.0 382.7L1558.0 381.3L1560.0 379.9L1562.0 378.4L1564.0 376.9L1566.0 375.4L1568.0 373.8L1570.0 372.1L1572.0 370.5L1574.0 368.7L1576.0 367.0L1578.0 365.2L1580.0 363.3L1582.0 361.5L1584.0 359.6L1586.0 357.7L1588.0 355.8L1590.0 353.8L1592.0 351.9L1594.0 349.9L1596.0 347.9L1598.0 345.9L1600.0 343.9L1602.0 341.9L1604.0 339.9L1606.0 337.9L1608.0 335.9L1610.0 333.9L1612.0 331.8L1614.0 329.8L1616.0 327.8L1618.0 325.7L1620.0 323.6L1622.0 321.5L1624.0 319.4L1626.0 317.3L1628.0 315.2L1630.0 313.1L1632.0 310.9L1634.0 308.8L1636.0 306.6L1638.0 304.5L1640.0 302.3L1642.0 300.2L1644.0 298.0L1646.0 295.9L1648.0 293.8L1650.0 291.7L1652.0 289.6L1654.0 287.5L1656.0 285.4L1658.0 283.4L1660.0 281.4L1662.0 279.4L1664.0 277.5L1666.0 275.6L1668.0 273.7L1670.0 271.8L1672.0 270.0L1674.0 268.3L1676.0 266.5L1678.0 264.8L1680.0 263.1L1682.0 261.5L1684.0 259.9L1686.0 258.3L1688.0 256.7L1690.0 255.2L1692.0 253.8L1694.0 252.4L1696.0 251.0L1698.0 249.6L1700.0 248.3L1702.0 247.0L1704.0 245.8L1706.0 244.6L1708.0 243.4L1710.0 242.3L1712.0 241.2L1714.0 240.1L1716.0 239.1L1718.0 238.1L1720.0 237.1L1722.0 236.2L1724.0 235.3L1726.0 234.4L1728.0 233.5L1730.0 232.6L1732.0 231.7L1734.0 230.9L1736.0 230.1L1738.0 229.2L1740.0 228.4L1742.0 227.6L1744.0 226.7L1746.0 225.9L1748.0 225.1L1750.0 224.2L1752.0 223.3L1754.0 222.5L1756.0 221.6L1758.0 220.7L1760.0 219.7L1762.0 218.8L1764.0 217.8L1766.0 216.9L1768.0 215.9L1769.0 215.4" stroke="#2850F0" stroke-width="6.2"/>
<path d="M936.0 184.9L938.0 188.0L940.0 191.3L942.0 194.8L944.0 198.6L946.0 202.5L948.0 206.8L950.0 211.3L952.0 216.0L954.0 221.0L956.0 226.4L958.0 232.0L960.0 238.0L962.0 244.2L964.0 250.8L966.0 257.7L968.0 265.0L970.0 272.5L972.0 280.4L974.0 288.6L976.0 297.2L978.0 306.1L980.0 315.3L982.0 325.0L984.0 335.1L986.0 345.6L988.0 356.5L990.0 368.0L992.0 379.9L994.0 392.4L996.0 405.5L998.0 419.1L1000.0 433.2L1002.0 447.7L1004.0 462.7L1006.0 478.4L1008.0 494.5L1010.0 510.7L1012.0 526.7L1014.0 542.2L1016.0 557.6L1018.0 573.0L1020.0 587.8L1022.0 600.2L1024.0 608.9L1026.0 615.3L1028.0 620.5L1030.0 624.7L1032.0 628.2L1034.0 630.7L1036.0 632.3L1038.0 632.9L1040.0 632.0L1042.0 629.7L1044.0 626.0L1046.0 621.0L1048.0 614.9L1050.0 608.2L1052.0 600.7L1054.0 592.4L1056.0 583.9L1058.0 575.0L1060.0 566.0L1062.0 557.1L1064.0 548.0L1066.0 539.1L1068.0 530.4L1070.0 522.2L1072.0 514.4L1074.0 506.8L1076.0 499.4L1078.0 492.1L1080.0 484.9L1082.0 477.6L1084.0 470.3L1086.0 462.8L1088.0 455.2L1090.0 447.4L1092.0 439.3L1094.0 431.1L1096.0 422.8L1098.0 414.5L1100.0 406.3L1102.0 398.2L1104.0 390.4L1106.0 383.0L1108.0 376.0L1110.0 369.5L1112.0 363.4L1114.0 357.8L1116.0 352.7L1118.0 348.0L1120.0 343.6L1122.0 339.6L1124.0 335.9L1126.0 332.5L1128.0 329.3L1130.0 326.4L1132.0 323.8L1134.0 321.3L1136.0 319.0L1138.0 316.8L1140.0 314.8L1142.0 313.0L1144.0 311.2L1146.0 309.5L1148.0 307.9L1150.0 306.4L1152.0 305.0L1154.0 303.6L1156.0 302.3L1158.0 301.1L1160.0 299.9L1162.0 298.7L1164.0 297.7L1166.0 296.6L1168.0 295.6L1170.0 294.7L1172.0 293.8L1174.0 293.0L1176.0 292.2L1178.0 291.4L1180.0 290.8L1182.0 290.1L1184.0 289.5L1186.0 288.9L1188.0 288.4L1190.0 287.9L1192.0 287.4L1194.0 286.9L1196.0 286.5L1198.0 286.1L1200.0 285.7L1202.0 285.4L1204.0 285.1L1206.0 284.8L1208.0 284.6L1210.0 284.3L1212.0 284.2L1214.0 284.0L1216.0 283.8L1218.0 283.7L1220.0 283.6L1222.0 283.5L1224.0 283.5L1226.0 283.4L1228.0 283.4L1230.0 283.4L1232.0 283.5L1234.0 283.5L1236.0 283.7L1238.0 283.8L1240.0 284.0L1242.0 284.1L1244.0 284.4L1246.0 284.6L1248.0 284.8L1250.0 285.1L1252.0 285.4L1254.0 285.7L1256.0 286.1L1258.0 286.5L1260.0 286.9L1262.0 287.3L1264.0 287.8L1266.0 288.2L1268.0 288.7L1270.0 289.3L1272.0 289.8L1274.0 290.4L1276.0 291.0L1278.0 291.6L1280.0 292.2L1282.0 292.8L1284.0 293.5L1286.0 294.2L1288.0 294.9L1290.0 295.7L1292.0 296.4L1294.0 297.2L1296.0 298.0L1298.0 298.8L1300.0 299.6L1302.0 300.6L1304.0 301.5L1306.0 302.5L1308.0 303.6L1310.0 304.7L1312.0 305.9L1314.0 307.1L1316.0 308.3L1318.0 309.6L1320.0 310.9L1322.0 312.2L1324.0 313.5L1326.0 314.8L1328.0 316.1L1330.0 317.5L1332.0 318.8L1334.0 320.2L1336.0 321.5L1338.0 322.9L1340.0 324.2L1342.0 325.5L1344.0 326.7L1346.0 328.1L1348.0 329.5L1350.0 331.0L1352.0 332.4L1354.0 333.9L1356.0 335.3L1358.0 336.8L1360.0 338.2L1362.0 339.7L1364.0 341.1L1366.0 342.6L1368.0 344.0L1370.0 345.5L1372.0 347.0L1374.0 348.5L1376.0 350.0L1378.0 351.5L1380.0 353.0L1382.0 354.5L1384.0 355.8L1386.0 357.0L1388.0 358.3L1390.0 359.5L1392.0 360.6L1394.0 361.8L1396.0 362.9L1398.0 363.9L1400.0 365.0L1402.0 366.0L1404.0 367.0L1406.0 367.9L1408.0 368.9L1410.0 369.8L1412.0 370.8L1414.0 371.7L1416.0 372.6L1418.0 373.5L1420.0 374.4L1422.0 375.2L1424.0 376.1L1426.0 376.9L1428.0 377.8L1430.0 378.6L1432.0 379.4L1434.0 380.2L1436.0 381.0L1438.0 381.7L1440.0 382.4L1442.0 383.1L1444.0 383.8L1446.0 384.4L1448.0 385.1L1450.0 385.6L1452.0 386.2L1454.0 386.7L1456.0 387.2L1458.0 387.6L1460.0 388.0L1462.0 388.4L1464.0 388.7L1466.0 389.0L1468.0 389.3L1470.0 389.5L1472.0 389.7L1474.0 389.8L1476.0 389.9L1478.0 390.0L1480.0 390.1L1482.0 390.1L1484.0 390.1L1486.0 390.0L1488.0 389.9L1490.0 389.8L1492.0 389.7L1494.0 389.5L1496.0 389.4L1498.0 389.2L1500.0 388.9L1502.0 388.7L1504.0 388.4L1506.0 388.0L1508.0 387.7L1510.0 387.3L1512.0 386.9L1514.0 386.5L1516.0 386.1L1518.0 385.6L1520.0 385.1L1522.0 384.5L1524.0 384.0L1526.0 383.4L1528.0 382.7L1530.0 382.1L1532.0 381.3L1534.0 380.6L1536.0 379.8L1538.0 379.0L1540.0 378.1L1542.0 377.2L1544.0 376.3L1546.0 375.3L1548.0 374.2L1550.0 373.2L1552.0 372.0L1554.0 370.9L1556.0 369.7L1558.0 368.4L1560.0 367.1L1562.0 365.7L1564.0 364.3L1566.0 362.9L1568.0 361.4L1570.0 359.9L1572.0 358.3L1574.0 356.7L1576.0 355.1L1578.0 353.4L1580.0 351.7L1582.0 349.9L1584.0 348.2L1586.0 346.4L1588.0 344.6L1590.0 342.8L1592.0 341.0L1594.0 339.1L1596.0 337.3L1598.0 335.4L1600.0 333.6L1602.0 331.7L1604.0 329.8L1606.0 328.0L1608.0 326.1L1610.0 324.2L1612.0 322.4L1614.0 320.5L1616.0 318.6L1618.0 316.7L1620.0 314.8L1622.0 312.9L1624.0 311.0L1626.0 309.1L1628.0 307.2L1630.0 305.3L1632.0 303.4L1634.0 301.4L1636.0 299.5L1638.0 297.6L1640.0 295.7L1642.0 293.8L1644.0 291.9L1646.0 290.0L1648.0 288.1L1650.0 286.2L1652.0 284.4L1654.0 282.6L1656.0 280.8L1658.0 279.0L1660.0 277.3L1662.0 275.5L1664.0 273.8L1666.0 272.2L1668.0 270.5L1670.0 268.9L1672.0 267.3L1674.0 265.7L1676.0 264.2L1678.0 262.7L1680.0 261.2L1682.0 259.7L1684.0 258.2L1686.0 256.8L1688.0 255.4L1690.0 254.0L1692.0 252.6L1694.0 251.3L1696.0 250.0L1698.0 248.7L1700.0 247.5L1702.0 246.2L1704.0 245.0L1706.0 243.9L1708.0 242.8L1710.0 241.7L1712.0 240.6L1714.0 239.6L1716.0 238.6L1718.0 237.6L1720.0 236.7L1722.0 235.8L1724.0 234.9L1726.0 234.0L1728.0 233.2L1730.0 232.3L1732.0 231.5L1734.0 230.7L1736.0 229.9L1738.0 229.2L1740.0 228.4L1742.0 227.6L1744.0 226.8L1746.0 226.1L1748.0 225.3L1750.0 224.5L1752.0 223.7L1754.0 222.9L1756.0 222.1L1758.0 221.3L1760.0 220.4L1762.0 219.6L1764.0 218.7L1766.0 217.9L1768.0 217.0L1769.0 216.5" stroke="#7010F0" stroke-width="6.2"/>
<path d="M936.0 184.9L938.0 188.0L940.0 191.2L942.0 194.6L944.0 198.3L946.0 202.2L948.0 206.3L950.0 210.7L952.0 215.4L954.0 220.3L956.0 225.6L958.0 231.1L960.0 237.0L962.0 243.2L964.0 249.7L966.0 256.5L968.0 263.6L970.0 271.0L972.0 278.7L974.0 286.7L976.0 295.0L978.0 303.7L980.0 312.7L982.0 322.0L984.0 331.8L986.0 342.0L988.0 352.7L990.0 363.9L992.0 375.5L994.0 387.7L996.0 400.4L998.0 413.6L1000.0 427.4L1002.0 441.6L1004.0 456.2L1006.0 471.2L1008.0 486.7L1010.0 502.5L1012.0 518.1L1014.0 533.5L1016.0 548.4L1018.0 563.2L1020.0 577.8L1022.0 591.2L1024.0 601.6L1026.0 608.9L1028.0 614.3L1030.0 618.7L1032.0 622.5L1034.0 625.6L1036.0 627.9L1038.0 629.4L1040.0 629.9L1042.0 629.0L1044.0 626.9L1046.0 623.6L1048.0 619.0L1050.0 613.5L1052.0 607.3L1054.0 600.2L1056.0 592.2L1058.0 583.8L1060.0 575.2L1062.0 566.5L1064.0 558.0L1066.0 549.4L1068.0 540.8L1070.0 532.5L1072.0 524.6L1074.0 517.0L1076.0 509.7L1078.0 502.6L1080.0 495.7L1082.0 488.9L1084.0 482.1L1086.0 475.3L1088.0 468.5L1090.0 461.5L1092.0 454.4L1094.0 447.1L1096.0 439.6L1098.0 432.0L1100.0 424.4L1102.0 416.7L1104.0 409.1L1106.0 401.7L1108.0 394.6L1110.0 387.6L1112.0 381.1L1114.0 374.8L1116.0 369.0L1118.0 363.5L1120.0 358.5L1122.0 353.8L1124.0 349.6L1126.0 345.7L1128.0 342.1L1130.0 338.9L1132.0 335.9L1134.0 333.2L1136.0 330.6L1138.0 328.3L1140.0 326.1L1142.0 324.0L1144.0 322.0L1146.0 320.2L1148.0 318.4L1150.0 316.8L1152.0 315.2L1154.0 313.7L1156.0 312.2L1158.0 310.8L1160.0 309.5L1162.0 308.2L1164.0 307.0L1166.0 305.8L1168.0 304.7L1170.0 303.6L1172.0 302.6L1174.0 301.6L1176.0 300.7L1178.0 299.8L1180.0 298.9L1182.0 298.0L1184.0 297.2L1186.0 296.4L1188.0 295.6L1190.0 294.9L1192.0 294.2L1194.0 293.5L1196.0 292.9L1198.0 292.3L1200.0 291.8L1202.0 291.3L1204.0 290.9L1206.0 290.6L1208.0 290.3L1210.0 290.0L1212.0 289.8L1214.0 289.7L1216.0 289.6L1218.0 289.5L1220.0 289.4L1222.0 289.3L1224.0 289.3L1226.0 289.3L1228.0 289.3L1230.0 289.3L1232.0 289.3L1234.0 289.4L1236.0 289.5L1238.0 289.6L1240.0 289.7L1242.0 289.9L1244.0 290.0L1246.0 290.2L1248.0 290.4L1250.0 290.6L1252.0 290.8L1254.0 291.0L1256.0 291.3L1258.0 291.6L1260.0 291.9L1262.0 292.3L1264.0 292.6L1266.0 293.0L1268.0 293.5L1270.0 293.9L1272.0 294.4L1274.0 294.9L1276.0 295.4L1278.0 295.9L1280.0 296.5L1282.0 297.1L1284.0 297.7L1286.0 298.4L1288.0 299.1L1290.0 299.8L1292.0 300.6L1294.0 301.3L1296.0 302.0L1298.0 302.8L1300.0 303.6L1302.0 304.4L1304.0 305.3L1306.0 306.2L1308.0 307.2L1310.0 308.2L1312.0 309.3L1314.0 310.4L1316.0 311.5L1318.0 312.6L1320.0 313.7L1322.0 314.8L1324.0 315.9L1326.0 317.1L1328.0 318.2L1330.0 319.3L1332.0 320.4L1334.0 321.5L1336.0 322.7L1338.0 323.7L1340.0 324.8L1342.0 325.8L1344.0 326.8L1346.0 327.9L1348.0 329.1L1350.0 330.3L1352.0 331.5L1354.0 332.6L1356.0 333.7L1358.0 334.8L1360.0 335.9L1362.0 336.9L1364.0 338.0L1366.0 339.0L1368.0 340.1L1370.0 341.1L1372.0 342.2L1374.0 343.2L1376.0 344.3L1378.0 345.4L1380.0 346.4L1382.0 347.5L1384.0 348.6L1386.0 349.6L1388.0 350.6L1390.0 351.7L1392.0 352.7L1394.0 353.8L1396.0 354.8L1398.0 355.9L1400.0 356.9L1402.0 357.9L1404.0 358.9L1406.0 359.9L1408.0 360.9L1410.0 361.8L1412.0 362.8L1414.0 363.7L1416.0 364.6L1418.0 365.5L1420.0 366.3L1422.0 367.2L1424.0 368.0L1426.0 368.7L1428.0 369.5L1430.0 370.2L1432.0 370.9L1434.0 371.6L1436.0 372.3L1438.0 372.9L1440.0 373.5L1442.0 374.1L1444.0 374.7L1446.0 375.2L1448.0 375.7L1450.0 376.2L1452.0 376.7L1454.0 377.1L1456.0 377.5L1458.0 377.8L1460.0 378.1L1462.0 378.4L1464.0 378.7L1466.0 378.9L1468.0 379.1L1470.0 379.3L1472.0 379.4L1474.0 379.5L1476.0 379.5L1478.0 379.6L1480.0 379.6L1482.0 379.5L1484.0 379.5L1486.0 379.4L1488.0 379.3L1490.0 379.1L1492.0 379.0L1494.0 378.7L1496.0 378.5L1498.0 378.2L1500.0 377.9L1502.0 377.6L1504.0 377.3L1506.0 376.9L1508.0 376.4L1510.0 376.0L1512.0 375.5L1514.0 374.9L1516.0 374.3L1518.0 373.7L1520.0 373.1L1522.0 372.4L1524.0 371.7L1526.0 371.0L1528.0 370.2L1530.0 369.5L1532.0 368.6L1534.0 367.8L1536.0 366.9L1538.0 366.0L1540.0 365.0L1542.0 364.0L1544.0 363.0L1546.0 362.0L1548.0 360.9L1550.0 359.8L1552.0 358.7L1554.0 357.5L1556.0 356.3L1558.0 355.1L1560.0 353.8L1562.0 352.5L1564.0 351.2L1566.0 349.8L1568.0 348.4L1570.0 347.0L1572.0 345.6L1574.0 344.1L1576.0 342.6L1578.0 341.1L1580.0 339.6L1582.0 338.0L1584.0 336.4L1586.0 334.8L1588.0 333.2L1590.0 331.6L1592.0 330.0L1594.0 328.4L1596.0 326.7L1598.0 325.1L1600.0 323.5L1602.0 321.8L1604.0 320.2L1606.0 318.5L1608.0 316.8L1610.0 315.2L1612.0 313.5L1614.0 311.8L1616.0 310.1L1618.0 308.4L1620.0 306.8L1622.0 305.0L1624.0 303.3L1626.0 301.6L1628.0 299.9L1630.0 298.2L1632.0 296.4L1634.0 294.7L1636.0 293.0L1638.0 291.2L1640.0 289.5L1642.0 287.8L1644.0 286.1L1646.0 284.4L1648.0 282.7L1650.0 281.0L1652.0 279.4L1654.0 277.8L1656.0 276.1L1658.0 274.6L1660.0 273.0L1662.0 271.4L1664.0 269.9L1666.0 268.4L1668.0 267.0L1670.0 265.5L1672.0 264.1L1674.0 262.7L1676.0 261.3L1678.0 259.9L1680.0 258.5L1682.0 257.2L1684.0 255.9L1686.0 254.6L1688.0 253.3L1690.0 252.1L1692.0 250.8L1694.0 249.6L1696.0 248.4L1698.0 247.3L1700.0 246.1L1702.0 245.0L1704.0 243.9L1706.0 242.8L1708.0 241.8L1710.0 240.8L1712.0 239.8L1714.0 238.8L1716.0 237.9L1718.0 237.0L1720.0 236.1L1722.0 235.2L1724.0 234.4L1726.0 233.6L1728.0 232.8L1730.0 232.0L1732.0 231.2L1734.0 230.5L1736.0 229.8L1738.0 229.0L1740.0 228.3L1742.0 227.6L1744.0 226.9L1746.0 226.2L1748.0 225.5L1750.0 224.8L1752.0 224.1L1754.0 223.3L1756.0 222.6L1758.0 221.9L1760.0 221.1L1762.0 220.4L1764.0 219.6L1766.0 218.8L1768.0 218.0L1769.0 217.7" stroke="#A81EE0" stroke-width="6.2"/>
<path d="M936.0 184.9L938.0 187.9L940.0 191.0L942.0 194.4L944.0 198.0L946.0 201.8L948.0 205.9L950.0 210.2L952.0 214.8L954.0 219.7L956.0 224.9L958.0 230.4L960.0 236.1L962.0 242.2L964.0 248.6L966.0 255.3L968.0 262.3L970.0 269.6L972.0 277.2L974.0 285.0L976.0 293.1L978.0 301.5L980.0 310.2L982.0 319.3L984.0 328.8L986.0 338.8L988.0 349.2L990.0 360.1L992.0 371.4L994.0 383.3L996.0 395.7L998.0 408.6L1000.0 422.0L1002.0 435.9L1004.0 450.1L1006.0 464.7L1008.0 479.6L1010.0 494.9L1012.0 510.3L1014.0 525.4L1016.0 540.1L1018.0 554.5L1020.0 568.6L1022.0 582.5L1024.0 594.3L1026.0 602.9L1028.0 609.1L1030.0 614.0L1032.0 618.1L1034.0 621.6L1036.0 624.6L1038.0 626.8L1040.0 628.1L1042.0 628.6L1044.0 627.7L1046.0 625.7L1048.0 622.5L1050.0 618.0L1052.0 612.7L1054.0 606.7L1056.0 599.9L1058.0 592.2L1060.0 584.0L1062.0 575.5L1064.0 567.1L1066.0 558.9L1068.0 550.6L1070.0 542.4L1072.0 534.3L1074.0 526.6L1076.0 519.3L1078.0 512.2L1080.0 505.4L1082.0 498.7L1084.0 492.2L1086.0 485.7L1088.0 479.4L1090.0 473.0L1092.0 466.5L1094.0 459.9L1096.0 453.2L1098.0 446.3L1100.0 439.2L1102.0 432.1L1104.0 424.9L1106.0 417.8L1108.0 410.7L1110.0 403.7L1112.0 396.9L1114.0 390.3L1116.0 384.0L1118.0 378.1L1120.0 372.5L1122.0 367.3L1124.0 362.5L1126.0 358.2L1128.0 354.2L1130.0 350.5L1132.0 347.2L1134.0 344.1L1136.0 341.2L1138.0 338.5L1140.0 336.0L1142.0 333.7L1144.0 331.5L1146.0 329.4L1148.0 327.4L1150.0 325.6L1152.0 323.8L1154.0 322.1L1156.0 320.5L1158.0 319.0L1160.0 317.6L1162.0 316.2L1164.0 314.9L1166.0 313.6L1168.0 312.4L1170.0 311.2L1172.0 310.1L1174.0 309.0L1176.0 307.9L1178.0 306.9L1180.0 305.9L1182.0 304.9L1184.0 303.9L1186.0 303.0L1188.0 302.1L1190.0 301.2L1192.0 300.3L1194.0 299.5L1196.0 298.7L1198.0 298.0L1200.0 297.4L1202.0 296.8L1204.0 296.3L1206.0 295.9L1208.0 295.5L1210.0 295.2L1212.0 295.0L1214.0 294.8L1216.0 294.6L1218.0 294.5L1220.0 294.4L1222.0 294.3L1224.0 294.2L1226.0 294.2L1228.0 294.1L1230.0 294.1L1232.0 294.1L1234.0 294.1L1236.0 294.1L1238.0 294.2L1240.0 294.2L1242.0 294.3L1244.0 294.3L1246.0 294.4L1248.0 294.5L1250.0 294.6L1252.0 294.8L1254.0 294.9L1256.0 295.1L1258.0 295.3L1260.0 295.5L1262.0 295.8L1264.0 296.1L1266.0 296.4L1268.0 296.7L1270.0 297.0L1272.0 297.4L1274.0 297.7L1276.0 298.1L1278.0 298.6L1280.0 299.0L1282.0 299.5L1284.0 300.0L1286.0 300.6L1288.0 301.1L1290.0 301.7L1292.0 302.4L1294.0 303.1L1296.0 303.8L1298.0 304.5L1300.0 305.3L1302.0 306.1L1304.0 307.0L1306.0 307.9L1308.0 308.9L1310.0 309.8L1312.0 310.8L1314.0 311.9L1316.0 312.9L1318.0 313.9L1320.0 315.0L1322.0 316.0L1324.0 317.1L1326.0 318.1L1328.0 319.1L1330.0 320.2L1332.0 321.2L1334.0 322.2L1336.0 323.2L1338.0 324.1L1340.0 325.1L1342.0 326.0L1344.0 326.9L1346.0 327.7L1348.0 328.6L1350.0 329.4L1352.0 330.1L1354.0 330.9L1356.0 331.6L1358.0 332.3L1360.0 333.1L1362.0 333.8L1364.0 334.4L1366.0 335.1L1368.0 335.8L1370.0 336.5L1372.0 337.2L1374.0 337.9L1376.0 338.7L1378.0 339.4L1380.0 340.2L1382.0 341.0L1384.0 341.8L1386.0 342.7L1388.0 343.6L1390.0 344.5L1392.0 345.4L1394.0 346.4L1396.0 347.3L1398.0 348.3L1400.0 349.3L1402.0 350.3L1404.0 351.3L1406.0 352.3L1408.0 353.2L1410.0 354.2L1412.0 355.1L1414.0 356.0L1416.0 356.9L1418.0 357.7L1420.0 358.5L1422.0 359.3L1424.0 360.0L1426.0 360.7L1428.0 361.3L1430.0 362.0L1432.0 362.6L1434.0 363.2L1436.0 363.8L1438.0 364.3L1440.0 364.8L1442.0 365.3L1444.0 365.8L1446.0 366.2L1448.0 366.6L1450.0 367.0L1452.0 367.3L1454.0 367.7L1456.0 367.9L1458.0 368.2L1460.0 368.5L1462.0 368.7L1464.0 368.9L1466.0 369.0L1468.0 369.1L1470.0 369.2L1472.0 369.3L1474.0 369.3L1476.0 369.4L1478.0 369.3L1480.0 369.3L1482.0 369.2L1484.0 369.1L1486.0 369.0L1488.0 368.8L1490.0 368.6L1492.0 368.4L1494.0 368.2L1496.0 367.9L1498.0 367.6L1500.0 367.2L1502.0 366.9L1504.0 366.4L1506.0 366.0L1508.0 365.5L1510.0 364.9L1512.0 364.4L1514.0 363.8L1516.0 363.1L1518.0 362.4L1520.0 361.7L1522.0 360.9L1524.0 360.1L1526.0 359.3L1528.0 358.5L1530.0 357.6L1532.0 356.7L1534.0 355.8L1536.0 354.9L1538.0 353.9L1540.0 352.9L1542.0 351.9L1544.0 350.8L1546.0 349.8L1548.0 348.7L1550.0 347.6L1552.0 346.4L1554.0 345.3L1556.0 344.1L1558.0 342.9L1560.0 341.7L1562.0 340.4L1564.0 339.2L1566.0 337.9L1568.0 336.6L1570.0 335.3L1572.0 334.0L1574.0 332.6L1576.0 331.3L1578.0 329.9L1580.0 328.5L1582.0 327.1L1584.0 325.7L1586.0 324.3L1588.0 322.9L1590.0 321.4L1592.0 320.0L1594.0 318.6L1596.0 317.1L1598.0 315.7L1600.0 314.2L1602.0 312.7L1604.0 311.3L1606.0 309.8L1608.0 308.3L1610.0 306.8L1612.0 305.3L1614.0 303.8L1616.0 302.3L1618.0 300.8L1620.0 299.3L1622.0 297.8L1624.0 296.2L1626.0 294.7L1628.0 293.1L1630.0 291.6L1632.0 290.0L1634.0 288.5L1636.0 286.9L1638.0 285.4L1640.0 283.8L1642.0 282.3L1644.0 280.8L1646.0 279.2L1648.0 277.7L1650.0 276.2L1652.0 274.7L1654.0 273.3L1656.0 271.8L1658.0 270.4L1660.0 269.0L1662.0 267.6L1664.0 266.2L1666.0 264.9L1668.0 263.5L1670.0 262.2L1672.0 260.9L1674.0 259.6L1676.0 258.4L1678.0 257.1L1680.0 255.9L1682.0 254.7L1684.0 253.5L1686.0 252.3L1688.0 251.1L1690.0 250.0L1692.0 248.9L1694.0 247.8L1696.0 246.7L1698.0 245.6L1700.0 244.6L1702.0 243.6L1704.0 242.6L1706.0 241.6L1708.0 240.6L1710.0 239.7L1712.0 238.8L1714.0 237.9L1716.0 237.0L1718.0 236.2L1720.0 235.3L1722.0 234.5L1724.0 233.8L1726.0 233.0L1728.0 232.3L1730.0 231.5L1732.0 230.8L1734.0 230.1L1736.0 229.5L1738.0 228.8L1740.0 228.1L1742.0 227.5L1744.0 226.8L1746.0 226.2L1748.0 225.5L1750.0 224.8L1752.0 224.2L1754.0 223.5L1756.0 222.8L1758.0 222.1L1760.0 221.4L1762.0 220.7L1764.0 220.0L1766.0 219.3L1768.0 218.5L1769.0 218.2" stroke="#7A4A10" stroke-width="6.2"/>
<path d="M936.0 185.0L938.0 187.8L940.0 190.8L942.0 194.0L944.0 197.5L946.0 201.2L948.0 205.1L950.0 209.3L952.0 213.8L954.0 218.6L956.0 223.6L958.0 228.9L960.0 234.6L962.0 240.5L964.0 246.8L966.0 253.3L968.0 260.1L970.0 267.2L972.0 274.4L974.0 281.9L976.0 289.7L978.0 297.7L980.0 306.0L982.0 314.7L984.0 323.7L986.0 333.1L988.0 343.1L990.0 353.5L992.0 364.4L994.0 375.7L996.0 387.6L998.0 399.9L1000.0 412.8L1002.0 426.0L1004.0 439.6L1006.0 453.6L1008.0 467.7L1010.0 482.1L1012.0 496.6L1014.0 511.2L1016.0 525.5L1018.0 539.4L1020.0 553.1L1022.0 566.6L1024.0 579.5L1026.0 591.0L1028.0 600.1L1030.0 606.4L1032.0 611.6L1034.0 616.1L1036.0 619.9L1038.0 623.2L1040.0 625.9L1042.0 628.0L1044.0 629.3L1046.0 629.6L1048.0 628.6L1050.0 626.5L1052.0 623.2L1054.0 618.7L1056.0 613.3L1058.0 607.2L1060.0 600.4L1062.0 592.9L1064.0 584.8L1066.0 576.4L1068.0 568.2L1070.0 560.1L1072.0 552.1L1074.0 544.2L1076.0 536.5L1078.0 529.2L1080.0 522.1L1082.0 515.3L1084.0 508.7L1086.0 502.2L1088.0 496.0L1090.0 489.8L1092.0 483.7L1094.0 477.7L1096.0 471.6L1098.0 465.4L1100.0 459.2L1102.0 452.8L1104.0 446.4L1106.0 439.9L1108.0 433.4L1110.0 426.9L1112.0 420.4L1114.0 414.0L1116.0 407.7L1118.0 401.5L1120.0 395.6L1122.0 389.9L1124.0 384.6L1126.0 379.5L1128.0 374.7L1130.0 370.2L1132.0 366.0L1134.0 362.0L1136.0 358.2L1138.0 354.6L1140.0 351.3L1142.0 348.2L1144.0 345.3L1146.0 342.7L1148.0 340.2L1150.0 338.0L1152.0 335.9L1154.0 333.9L1156.0 332.1L1158.0 330.4L1160.0 328.8L1162.0 327.3L1164.0 325.8L1166.0 324.4L1168.0 323.1L1170.0 321.9L1172.0 320.7L1174.0 319.5L1176.0 318.4L1178.0 317.3L1180.0 316.2L1182.0 315.2L1184.0 314.2L1186.0 313.2L1188.0 312.3L1190.0 311.3L1192.0 310.4L1194.0 309.6L1196.0 308.7L1198.0 308.0L1200.0 307.2L1202.0 306.5L1204.0 305.9L1206.0 305.3L1208.0 304.7L1210.0 304.2L1212.0 303.7L1214.0 303.3L1216.0 302.9L1218.0 302.5L1220.0 302.1L1222.0 301.8L1224.0 301.4L1226.0 301.2L1228.0 300.9L1230.0 300.6L1232.0 300.4L1234.0 300.2L1236.0 300.0L1238.0 299.9L1240.0 299.7L1242.0 299.6L1244.0 299.4L1246.0 299.3L1248.0 299.3L1250.0 299.2L1252.0 299.2L1254.0 299.1L1256.0 299.1L1258.0 299.2L1260.0 299.2L1262.0 299.3L1264.0 299.4L1266.0 299.5L1268.0 299.6L1270.0 299.7L1272.0 299.9L1274.0 300.1L1276.0 300.2L1278.0 300.4L1280.0 300.6L1282.0 300.8L1284.0 301.1L1286.0 301.3L1288.0 301.6L1290.0 301.9L1292.0 302.3L1294.0 302.8L1296.0 303.3L1298.0 303.8L1300.0 304.4L1302.0 305.0L1304.0 305.6L1306.0 306.3L1308.0 306.9L1310.0 307.7L1312.0 308.5L1314.0 309.3L1316.0 310.1L1318.0 311.0L1320.0 311.8L1322.0 312.7L1324.0 313.5L1326.0 314.4L1328.0 315.2L1330.0 316.1L1332.0 316.8L1334.0 317.4L1336.0 318.0L1338.0 318.6L1340.0 319.2L1342.0 319.8L1344.0 320.5L1346.0 321.1L1348.0 321.6L1350.0 322.2L1352.0 322.8L1354.0 323.4L1356.0 323.9L1358.0 324.5L1360.0 325.0L1362.0 325.6L1364.0 326.1L1366.0 326.7L1368.0 327.2L1370.0 327.7L1372.0 328.3L1374.0 328.8L1376.0 329.4L1378.0 330.0L1380.0 330.5L1382.0 331.1L1384.0 331.7L1386.0 332.3L1388.0 332.9L1390.0 333.5L1392.0 334.2L1394.0 334.8L1396.0 335.4L1398.0 336.1L1400.0 336.7L1402.0 337.3L1404.0 337.9L1406.0 338.5L1408.0 339.1L1410.0 339.7L1412.0 340.2L1414.0 340.8L1416.0 341.3L1418.0 341.7L1420.0 342.2L1422.0 342.6L1424.0 343.0L1426.0 343.4L1428.0 343.8L1430.0 344.1L1432.0 344.5L1434.0 344.9L1436.0 345.2L1438.0 345.5L1440.0 345.8L1442.0 346.1L1444.0 346.4L1446.0 346.6L1448.0 346.9L1450.0 347.1L1452.0 347.2L1454.0 347.4L1456.0 347.5L1458.0 347.6L1460.0 347.7L1462.0 347.8L1464.0 347.8L1466.0 347.8L1468.0 347.8L1470.0 347.8L1472.0 347.7L1474.0 347.6L1476.0 347.5L1478.0 347.4L1480.0 347.2L1482.0 347.1L1484.0 346.8L1486.0 346.6L1488.0 346.3L1490.0 346.0L1492.0 345.7L1494.0 345.4L1496.0 345.0L1498.0 344.6L1500.0 344.2L1502.0 343.8L1504.0 343.3L1506.0 342.8L1508.0 342.3L1510.0 341.7L1512.0 341.2L1514.0 340.6L1516.0 340.0L1518.0 339.3L1520.0 338.7L1522.0 338.0L1524.0 337.2L1526.0 336.5L1528.0 335.8L1530.0 335.0L1532.0 334.2L1534.0 333.4L1536.0 332.5L1538.0 331.7L1540.0 330.8L1542.0 329.9L1544.0 329.0L1546.0 328.1L1548.0 327.1L1550.0 326.2L1552.0 325.2L1554.0 324.2L1556.0 323.2L1558.0 322.2L1560.0 321.1L1562.0 320.1L1564.0 319.0L1566.0 317.9L1568.0 316.9L1570.0 315.8L1572.0 314.7L1574.0 313.5L1576.0 312.4L1578.0 311.3L1580.0 310.1L1582.0 309.0L1584.0 307.8L1586.0 306.7L1588.0 305.5L1590.0 304.3L1592.0 303.1L1594.0 301.9L1596.0 300.8L1598.0 299.6L1600.0 298.4L1602.0 297.1L1604.0 295.9L1606.0 294.7L1608.0 293.5L1610.0 292.3L1612.0 291.1L1614.0 289.9L1616.0 288.6L1618.0 287.4L1620.0 286.2L1622.0 285.0L1624.0 283.8L1626.0 282.6L1628.0 281.3L1630.0 280.1L1632.0 278.9L1634.0 277.7L1636.0 276.5L1638.0 275.3L1640.0 274.1L1642.0 272.9L1644.0 271.7L1646.0 270.6L1648.0 269.4L1650.0 268.2L1652.0 267.0L1654.0 265.9L1656.0 264.7L1658.0 263.6L1660.0 262.4L1662.0 261.3L1664.0 260.2L1666.0 259.1L1668.0 258.0L1670.0 256.9L1672.0 255.8L1674.0 254.7L1676.0 253.7L1678.0 252.6L1680.0 251.6L1682.0 250.5L1684.0 249.5L1686.0 248.5L1688.0 247.5L1690.0 246.5L1692.0 245.5L1694.0 244.6L1696.0 243.6L1698.0 242.7L1700.0 241.8L1702.0 240.9L1704.0 240.0L1706.0 239.1L1708.0 238.2L1710.0 237.4L1712.0 236.6L1714.0 235.7L1716.0 234.9L1718.0 234.1L1720.0 233.4L1722.0 232.6L1724.0 231.8L1726.0 231.1L1728.0 230.3L1730.0 229.6L1732.0 228.9L1734.0 228.2L1736.0 227.5L1738.0 226.8L1740.0 226.1L1742.0 225.4L1744.0 224.7L1746.0 224.0L1748.0 223.3L1750.0 222.6L1752.0 221.9L1754.0 221.3L1756.0 220.6L1758.0 219.9L1760.0 219.2L1762.0 218.5L1764.0 217.8L1766.0 217.2L1768.0 216.5L1769.0 216.1" stroke="#45204E" stroke-width="6.2"/>
<path d="M936.0 185.0L938.0 187.7L940.0 190.7L942.0 193.8L944.0 197.2L946.0 200.9L948.0 204.8L950.0 208.9L952.0 213.3L954.0 218.0L956.0 223.0L958.0 228.3L960.0 233.9L962.0 239.8L964.0 245.9L966.0 252.4L968.0 259.2L970.0 266.1L972.0 273.3L974.0 280.6L976.0 288.2L978.0 296.1L980.0 304.2L982.0 312.6L984.0 321.4L986.0 330.7L988.0 340.4L990.0 350.5L992.0 361.2L994.0 372.4L996.0 384.0L998.0 396.1L1000.0 408.7L1002.0 421.7L1004.0 435.0L1006.0 448.7L1008.0 462.6L1010.0 476.7L1012.0 490.9L1014.0 505.1L1016.0 519.2L1018.0 533.0L1020.0 546.5L1022.0 559.7L1024.0 572.7L1026.0 584.9L1028.0 595.3L1030.0 603.2L1032.0 608.8L1034.0 613.6L1036.0 617.9L1038.0 621.5L1040.0 624.6L1042.0 627.2L1044.0 629.1L1046.0 630.3L1048.0 630.5L1050.0 629.4L1052.0 627.3L1054.0 623.9L1056.0 619.3L1058.0 613.8L1060.0 607.6L1062.0 600.7L1064.0 593.1L1066.0 584.9L1068.0 576.5L1070.0 568.2L1072.0 560.2L1074.0 552.4L1076.0 544.7L1078.0 537.2L1080.0 530.0L1082.0 523.0L1084.0 516.3L1086.0 509.8L1088.0 503.4L1090.0 497.2L1092.0 491.2L1094.0 485.2L1096.0 479.2L1098.0 473.3L1100.0 467.3L1102.0 461.3L1104.0 455.2L1106.0 449.0L1108.0 442.8L1110.0 436.6L1112.0 430.3L1114.0 424.1L1116.0 417.9L1118.0 411.9L1120.0 405.9L1122.0 400.2L1124.0 394.6L1126.0 389.3L1128.0 384.2L1130.0 379.3L1132.0 374.6L1134.0 370.1L1136.0 365.9L1138.0 361.9L1140.0 358.1L1142.0 354.7L1144.0 351.5L1146.0 348.6L1148.0 345.9L1150.0 343.5L1152.0 341.2L1154.0 339.1L1156.0 337.2L1158.0 335.4L1160.0 333.7L1162.0 332.1L1164.0 330.6L1166.0 329.1L1168.0 327.8L1170.0 326.5L1172.0 325.2L1174.0 324.1L1176.0 322.9L1178.0 321.8L1180.0 320.7L1182.0 319.7L1184.0 318.7L1186.0 317.7L1188.0 316.8L1190.0 315.8L1192.0 314.9L1194.0 314.1L1196.0 313.2L1198.0 312.4L1200.0 311.6L1202.0 310.9L1204.0 310.2L1206.0 309.5L1208.0 308.8L1210.0 308.2L1212.0 307.6L1214.0 307.0L1216.0 306.5L1218.0 305.9L1220.0 305.4L1222.0 305.0L1224.0 304.5L1226.0 304.1L1228.0 303.7L1230.0 303.3L1232.0 303.0L1234.0 302.7L1236.0 302.4L1238.0 302.1L1240.0 301.9L1242.0 301.7L1244.0 301.5L1246.0 301.3L1248.0 301.1L1250.0 301.0L1252.0 300.8L1254.0 300.8L1256.0 300.7L1258.0 300.6L1260.0 300.6L1262.0 300.6L1264.0 300.6L1266.0 300.6L1268.0 300.7L1270.0 300.7L1272.0 300.8L1274.0 300.9L1276.0 301.0L1278.0 301.1L1280.0 301.2L1282.0 301.3L1284.0 301.4L1286.0 301.6L1288.0 301.8L1290.0 302.0L1292.0 302.3L1294.0 302.6L1296.0 302.9L1298.0 303.3L1300.0 303.7L1302.0 304.1L1304.0 304.6L1306.0 305.1L1308.0 305.6L1310.0 306.1L1312.0 306.8L1314.0 307.4L1316.0 308.1L1318.0 308.8L1320.0 309.5L1322.0 310.2L1324.0 310.9L1326.0 311.6L1328.0 312.3L1330.0 313.0L1332.0 313.6L1334.0 314.1L1336.0 314.6L1338.0 315.1L1340.0 315.7L1342.0 316.2L1344.0 316.8L1346.0 317.3L1348.0 317.9L1350.0 318.4L1352.0 318.9L1354.0 319.5L1356.0 320.0L1358.0 320.5L1360.0 321.1L1362.0 321.6L1364.0 322.2L1366.0 322.7L1368.0 323.2L1370.0 323.8L1372.0 324.3L1374.0 324.8L1376.0 325.3L1378.0 325.8L1380.0 326.4L1382.0 326.9L1384.0 327.4L1386.0 327.9L1388.0 328.4L1390.0 328.9L1392.0 329.4L1394.0 330.0L1396.0 330.5L1398.0 331.0L1400.0 331.5L1402.0 332.0L1404.0 332.5L1406.0 333.0L1408.0 333.4L1410.0 333.9L1412.0 334.3L1414.0 334.7L1416.0 335.1L1418.0 335.5L1420.0 335.9L1422.0 336.2L1424.0 336.5L1426.0 336.8L1428.0 337.1L1430.0 337.3L1432.0 337.6L1434.0 337.9L1436.0 338.2L1438.0 338.4L1440.0 338.7L1442.0 338.9L1444.0 339.0L1446.0 339.2L1448.0 339.4L1450.0 339.5L1452.0 339.6L1454.0 339.7L1456.0 339.8L1458.0 339.8L1460.0 339.8L1462.0 339.9L1464.0 339.8L1466.0 339.8L1468.0 339.7L1470.0 339.7L1472.0 339.6L1474.0 339.5L1476.0 339.3L1478.0 339.1L1480.0 339.0L1482.0 338.7L1484.0 338.5L1486.0 338.3L1488.0 338.0L1490.0 337.7L1492.0 337.4L1494.0 337.0L1496.0 336.6L1498.0 336.2L1500.0 335.8L1502.0 335.4L1504.0 334.9L1506.0 334.5L1508.0 333.9L1510.0 333.4L1512.0 332.9L1514.0 332.3L1516.0 331.7L1518.0 331.1L1520.0 330.5L1522.0 329.8L1524.0 329.1L1526.0 328.4L1528.0 327.7L1530.0 327.0L1532.0 326.2L1534.0 325.5L1536.0 324.7L1538.0 323.9L1540.0 323.1L1542.0 322.2L1544.0 321.4L1546.0 320.5L1548.0 319.6L1550.0 318.7L1552.0 317.8L1554.0 316.9L1556.0 316.0L1558.0 315.0L1560.0 314.0L1562.0 313.1L1564.0 312.1L1566.0 311.1L1568.0 310.1L1570.0 309.1L1572.0 308.1L1574.0 307.0L1576.0 306.0L1578.0 304.9L1580.0 303.9L1582.0 302.8L1584.0 301.7L1586.0 300.7L1588.0 299.6L1590.0 298.5L1592.0 297.4L1594.0 296.3L1596.0 295.2L1598.0 294.1L1600.0 293.0L1602.0 291.9L1604.0 290.7L1606.0 289.6L1608.0 288.5L1610.0 287.4L1612.0 286.2L1614.0 285.1L1616.0 284.0L1618.0 282.8L1620.0 281.7L1622.0 280.6L1624.0 279.4L1626.0 278.3L1628.0 277.2L1630.0 276.0L1632.0 274.9L1634.0 273.8L1636.0 272.6L1638.0 271.5L1640.0 270.4L1642.0 269.3L1644.0 268.2L1646.0 267.0L1648.0 265.9L1650.0 264.8L1652.0 263.7L1654.0 262.6L1656.0 261.6L1658.0 260.5L1660.0 259.4L1662.0 258.3L1664.0 257.3L1666.0 256.2L1668.0 255.2L1670.0 254.1L1672.0 253.1L1674.0 252.1L1676.0 251.1L1678.0 250.1L1680.0 249.1L1682.0 248.1L1684.0 247.1L1686.0 246.1L1688.0 245.2L1690.0 244.2L1692.0 243.3L1694.0 242.4L1696.0 241.5L1698.0 240.6L1700.0 239.7L1702.0 238.8L1704.0 238.0L1706.0 237.1L1708.0 236.3L1710.0 235.5L1712.0 234.7L1714.0 233.9L1716.0 233.1L1718.0 232.3L1720.0 231.6L1722.0 230.8L1724.0 230.1L1726.0 229.3L1728.0 228.6L1730.0 227.9L1732.0 227.2L1734.0 226.5L1736.0 225.8L1738.0 225.1L1740.0 224.4L1742.0 223.8L1744.0 223.1L1746.0 222.4L1748.0 221.7L1750.0 221.1L1752.0 220.4L1754.0 219.7L1756.0 219.1L1758.0 218.4L1760.0 217.7L1762.0 217.1L1764.0 216.4L1766.0 215.7L1768.0 215.0L1769.0 214.7" stroke="#6E4E6E" stroke-width="6.2"/>
<path d="M936.0 185.0L938.0 187.7L940.0 190.6L942.0 193.7L944.0 197.0L946.0 200.6L948.0 204.5L950.0 208.5L952.0 212.9L954.0 217.6L956.0 222.5L958.0 227.7L960.0 233.2L962.0 239.0L964.0 245.2L966.0 251.6L968.0 258.2L970.0 265.1L972.0 272.2L974.0 279.4L976.0 286.9L978.0 294.6L980.0 302.5L982.0 310.8L984.0 319.3L986.0 328.4L988.0 337.9L990.0 347.8L992.0 358.2L994.0 369.2L996.0 380.6L998.0 392.5L1000.0 404.9L1002.0 417.7L1004.0 430.8L1006.0 444.3L1008.0 458.0L1010.0 471.8L1012.0 485.8L1014.0 499.7L1016.0 513.6L1018.0 527.3L1020.0 540.5L1022.0 553.5L1024.0 566.2L1026.0 578.9L1028.0 590.3L1030.0 599.4L1032.0 606.3L1034.0 611.6L1036.0 616.2L1038.0 620.2L1040.0 623.6L1042.0 626.5L1044.0 628.9L1046.0 630.7L1048.0 631.8L1050.0 631.8L1052.0 630.6L1054.0 628.3L1056.0 624.8L1058.0 620.1L1060.0 614.5L1062.0 608.2L1064.0 601.1L1066.0 593.2L1068.0 584.8L1070.0 576.3L1072.0 568.0L1074.0 560.1L1076.0 552.4L1078.0 544.9L1080.0 537.6L1082.0 530.6L1084.0 523.7L1086.0 517.1L1088.0 510.6L1090.0 504.4L1092.0 498.2L1094.0 492.2L1096.0 486.4L1098.0 480.5L1100.0 474.7L1102.0 468.9L1104.0 463.1L1106.0 457.2L1108.0 451.3L1110.0 445.4L1112.0 439.4L1114.0 433.4L1116.0 427.4L1118.0 421.5L1120.0 415.6L1122.0 409.8L1124.0 404.2L1126.0 398.6L1128.0 393.2L1130.0 387.9L1132.0 382.8L1134.0 377.9L1136.0 373.3L1138.0 368.8L1140.0 364.7L1142.0 360.9L1144.0 357.4L1146.0 354.2L1148.0 351.3L1150.0 348.7L1152.0 346.3L1154.0 344.1L1156.0 342.0L1158.0 340.1L1160.0 338.3L1162.0 336.7L1164.0 335.1L1166.0 333.6L1168.0 332.2L1170.0 330.8L1172.0 329.6L1174.0 328.3L1176.0 327.2L1178.0 326.1L1180.0 325.0L1182.0 323.9L1184.0 322.9L1186.0 321.9L1188.0 321.0L1190.0 320.1L1192.0 319.2L1194.0 318.3L1196.0 317.5L1198.0 316.6L1200.0 315.8L1202.0 315.0L1204.0 314.2L1206.0 313.5L1208.0 312.7L1210.0 312.0L1212.0 311.3L1214.0 310.5L1216.0 309.9L1218.0 309.2L1220.0 308.5L1222.0 307.9L1224.0 307.3L1226.0 306.8L1228.0 306.3L1230.0 305.8L1232.0 305.4L1234.0 305.0L1236.0 304.6L1238.0 304.2L1240.0 303.9L1242.0 303.6L1244.0 303.3L1246.0 303.0L1248.0 302.8L1250.0 302.6L1252.0 302.4L1254.0 302.2L1256.0 302.1L1258.0 301.9L1260.0 301.8L1262.0 301.8L1264.0 301.7L1266.0 301.7L1268.0 301.6L1270.0 301.6L1272.0 301.6L1274.0 301.6L1276.0 301.6L1278.0 301.6L1280.0 301.7L1282.0 301.7L1284.0 301.8L1286.0 301.8L1288.0 301.9L1290.0 302.1L1292.0 302.2L1294.0 302.4L1296.0 302.5L1298.0 302.7L1300.0 303.0L1302.0 303.2L1304.0 303.5L1306.0 303.8L1308.0 304.1L1310.0 304.5L1312.0 304.9L1314.0 305.4L1316.0 305.9L1318.0 306.3L1320.0 306.8L1322.0 307.3L1324.0 307.8L1326.0 308.4L1328.0 308.9L1330.0 309.4L1332.0 310.0L1334.0 310.4L1336.0 310.9L1338.0 311.4L1340.0 311.9L1342.0 312.4L1344.0 313.0L1346.0 313.5L1348.0 314.0L1350.0 314.5L1352.0 315.1L1354.0 315.6L1356.0 316.1L1358.0 316.7L1360.0 317.2L1362.0 317.8L1364.0 318.4L1366.0 318.9L1368.0 319.4L1370.0 320.0L1372.0 320.5L1374.0 321.0L1376.0 321.5L1378.0 322.0L1380.0 322.5L1382.0 322.9L1384.0 323.4L1386.0 323.8L1388.0 324.3L1390.0 324.7L1392.0 325.1L1394.0 325.5L1396.0 325.9L1398.0 326.3L1400.0 326.7L1402.0 327.1L1404.0 327.5L1406.0 327.9L1408.0 328.2L1410.0 328.6L1412.0 328.9L1414.0 329.2L1416.0 329.5L1418.0 329.8L1420.0 330.1L1422.0 330.3L1424.0 330.5L1426.0 330.8L1428.0 331.0L1430.0 331.1L1432.0 331.3L1434.0 331.5L1436.0 331.7L1438.0 331.9L1440.0 332.0L1442.0 332.2L1444.0 332.3L1446.0 332.4L1448.0 332.5L1450.0 332.5L1452.0 332.6L1454.0 332.6L1456.0 332.6L1458.0 332.6L1460.0 332.6L1462.0 332.6L1464.0 332.5L1466.0 332.4L1468.0 332.3L1470.0 332.2L1472.0 332.1L1474.0 332.0L1476.0 331.8L1478.0 331.6L1480.0 331.4L1482.0 331.2L1484.0 330.9L1486.0 330.7L1488.0 330.4L1490.0 330.1L1492.0 329.8L1494.0 329.4L1496.0 329.0L1498.0 328.7L1500.0 328.3L1502.0 327.8L1504.0 327.4L1506.0 326.9L1508.0 326.4L1510.0 325.9L1512.0 325.4L1514.0 324.9L1516.0 324.3L1518.0 323.7L1520.0 323.1L1522.0 322.5L1524.0 321.9L1526.0 321.2L1528.0 320.6L1530.0 319.9L1532.0 319.2L1534.0 318.5L1536.0 317.7L1538.0 317.0L1540.0 316.2L1542.0 315.5L1544.0 314.7L1546.0 313.9L1548.0 313.0L1550.0 312.2L1552.0 311.4L1554.0 310.5L1556.0 309.7L1558.0 308.8L1560.0 307.9L1562.0 307.0L1564.0 306.1L1566.0 305.2L1568.0 304.2L1570.0 303.3L1572.0 302.4L1574.0 301.4L1576.0 300.4L1578.0 299.5L1580.0 298.5L1582.0 297.5L1584.0 296.5L1586.0 295.5L1588.0 294.5L1590.0 293.5L1592.0 292.5L1594.0 291.5L1596.0 290.4L1598.0 289.4L1600.0 288.4L1602.0 287.3L1604.0 286.3L1606.0 285.3L1608.0 284.2L1610.0 283.1L1612.0 282.1L1614.0 281.0L1616.0 280.0L1618.0 278.9L1620.0 277.8L1622.0 276.8L1624.0 275.7L1626.0 274.6L1628.0 273.6L1630.0 272.5L1632.0 271.4L1634.0 270.3L1636.0 269.3L1638.0 268.2L1640.0 267.1L1642.0 266.1L1644.0 265.0L1646.0 263.9L1648.0 262.9L1650.0 261.8L1652.0 260.8L1654.0 259.7L1656.0 258.7L1658.0 257.6L1660.0 256.6L1662.0 255.6L1664.0 254.6L1666.0 253.5L1668.0 252.5L1670.0 251.5L1672.0 250.5L1674.0 249.6L1676.0 248.6L1678.0 247.6L1680.0 246.6L1682.0 245.7L1684.0 244.8L1686.0 243.8L1688.0 242.9L1690.0 242.0L1692.0 241.1L1694.0 240.2L1696.0 239.3L1698.0 238.5L1700.0 237.6L1702.0 236.8L1704.0 235.9L1706.0 235.1L1708.0 234.3L1710.0 233.5L1712.0 232.7L1714.0 231.9L1716.0 231.1L1718.0 230.4L1720.0 229.6L1722.0 228.9L1724.0 228.2L1726.0 227.4L1728.0 226.7L1730.0 226.0L1732.0 225.3L1734.0 224.6L1736.0 223.9L1738.0 223.3L1740.0 222.6L1742.0 221.9L1744.0 221.3L1746.0 220.6L1748.0 219.9L1750.0 219.3L1752.0 218.6L1754.0 218.0L1756.0 217.3L1758.0 216.6L1760.0 216.0L1762.0 215.3L1764.0 214.7L1766.0 214.0L1768.0 213.4L1769.0 213.0" stroke="#B08A78" stroke-width="6.2"/>
<path d="M936.0 185.0L938.0 187.6L940.0 190.5L942.0 193.5L944.0 196.8L946.0 200.4L948.0 204.1L950.0 208.2L952.0 212.5L954.0 217.1L956.0 221.9L958.0 227.1L960.0 232.6L962.0 238.4L964.0 244.4L966.0 250.8L968.0 257.4L970.0 264.2L972.0 271.2L974.0 278.3L976.0 285.7L978.0 293.2L980.0 301.0L982.0 309.1L984.0 317.5L986.0 326.2L988.0 335.5L990.0 345.3L992.0 355.5L994.0 366.2L996.0 377.5L998.0 389.2L1000.0 401.3L1002.0 413.9L1004.0 426.9L1006.0 440.1L1008.0 453.6L1010.0 467.2L1012.0 481.0L1014.0 494.7L1016.0 508.3L1018.0 521.8L1020.0 534.9L1022.0 547.7L1024.0 560.1L1026.0 572.3L1028.0 584.2L1030.0 594.5L1032.0 602.7L1034.0 609.2L1036.0 614.5L1038.0 619.0L1040.0 622.8L1042.0 626.0L1044.0 628.7L1046.0 630.9L1048.0 632.5L1050.0 633.4L1052.0 633.1L1054.0 631.6L1056.0 629.1L1058.0 625.3L1060.0 620.4L1062.0 614.7L1064.0 608.2L1066.0 600.7L1068.0 592.5L1070.0 583.9L1072.0 575.4L1074.0 567.2L1076.0 559.6L1078.0 552.2L1080.0 545.0L1082.0 537.9L1084.0 531.0L1086.0 524.3L1088.0 517.8L1090.0 511.5L1092.0 505.3L1094.0 499.2L1096.0 493.4L1098.0 487.6L1100.0 481.9L1102.0 476.3L1104.0 470.7L1106.0 465.1L1108.0 459.4L1110.0 453.7L1112.0 447.9L1114.0 442.1L1116.0 436.3L1118.0 430.4L1120.0 424.6L1122.0 418.8L1124.0 413.1L1126.0 407.4L1128.0 401.8L1130.0 396.2L1132.0 390.9L1134.0 385.6L1136.0 380.6L1138.0 375.9L1140.0 371.4L1142.0 367.3L1144.0 363.6L1146.0 360.2L1148.0 357.1L1150.0 354.3L1152.0 351.7L1154.0 349.3L1156.0 347.2L1158.0 345.1L1160.0 343.3L1162.0 341.5L1164.0 339.8L1166.0 338.3L1168.0 336.8L1170.0 335.4L1172.0 334.1L1174.0 332.8L1176.0 331.6L1178.0 330.4L1180.0 329.3L1182.0 328.2L1184.0 327.2L1186.0 326.1L1188.0 325.2L1190.0 324.2L1192.0 323.3L1194.0 322.4L1196.0 321.5L1198.0 320.7L1200.0 319.8L1202.0 318.9L1204.0 318.1L1206.0 317.2L1208.0 316.4L1210.0 315.6L1212.0 314.7L1214.0 313.9L1216.0 313.1L1218.0 312.3L1220.0 311.5L1222.0 310.8L1224.0 310.1L1226.0 309.4L1228.0 308.8L1230.0 308.3L1232.0 307.7L1234.0 307.2L1236.0 306.8L1238.0 306.3L1240.0 305.9L1242.0 305.5L1244.0 305.1L1246.0 304.8L1248.0 304.5L1250.0 304.2L1252.0 303.9L1254.0 303.7L1256.0 303.5L1258.0 303.3L1260.0 303.1L1262.0 303.0L1264.0 302.8L1266.0 302.7L1268.0 302.6L1270.0 302.5L1272.0 302.5L1274.0 302.4L1276.0 302.3L1278.0 302.2L1280.0 302.2L1282.0 302.2L1284.0 302.1L1286.0 302.1L1288.0 302.1L1290.0 302.1L1292.0 302.2L1294.0 302.3L1296.0 302.4L1298.0 302.5L1300.0 302.6L1302.0 302.8L1304.0 303.0L1306.0 303.2L1308.0 303.4L1310.0 303.7L1312.0 303.9L1314.0 304.2L1316.0 304.5L1318.0 304.8L1320.0 305.1L1322.0 305.4L1324.0 305.7L1326.0 306.1L1328.0 306.4L1330.0 306.8L1332.0 307.2L1334.0 307.6L1336.0 308.1L1338.0 308.5L1340.0 308.9L1342.0 309.4L1344.0 309.8L1346.0 310.3L1348.0 310.8L1350.0 311.2L1352.0 311.7L1354.0 312.2L1356.0 312.7L1358.0 313.3L1360.0 313.8L1362.0 314.3L1364.0 314.8L1366.0 315.4L1368.0 315.9L1370.0 316.4L1372.0 316.9L1374.0 317.4L1376.0 317.8L1378.0 318.3L1380.0 318.7L1382.0 319.1L1384.0 319.5L1386.0 319.8L1388.0 320.2L1390.0 320.5L1392.0 320.8L1394.0 321.1L1396.0 321.4L1398.0 321.7L1400.0 322.0L1402.0 322.3L1404.0 322.6L1406.0 322.9L1408.0 323.1L1410.0 323.4L1412.0 323.6L1414.0 323.8L1416.0 324.0L1418.0 324.2L1420.0 324.4L1422.0 324.6L1424.0 324.7L1426.0 324.9L1428.0 325.0L1430.0 325.1L1432.0 325.2L1434.0 325.3L1436.0 325.4L1438.0 325.5L1440.0 325.6L1442.0 325.7L1444.0 325.7L1446.0 325.8L1448.0 325.8L1450.0 325.8L1452.0 325.8L1454.0 325.7L1456.0 325.7L1458.0 325.7L1460.0 325.6L1462.0 325.5L1464.0 325.4L1466.0 325.3L1468.0 325.2L1470.0 325.0L1472.0 324.9L1474.0 324.7L1476.0 324.5L1478.0 324.3L1480.0 324.1L1482.0 323.8L1484.0 323.6L1486.0 323.3L1488.0 323.0L1490.0 322.7L1492.0 322.4L1494.0 322.0L1496.0 321.7L1498.0 321.3L1500.0 320.9L1502.0 320.5L1504.0 320.0L1506.0 319.6L1508.0 319.1L1510.0 318.7L1512.0 318.2L1514.0 317.6L1516.0 317.1L1518.0 316.6L1520.0 316.0L1522.0 315.4L1524.0 314.8L1526.0 314.2L1528.0 313.6L1530.0 312.9L1532.0 312.3L1534.0 311.6L1536.0 310.9L1538.0 310.2L1540.0 309.5L1542.0 308.8L1544.0 308.1L1546.0 307.3L1548.0 306.6L1550.0 305.8L1552.0 305.0L1554.0 304.2L1556.0 303.4L1558.0 302.6L1560.0 301.8L1562.0 300.9L1564.0 300.1L1566.0 299.2L1568.0 298.4L1570.0 297.5L1572.0 296.6L1574.0 295.8L1576.0 294.9L1578.0 294.0L1580.0 293.1L1582.0 292.1L1584.0 291.2L1586.0 290.3L1588.0 289.4L1590.0 288.4L1592.0 287.5L1594.0 286.5L1596.0 285.6L1598.0 284.6L1600.0 283.7L1602.0 282.7L1604.0 281.7L1606.0 280.8L1608.0 279.8L1610.0 278.8L1612.0 277.8L1614.0 276.8L1616.0 275.8L1618.0 274.8L1620.0 273.8L1622.0 272.8L1624.0 271.8L1626.0 270.8L1628.0 269.8L1630.0 268.8L1632.0 267.8L1634.0 266.8L1636.0 265.8L1638.0 264.7L1640.0 263.7L1642.0 262.7L1644.0 261.7L1646.0 260.7L1648.0 259.7L1650.0 258.7L1652.0 257.7L1654.0 256.7L1656.0 255.7L1658.0 254.7L1660.0 253.7L1662.0 252.7L1664.0 251.8L1666.0 250.8L1668.0 249.8L1670.0 248.9L1672.0 247.9L1674.0 247.0L1676.0 246.0L1678.0 245.1L1680.0 244.2L1682.0 243.3L1684.0 242.4L1686.0 241.5L1688.0 240.6L1690.0 239.7L1692.0 238.9L1694.0 238.0L1696.0 237.2L1698.0 236.3L1700.0 235.5L1702.0 234.7L1704.0 233.9L1706.0 233.1L1708.0 232.3L1710.0 231.5L1712.0 230.8L1714.0 230.0L1716.0 229.3L1718.0 228.5L1720.0 227.8L1722.0 227.1L1724.0 226.4L1726.0 225.7L1728.0 225.0L1730.0 224.3L1732.0 223.6L1734.0 222.9L1736.0 222.3L1738.0 221.6L1740.0 220.9L1742.0 220.3L1744.0 219.6L1746.0 219.0L1748.0 218.3L1750.0 217.7L1752.0 217.0L1754.0 216.4L1756.0 215.7L1758.0 215.1L1760.0 214.5L1762.0 213.8L1764.0 213.2L1766.0 212.5L1768.0 211.9L1769.0 211.6" stroke="#D4BA7A" stroke-width="6.2"/>
<path d="M936.0 185.0L938.0 187.6L940.0 190.3L942.0 193.2L944.0 196.4L946.0 199.9L948.0 203.6L950.0 207.5L952.0 211.7L954.0 216.2L956.0 221.0L958.0 226.1L960.0 231.5L962.0 237.1L964.0 243.1L966.0 249.4L968.0 255.9L970.0 262.5L972.0 269.4L974.0 276.4L976.0 283.5L978.0 290.8L980.0 298.3L982.0 306.0L984.0 314.1L986.0 322.5L988.0 331.4L990.0 340.8L992.0 350.7L994.0 361.0L996.0 371.9L998.0 383.3L1000.0 395.1L1002.0 407.3L1004.0 419.9L1006.0 432.7L1008.0 445.8L1010.0 459.1L1012.0 472.4L1014.0 485.7L1016.0 498.9L1018.0 512.0L1020.0 524.9L1022.0 537.4L1024.0 549.4L1026.0 561.1L1028.0 572.4L1030.0 583.2L1032.0 593.5L1034.0 601.9L1036.0 609.2L1038.0 615.7L1040.0 620.8L1042.0 625.0L1044.0 628.5L1046.0 631.4L1048.0 633.7L1050.0 635.6L1052.0 636.6L1054.0 636.5L1056.0 635.3L1058.0 633.0L1060.0 629.7L1062.0 625.2L1064.0 620.0L1066.0 614.0L1068.0 607.0L1070.0 599.0L1072.0 590.7L1074.0 582.4L1076.0 574.5L1078.0 567.3L1080.0 560.3L1082.0 553.4L1084.0 546.5L1086.0 539.8L1088.0 533.1L1090.0 526.7L1092.0 520.5L1094.0 514.4L1096.0 508.5L1098.0 502.8L1100.0 497.2L1102.0 491.7L1104.0 486.2L1106.0 480.8L1108.0 475.3L1110.0 469.8L1112.0 464.2L1114.0 458.5L1116.0 452.7L1118.0 447.0L1120.0 441.1L1122.0 435.3L1124.0 429.5L1126.0 423.6L1128.0 417.8L1130.0 412.0L1132.0 406.4L1134.0 400.9L1136.0 395.5L1138.0 390.5L1140.0 385.8L1142.0 381.4L1144.0 377.3L1146.0 373.6L1148.0 370.1L1150.0 367.0L1152.0 364.1L1154.0 361.5L1156.0 359.0L1158.0 356.7L1160.0 354.6L1162.0 352.5L1164.0 350.6L1166.0 348.8L1168.0 347.1L1170.0 345.5L1172.0 343.9L1174.0 342.4L1176.0 341.0L1178.0 339.6L1180.0 338.3L1182.0 337.0L1184.0 335.8L1186.0 334.7L1188.0 333.5L1190.0 332.4L1192.0 331.4L1194.0 330.3L1196.0 329.3L1198.0 328.3L1200.0 327.3L1202.0 326.3L1204.0 325.3L1206.0 324.3L1208.0 323.3L1210.0 322.3L1212.0 321.3L1214.0 320.3L1216.0 319.3L1218.0 318.4L1220.0 317.4L1222.0 316.5L1224.0 315.7L1226.0 314.8L1228.0 314.1L1230.0 313.3L1232.0 312.6L1234.0 312.0L1236.0 311.4L1238.0 310.8L1240.0 310.2L1242.0 309.7L1244.0 309.2L1246.0 308.7L1248.0 308.2L1250.0 307.8L1252.0 307.4L1254.0 307.0L1256.0 306.7L1258.0 306.3L1260.0 306.0L1262.0 305.8L1264.0 305.5L1266.0 305.2L1268.0 305.0L1270.0 304.7L1272.0 304.5L1274.0 304.3L1276.0 304.1L1278.0 303.9L1280.0 303.7L1282.0 303.5L1284.0 303.3L1286.0 303.2L1288.0 303.0L1290.0 302.8L1292.0 302.7L1294.0 302.7L1296.0 302.7L1298.0 302.7L1300.0 302.8L1302.0 302.9L1304.0 303.1L1306.0 303.3L1308.0 303.5L1310.0 303.6L1312.0 303.6L1314.0 303.6L1316.0 303.6L1318.0 303.6L1320.0 303.7L1322.0 303.7L1324.0 303.8L1326.0 303.8L1328.0 303.9L1330.0 304.0L1332.0 304.2L1334.0 304.3L1336.0 304.4L1338.0 304.7L1340.0 304.9L1342.0 305.1L1344.0 305.4L1346.0 305.7L1348.0 305.9L1350.0 306.2L1352.0 306.5L1354.0 306.9L1356.0 307.2L1358.0 307.5L1360.0 307.9L1362.0 308.3L1364.0 308.6L1366.0 309.0L1368.0 309.3L1370.0 309.7L1372.0 310.0L1374.0 310.3L1376.0 310.6L1378.0 310.9L1380.0 311.1L1382.0 311.4L1384.0 311.6L1386.0 311.7L1388.0 311.9L1390.0 312.1L1392.0 312.2L1394.0 312.3L1396.0 312.4L1398.0 312.5L1400.0 312.6L1402.0 312.7L1404.0 312.8L1406.0 312.9L1408.0 312.9L1410.0 313.0L1412.0 313.1L1414.0 313.1L1416.0 313.1L1418.0 313.2L1420.0 313.2L1422.0 313.2L1424.0 313.2L1426.0 313.1L1428.0 313.1L1430.0 313.1L1432.0 313.0L1434.0 313.0L1436.0 313.0L1438.0 312.9L1440.0 312.9L1442.0 312.8L1444.0 312.7L1446.0 312.6L1448.0 312.5L1450.0 312.4L1452.0 312.3L1454.0 312.1L1456.0 312.0L1458.0 311.8L1460.0 311.7L1462.0 311.5L1464.0 311.3L1466.0 311.1L1468.0 310.9L1470.0 310.7L1472.0 310.5L1474.0 310.2L1476.0 310.0L1478.0 309.7L1480.0 309.4L1482.0 309.2L1484.0 308.9L1486.0 308.6L1488.0 308.2L1490.0 307.9L1492.0 307.6L1494.0 307.2L1496.0 306.8L1498.0 306.4L1500.0 306.0L1502.0 305.6L1504.0 305.2L1506.0 304.8L1508.0 304.3L1510.0 303.9L1512.0 303.4L1514.0 302.9L1516.0 302.4L1518.0 301.9L1520.0 301.4L1522.0 300.9L1524.0 300.3L1526.0 299.7L1528.0 299.2L1530.0 298.6L1532.0 298.0L1534.0 297.4L1536.0 296.8L1538.0 296.1L1540.0 295.5L1542.0 294.9L1544.0 294.2L1546.0 293.5L1548.0 292.8L1550.0 292.2L1552.0 291.5L1554.0 290.8L1556.0 290.0L1558.0 289.3L1560.0 288.6L1562.0 287.9L1564.0 287.1L1566.0 286.4L1568.0 285.6L1570.0 284.8L1572.0 284.1L1574.0 283.3L1576.0 282.5L1578.0 281.7L1580.0 280.9L1582.0 280.2L1584.0 279.4L1586.0 278.6L1588.0 277.7L1590.0 276.9L1592.0 276.1L1594.0 275.3L1596.0 274.5L1598.0 273.7L1600.0 272.8L1602.0 272.0L1604.0 271.2L1606.0 270.3L1608.0 269.5L1610.0 268.7L1612.0 267.8L1614.0 267.0L1616.0 266.1L1618.0 265.3L1620.0 264.4L1622.0 263.6L1624.0 262.7L1626.0 261.8L1628.0 261.0L1630.0 260.1L1632.0 259.2L1634.0 258.4L1636.0 257.5L1638.0 256.6L1640.0 255.8L1642.0 254.9L1644.0 254.0L1646.0 253.2L1648.0 252.3L1650.0 251.4L1652.0 250.6L1654.0 249.7L1656.0 248.8L1658.0 248.0L1660.0 247.1L1662.0 246.3L1664.0 245.4L1666.0 244.6L1668.0 243.8L1670.0 242.9L1672.0 242.1L1674.0 241.3L1676.0 240.4L1678.0 239.6L1680.0 238.8L1682.0 238.0L1684.0 237.2L1686.0 236.5L1688.0 235.7L1690.0 234.9L1692.0 234.1L1694.0 233.4L1696.0 232.7L1698.0 231.9L1700.0 231.2L1702.0 230.5L1704.0 229.8L1706.0 229.1L1708.0 228.4L1710.0 227.7L1712.0 227.0L1714.0 226.3L1716.0 225.7L1718.0 225.0L1720.0 224.4L1722.0 223.8L1724.0 223.1L1726.0 222.5L1728.0 221.9L1730.0 221.3L1732.0 220.7L1734.0 220.1L1736.0 219.5L1738.0 218.9L1740.0 218.3L1742.0 217.7L1744.0 217.1L1746.0 216.5L1748.0 215.9L1750.0 215.3L1752.0 214.7L1754.0 214.1L1756.0 213.5L1758.0 212.9L1760.0 212.3L1762.0 211.7L1764.0 211.0L1766.0 210.4L1768.0 209.8L1769.0 209.5" stroke="#9CC85A" stroke-width="6.2"/>
<path d="M936.0 185.0L938.0 187.5L940.0 190.2L942.0 193.0L944.0 196.1L946.0 199.5L948.0 203.1L950.0 207.0L952.0 211.1L954.0 215.6L956.0 220.3L958.0 225.2L960.0 230.5L962.0 236.1L964.0 242.0L966.0 248.2L968.0 254.6L970.0 261.2L972.0 267.9L974.0 274.8L976.0 281.8L978.0 288.9L980.0 296.2L982.0 303.7L984.0 311.5L986.0 319.6L988.0 328.2L990.0 337.2L992.0 346.8L994.0 356.9L996.0 367.4L998.0 378.6L1000.0 390.1L1002.0 402.0L1004.0 414.3L1006.0 426.9L1008.0 439.7L1010.0 452.6L1012.0 465.7L1014.0 478.7L1016.0 491.7L1018.0 504.5L1020.0 517.1L1022.0 529.5L1024.0 541.5L1026.0 553.0L1028.0 564.1L1030.0 574.7L1032.0 585.0L1034.0 594.8L1036.0 603.1L1038.0 610.9L1040.0 617.9L1042.0 623.6L1044.0 628.3L1046.0 632.2L1048.0 635.4L1050.0 637.8L1052.0 639.7L1054.0 640.7L1056.0 640.4L1058.0 639.0L1060.0 636.7L1062.0 633.6L1064.0 629.7L1066.0 625.1L1068.0 619.6L1070.0 613.0L1072.0 605.5L1074.0 597.6L1076.0 589.9L1078.0 582.7L1080.0 576.1L1082.0 569.5L1084.0 562.8L1086.0 556.0L1088.0 549.2L1090.0 542.7L1092.0 536.4L1094.0 530.3L1096.0 524.3L1098.0 518.5L1100.0 512.8L1102.0 507.2L1104.0 501.7L1106.0 496.2L1108.0 490.6L1110.0 485.0L1112.0 479.3L1114.0 473.5L1116.0 467.6L1118.0 461.7L1120.0 455.8L1122.0 449.8L1124.0 444.0L1126.0 438.1L1128.0 432.4L1130.0 426.6L1132.0 421.0L1134.0 415.5L1136.0 410.3L1138.0 405.2L1140.0 400.5L1142.0 396.0L1144.0 391.8L1146.0 387.9L1148.0 384.2L1150.0 380.8L1152.0 377.6L1154.0 374.7L1156.0 371.9L1158.0 369.2L1160.0 366.7L1162.0 364.4L1164.0 362.1L1166.0 360.0L1168.0 357.9L1170.0 356.0L1172.0 354.1L1174.0 352.3L1176.0 350.6L1178.0 349.0L1180.0 347.4L1182.0 345.8L1184.0 344.4L1186.0 342.9L1188.0 341.6L1190.0 340.2L1192.0 338.9L1194.0 337.7L1196.0 336.5L1198.0 335.3L1200.0 334.1L1202.0 333.0L1204.0 331.8L1206.0 330.7L1208.0 329.6L1210.0 328.4L1212.0 327.3L1214.0 326.2L1216.0 325.1L1218.0 324.0L1220.0 323.0L1222.0 321.9L1224.0 321.0L1226.0 320.0L1228.0 319.1L1230.0 318.2L1232.0 317.4L1234.0 316.6L1236.0 315.9L1238.0 315.2L1240.0 314.5L1242.0 313.8L1244.0 313.2L1246.0 312.6L1248.0 312.0L1250.0 311.4L1252.0 310.9L1254.0 310.4L1256.0 309.9L1258.0 309.5L1260.0 309.0L1262.0 308.6L1264.0 308.2L1266.0 307.8L1268.0 307.5L1270.0 307.1L1272.0 306.7L1274.0 306.4L1276.0 306.1L1278.0 305.8L1280.0 305.4L1282.0 305.1L1284.0 304.8L1286.0 304.6L1288.0 304.3L1290.0 304.0L1292.0 303.7L1294.0 303.6L1296.0 303.4L1298.0 303.3L1300.0 303.2L1302.0 303.2L1304.0 303.3L1306.0 303.4L1308.0 303.5L1310.0 303.6L1312.0 303.5L1314.0 303.3L1316.0 303.1L1318.0 303.0L1320.0 302.9L1322.0 302.7L1324.0 302.6L1326.0 302.5L1328.0 302.4L1330.0 302.3L1332.0 302.2L1334.0 302.1L1336.0 302.1L1338.0 302.1L1340.0 302.1L1342.0 302.1L1344.0 302.2L1346.0 302.2L1348.0 302.3L1350.0 302.4L1352.0 302.5L1354.0 302.6L1356.0 302.7L1358.0 302.8L1360.0 302.9L1362.0 303.0L1364.0 303.2L1366.0 303.3L1368.0 303.4L1370.0 303.6L1372.0 303.7L1374.0 303.8L1376.0 303.8L1378.0 303.9L1380.0 303.9L1382.0 304.0L1384.0 304.0L1386.0 304.0L1388.0 303.9L1390.0 303.9L1392.0 303.9L1394.0 303.8L1396.0 303.7L1398.0 303.7L1400.0 303.6L1402.0 303.5L1404.0 303.4L1406.0 303.3L1408.0 303.2L1410.0 303.1L1412.0 303.0L1414.0 302.9L1416.0 302.8L1418.0 302.7L1420.0 302.5L1422.0 302.4L1424.0 302.2L1426.0 302.1L1428.0 301.9L1430.0 301.7L1432.0 301.6L1434.0 301.4L1436.0 301.3L1438.0 301.1L1440.0 300.9L1442.0 300.7L1444.0 300.5L1446.0 300.3L1448.0 300.1L1450.0 299.9L1452.0 299.7L1454.0 299.4L1456.0 299.2L1458.0 299.0L1460.0 298.7L1462.0 298.5L1464.0 298.2L1466.0 297.9L1468.0 297.7L1470.0 297.4L1472.0 297.1L1474.0 296.8L1476.0 296.5L1478.0 296.2L1480.0 295.9L1482.0 295.6L1484.0 295.3L1486.0 294.9L1488.0 294.6L1490.0 294.2L1492.0 293.9L1494.0 293.5L1496.0 293.1L1498.0 292.7L1500.0 292.3L1502.0 291.9L1504.0 291.5L1506.0 291.1L1508.0 290.7L1510.0 290.2L1512.0 289.8L1514.0 289.3L1516.0 288.9L1518.0 288.4L1520.0 287.9L1522.0 287.4L1524.0 286.9L1526.0 286.4L1528.0 285.9L1530.0 285.3L1532.0 284.8L1534.0 284.2L1536.0 283.7L1538.0 283.1L1540.0 282.5L1542.0 281.9L1544.0 281.4L1546.0 280.8L1548.0 280.1L1550.0 279.5L1552.0 278.9L1554.0 278.3L1556.0 277.6L1558.0 277.0L1560.0 276.3L1562.0 275.7L1564.0 275.0L1566.0 274.4L1568.0 273.7L1570.0 273.0L1572.0 272.3L1574.0 271.7L1576.0 271.0L1578.0 270.3L1580.0 269.6L1582.0 268.9L1584.0 268.2L1586.0 267.5L1588.0 266.8L1590.0 266.1L1592.0 265.4L1594.0 264.7L1596.0 264.0L1598.0 263.2L1600.0 262.5L1602.0 261.8L1604.0 261.1L1606.0 260.4L1608.0 259.7L1610.0 258.9L1612.0 258.2L1614.0 257.5L1616.0 256.8L1618.0 256.1L1620.0 255.3L1622.0 254.6L1624.0 253.9L1626.0 253.2L1628.0 252.4L1630.0 251.7L1632.0 251.0L1634.0 250.3L1636.0 249.5L1638.0 248.8L1640.0 248.1L1642.0 247.3L1644.0 246.6L1646.0 245.9L1648.0 245.1L1650.0 244.4L1652.0 243.7L1654.0 243.0L1656.0 242.2L1658.0 241.5L1660.0 240.8L1662.0 240.1L1664.0 239.4L1666.0 238.6L1668.0 237.9L1670.0 237.2L1672.0 236.5L1674.0 235.8L1676.0 235.1L1678.0 234.4L1680.0 233.7L1682.0 233.1L1684.0 232.4L1686.0 231.7L1688.0 231.1L1690.0 230.4L1692.0 229.7L1694.0 229.1L1696.0 228.5L1698.0 227.8L1700.0 227.2L1702.0 226.6L1704.0 226.0L1706.0 225.4L1708.0 224.8L1710.0 224.2L1712.0 223.6L1714.0 223.0L1716.0 222.4L1718.0 221.9L1720.0 221.3L1722.0 220.8L1724.0 220.2L1726.0 219.7L1728.0 219.1L1730.0 218.6L1732.0 218.0L1734.0 217.5L1736.0 217.0L1738.0 216.4L1740.0 215.9L1742.0 215.4L1744.0 214.8L1746.0 214.3L1748.0 213.7L1750.0 213.2L1752.0 212.6L1754.0 212.1L1756.0 211.5L1758.0 210.9L1760.0 210.4L1762.0 209.8L1764.0 209.2L1766.0 208.6L1768.0 208.0L1769.0 207.7" stroke="#5A9632" stroke-width="6.2"/>
<path d="M936.0 185.0L938.0 187.5L940.0 190.1L942.0 193.0L944.0 196.0L946.0 199.3L948.0 203.0L950.0 206.8L952.0 210.9L954.0 215.3L956.0 220.0L958.0 224.9L960.0 230.2L962.0 235.7L964.0 241.6L966.0 247.7L968.0 254.1L970.0 260.6L972.0 267.3L974.0 274.2L976.0 281.1L978.0 288.1L980.0 295.3L982.0 302.8L984.0 310.4L986.0 318.5L988.0 326.9L990.0 335.8L992.0 345.3L994.0 355.2L996.0 365.7L998.0 376.6L1000.0 388.0L1002.0 399.9L1004.0 412.0L1006.0 424.5L1008.0 437.2L1010.0 450.1L1012.0 463.0L1014.0 476.0L1016.0 488.9L1018.0 501.6L1020.0 514.2L1022.0 526.5L1024.0 538.5L1026.0 550.0L1028.0 561.1L1030.0 571.6L1032.0 581.7L1034.0 591.6L1036.0 600.4L1038.0 608.4L1040.0 616.3L1042.0 622.9L1044.0 628.3L1046.0 632.8L1048.0 636.4L1050.0 639.2L1052.0 641.5L1054.0 642.8L1056.0 643.0L1058.0 641.8L1060.0 639.8L1062.0 637.2L1064.0 633.9L1066.0 630.0L1068.0 625.3L1070.0 619.4L1072.0 612.5L1074.0 604.9L1076.0 597.5L1078.0 590.5L1080.0 584.0L1082.0 577.6L1084.0 571.0L1086.0 564.2L1088.0 557.4L1090.0 550.8L1092.0 544.5L1094.0 538.3L1096.0 532.3L1098.0 526.4L1100.0 520.6L1102.0 514.9L1104.0 509.3L1106.0 503.7L1108.0 498.0L1110.0 492.2L1112.0 486.3L1114.0 480.3L1116.0 474.3L1118.0 468.3L1120.0 462.3L1122.0 456.3L1124.0 450.5L1126.0 444.7L1128.0 439.0L1130.0 433.4L1132.0 427.9L1134.0 422.6L1136.0 417.4L1138.0 412.5L1140.0 407.8L1142.0 403.4L1144.0 399.1L1146.0 395.2L1148.0 391.4L1150.0 387.9L1152.0 384.6L1154.0 381.5L1156.0 378.5L1158.0 375.7L1160.0 373.0L1162.0 370.4L1164.0 368.0L1166.0 365.7L1168.0 363.4L1170.0 361.3L1172.0 359.2L1174.0 357.3L1176.0 355.4L1178.0 353.6L1180.0 351.8L1182.0 350.1L1184.0 348.5L1186.0 346.9L1188.0 345.4L1190.0 343.9L1192.0 342.5L1194.0 341.1L1196.0 339.8L1198.0 338.5L1200.0 337.3L1202.0 336.0L1204.0 334.8L1206.0 333.6L1208.0 332.4L1210.0 331.3L1212.0 330.1L1214.0 328.9L1216.0 327.8L1218.0 326.6L1220.0 325.5L1222.0 324.5L1224.0 323.4L1226.0 322.4L1228.0 321.5L1230.0 320.6L1232.0 319.7L1234.0 318.9L1236.0 318.1L1238.0 317.3L1240.0 316.5L1242.0 315.8L1244.0 315.1L1246.0 314.5L1248.0 313.8L1250.0 313.2L1252.0 312.6L1254.0 312.1L1256.0 311.5L1258.0 311.0L1260.0 310.5L1262.0 310.0L1264.0 309.6L1266.0 309.1L1268.0 308.7L1270.0 308.2L1272.0 307.8L1274.0 307.5L1276.0 307.1L1278.0 306.7L1280.0 306.3L1282.0 306.0L1284.0 305.7L1286.0 305.3L1288.0 305.0L1290.0 304.7L1292.0 304.4L1294.0 304.2L1296.0 304.0L1298.0 303.8L1300.0 303.6L1302.0 303.5L1304.0 303.5L1306.0 303.5L1308.0 303.6L1310.0 303.6L1312.0 303.4L1314.0 303.2L1316.0 303.0L1318.0 302.8L1320.0 302.6L1322.0 302.4L1324.0 302.2L1326.0 302.1L1328.0 301.9L1330.0 301.7L1332.0 301.5L1334.0 301.4L1336.0 301.2L1338.0 301.2L1340.0 301.1L1342.0 301.0L1344.0 301.0L1346.0 300.9L1348.0 300.9L1350.0 300.8L1352.0 300.8L1354.0 300.8L1356.0 300.7L1358.0 300.7L1360.0 300.7L1362.0 300.7L1364.0 300.7L1366.0 300.7L1368.0 300.7L1370.0 300.7L1372.0 300.7L1374.0 300.7L1376.0 300.6L1378.0 300.6L1380.0 300.5L1382.0 300.4L1384.0 300.3L1386.0 300.2L1388.0 300.1L1390.0 300.0L1392.0 299.9L1394.0 299.7L1396.0 299.6L1398.0 299.4L1400.0 299.3L1402.0 299.1L1404.0 299.0L1406.0 298.8L1408.0 298.6L1410.0 298.4L1412.0 298.3L1414.0 298.1L1416.0 297.9L1418.0 297.7L1420.0 297.5L1422.0 297.3L1424.0 297.1L1426.0 296.9L1428.0 296.7L1430.0 296.5L1432.0 296.2L1434.0 296.0L1436.0 295.8L1438.0 295.6L1440.0 295.3L1442.0 295.1L1444.0 294.9L1446.0 294.6L1448.0 294.4L1450.0 294.1L1452.0 293.9L1454.0 293.6L1456.0 293.3L1458.0 293.1L1460.0 292.8L1462.0 292.5L1464.0 292.2L1466.0 291.9L1468.0 291.7L1470.0 291.4L1472.0 291.1L1474.0 290.7L1476.0 290.4L1478.0 290.1L1480.0 289.8L1482.0 289.5L1484.0 289.1L1486.0 288.8L1488.0 288.4L1490.0 288.1L1492.0 287.7L1494.0 287.4L1496.0 287.0L1498.0 286.6L1500.0 286.2L1502.0 285.8L1504.0 285.4L1506.0 285.0L1508.0 284.6L1510.0 284.2L1512.0 283.8L1514.0 283.3L1516.0 282.9L1518.0 282.4L1520.0 282.0L1522.0 281.5L1524.0 281.0L1526.0 280.5L1528.0 280.0L1530.0 279.5L1532.0 279.0L1534.0 278.5L1536.0 278.0L1538.0 277.4L1540.0 276.9L1542.0 276.3L1544.0 275.8L1546.0 275.2L1548.0 274.6L1550.0 274.0L1552.0 273.5L1554.0 272.9L1556.0 272.3L1558.0 271.7L1560.0 271.1L1562.0 270.4L1564.0 269.8L1566.0 269.2L1568.0 268.6L1570.0 267.9L1572.0 267.3L1574.0 266.7L1576.0 266.0L1578.0 265.4L1580.0 264.7L1582.0 264.1L1584.0 263.4L1586.0 262.8L1588.0 262.1L1590.0 261.5L1592.0 260.8L1594.0 260.1L1596.0 259.5L1598.0 258.8L1600.0 258.2L1602.0 257.5L1604.0 256.8L1606.0 256.2L1608.0 255.5L1610.0 254.8L1612.0 254.2L1614.0 253.5L1616.0 252.8L1618.0 252.2L1620.0 251.5L1622.0 250.8L1624.0 250.1L1626.0 249.5L1628.0 248.8L1630.0 248.1L1632.0 247.5L1634.0 246.8L1636.0 246.1L1638.0 245.4L1640.0 244.8L1642.0 244.1L1644.0 243.4L1646.0 242.8L1648.0 242.1L1650.0 241.4L1652.0 240.7L1654.0 240.1L1656.0 239.4L1658.0 238.8L1660.0 238.1L1662.0 237.4L1664.0 236.8L1666.0 236.1L1668.0 235.5L1670.0 234.8L1672.0 234.2L1674.0 233.5L1676.0 232.9L1678.0 232.2L1680.0 231.6L1682.0 231.0L1684.0 230.3L1686.0 229.7L1688.0 229.1L1690.0 228.5L1692.0 227.9L1694.0 227.3L1696.0 226.7L1698.0 226.1L1700.0 225.5L1702.0 224.9L1704.0 224.4L1706.0 223.8L1708.0 223.2L1710.0 222.7L1712.0 222.1L1714.0 221.6L1716.0 221.1L1718.0 220.5L1720.0 220.0L1722.0 219.5L1724.0 218.9L1726.0 218.4L1728.0 217.9L1730.0 217.4L1732.0 216.9L1734.0 216.4L1736.0 215.8L1738.0 215.3L1740.0 214.8L1742.0 214.3L1744.0 213.8L1746.0 213.2L1748.0 212.7L1750.0 212.2L1752.0 211.6L1754.0 211.1L1756.0 210.5L1758.0 210.0L1760.0 209.4L1762.0 208.8L1764.0 208.2L1766.0 207.7L1768.0 207.1L1769.0 206.8" stroke="#0B5D0B" stroke-width="6.2"/>
<path d="M936.0 185.0L938.0 187.4L940.0 190.0L942.0 192.9L944.0 195.9L946.0 199.2L948.0 202.8L950.0 206.6L952.0 210.7L954.0 215.1L956.0 219.7L958.0 224.6L960.0 229.9L962.0 235.4L964.0 241.2L966.0 247.3L968.0 253.6L970.0 260.2L972.0 266.8L974.0 273.6L976.0 280.5L978.0 287.5L980.0 294.6L982.0 302.0L984.0 309.6L986.0 317.5L988.0 325.8L990.0 334.6L992.0 343.9L994.0 353.8L996.0 364.1L998.0 375.0L1000.0 386.3L1002.0 398.0L1004.0 410.1L1006.0 422.5L1008.0 435.1L1010.0 447.9L1012.0 460.7L1014.0 473.6L1016.0 486.4L1018.0 499.1L1020.0 511.6L1022.0 523.9L1024.0 535.9L1026.0 547.4L1028.0 558.5L1030.0 569.1L1032.0 579.1L1034.0 588.7L1036.0 597.8L1038.0 606.2L1040.0 614.5L1042.0 621.9L1044.0 628.1L1046.0 633.3L1048.0 637.6L1050.0 640.9L1052.0 643.4L1054.0 645.1L1056.0 645.6L1058.0 644.8L1060.0 643.0L1062.0 640.7L1064.0 637.9L1066.0 634.7L1068.0 630.8L1070.0 625.8L1072.0 619.6L1074.0 612.5L1076.0 605.4L1078.0 598.7L1080.0 592.4L1082.0 586.2L1084.0 579.7L1086.0 572.9L1088.0 566.0L1090.0 559.3L1092.0 553.0L1094.0 546.7L1096.0 540.6L1098.0 534.6L1100.0 528.7L1102.0 522.8L1104.0 517.0L1106.0 511.1L1108.0 505.2L1110.0 499.1L1112.0 493.0L1114.0 486.8L1116.0 480.6L1118.0 474.4L1120.0 468.3L1122.0 462.3L1124.0 456.5L1126.0 450.8L1128.0 445.2L1130.0 439.8L1132.0 434.5L1134.0 429.4L1136.0 424.5L1138.0 419.8L1140.0 415.2L1142.0 410.9L1144.0 406.7L1146.0 402.7L1148.0 398.9L1150.0 395.3L1152.0 391.8L1154.0 388.5L1156.0 385.3L1158.0 382.3L1160.0 379.4L1162.0 376.7L1164.0 374.0L1166.0 371.5L1168.0 369.0L1170.0 366.7L1172.0 364.4L1174.0 362.3L1176.0 360.2L1178.0 358.2L1180.0 356.2L1182.0 354.4L1184.0 352.6L1186.0 350.8L1188.0 349.1L1190.0 347.5L1192.0 345.9L1194.0 344.4L1196.0 343.0L1198.0 341.6L1200.0 340.2L1202.0 338.9L1204.0 337.6L1206.0 336.4L1208.0 335.1L1210.0 333.9L1212.0 332.7L1214.0 331.5L1216.0 330.3L1218.0 329.1L1220.0 328.0L1222.0 326.9L1224.0 325.8L1226.0 324.8L1228.0 323.8L1230.0 322.8L1232.0 321.9L1234.0 321.0L1236.0 320.2L1238.0 319.3L1240.0 318.5L1242.0 317.8L1244.0 317.0L1246.0 316.3L1248.0 315.6L1250.0 314.9L1252.0 314.3L1254.0 313.7L1256.0 313.1L1258.0 312.5L1260.0 311.9L1262.0 311.4L1264.0 310.9L1266.0 310.4L1268.0 309.9L1270.0 309.4L1272.0 309.0L1274.0 308.5L1276.0 308.1L1278.0 307.7L1280.0 307.3L1282.0 306.9L1284.0 306.6L1286.0 306.2L1288.0 305.9L1290.0 305.5L1292.0 305.2L1294.0 305.0L1296.0 304.7L1298.0 304.5L1300.0 304.3L1302.0 304.0L1304.0 303.9L1306.0 303.8L1308.0 303.7L1310.0 303.6L1312.0 303.4L1314.0 303.1L1316.0 302.9L1318.0 302.6L1320.0 302.4L1322.0 302.1L1324.0 301.9L1326.0 301.7L1328.0 301.5L1330.0 301.2L1332.0 301.0L1334.0 300.8L1336.0 300.6L1338.0 300.4L1340.0 300.2L1342.0 300.1L1344.0 299.9L1346.0 299.8L1348.0 299.6L1350.0 299.5L1352.0 299.3L1354.0 299.2L1356.0 299.0L1358.0 298.9L1360.0 298.7L1362.0 298.6L1364.0 298.5L1366.0 298.3L1368.0 298.2L1370.0 298.1L1372.0 297.9L1374.0 297.7L1376.0 297.6L1378.0 297.4L1380.0 297.2L1382.0 297.0L1384.0 296.8L1386.0 296.6L1388.0 296.4L1390.0 296.2L1392.0 296.0L1394.0 295.8L1396.0 295.5L1398.0 295.3L1400.0 295.1L1402.0 294.9L1404.0 294.6L1406.0 294.4L1408.0 294.2L1410.0 293.9L1412.0 293.7L1414.0 293.4L1416.0 293.2L1418.0 292.9L1420.0 292.7L1422.0 292.4L1424.0 292.2L1426.0 291.9L1428.0 291.7L1430.0 291.4L1432.0 291.1L1434.0 290.9L1436.0 290.6L1438.0 290.3L1440.0 290.1L1442.0 289.8L1444.0 289.5L1446.0 289.2L1448.0 288.9L1450.0 288.7L1452.0 288.4L1454.0 288.1L1456.0 287.8L1458.0 287.5L1460.0 287.2L1462.0 286.9L1464.0 286.6L1466.0 286.3L1468.0 286.0L1470.0 285.7L1472.0 285.3L1474.0 285.0L1476.0 284.7L1478.0 284.4L1480.0 284.0L1482.0 283.7L1484.0 283.4L1486.0 283.0L1488.0 282.7L1490.0 282.3L1492.0 282.0L1494.0 281.6L1496.0 281.3L1498.0 280.9L1500.0 280.5L1502.0 280.1L1504.0 279.7L1506.0 279.3L1508.0 278.9L1510.0 278.5L1512.0 278.1L1514.0 277.7L1516.0 277.3L1518.0 276.9L1520.0 276.4L1522.0 276.0L1524.0 275.5L1526.0 275.1L1528.0 274.6L1530.0 274.1L1532.0 273.6L1534.0 273.1L1536.0 272.6L1538.0 272.1L1540.0 271.6L1542.0 271.1L1544.0 270.6L1546.0 270.1L1548.0 269.5L1550.0 269.0L1552.0 268.4L1554.0 267.9L1556.0 267.3L1558.0 266.8L1560.0 266.2L1562.0 265.6L1564.0 265.0L1566.0 264.5L1568.0 263.9L1570.0 263.3L1572.0 262.7L1574.0 262.1L1576.0 261.5L1578.0 260.9L1580.0 260.3L1582.0 259.7L1584.0 259.1L1586.0 258.4L1588.0 257.8L1590.0 257.2L1592.0 256.6L1594.0 256.0L1596.0 255.4L1598.0 254.7L1600.0 254.1L1602.0 253.5L1604.0 252.9L1606.0 252.3L1608.0 251.6L1610.0 251.0L1612.0 250.4L1614.0 249.8L1616.0 249.2L1618.0 248.5L1620.0 247.9L1622.0 247.3L1624.0 246.7L1626.0 246.1L1628.0 245.4L1630.0 244.8L1632.0 244.2L1634.0 243.6L1636.0 243.0L1638.0 242.3L1640.0 241.7L1642.0 241.1L1644.0 240.5L1646.0 239.9L1648.0 239.2L1650.0 238.6L1652.0 238.0L1654.0 237.4L1656.0 236.8L1658.0 236.2L1660.0 235.6L1662.0 235.0L1664.0 234.4L1666.0 233.8L1668.0 233.2L1670.0 232.6L1672.0 232.0L1674.0 231.4L1676.0 230.8L1678.0 230.2L1680.0 229.6L1682.0 229.0L1684.0 228.4L1686.0 227.9L1688.0 227.3L1690.0 226.7L1692.0 226.2L1694.0 225.6L1696.0 225.1L1698.0 224.5L1700.0 224.0L1702.0 223.4L1704.0 222.9L1706.0 222.4L1708.0 221.9L1710.0 221.3L1712.0 220.8L1714.0 220.3L1716.0 219.8L1718.0 219.3L1720.0 218.8L1722.0 218.3L1724.0 217.8L1726.0 217.3L1728.0 216.8L1730.0 216.3L1732.0 215.8L1734.0 215.3L1736.0 214.8L1738.0 214.3L1740.0 213.8L1742.0 213.3L1744.0 212.8L1746.0 212.2L1748.0 211.7L1750.0 211.2L1752.0 210.7L1754.0 210.1L1756.0 209.6L1758.0 209.0L1760.0 208.5L1762.0 207.9L1764.0 207.3L1766.0 206.8L1768.0 206.2L1769.0 205.9" stroke="#1CF01C" stroke-width="6.2"/>
<path d="M936.0 185.0L938.0 187.4L940.0 190.0L942.0 192.8L944.0 195.9L946.0 199.1L948.0 202.7L950.0 206.5L952.0 210.6L954.0 214.9L956.0 219.5L958.0 224.4L960.0 229.6L962.0 235.1L964.0 240.9L966.0 246.9L968.0 253.3L970.0 259.7L972.0 266.4L974.0 273.1L976.0 280.0L978.0 286.9L980.0 294.0L982.0 301.3L984.0 308.8L986.0 316.6L988.0 324.9L990.0 333.6L992.0 342.8L994.0 352.6L996.0 362.8L998.0 373.6L1000.0 384.8L1002.0 396.5L1004.0 408.5L1006.0 420.7L1008.0 433.3L1010.0 446.0L1012.0 458.8L1014.0 471.6L1016.0 484.4L1018.0 497.0L1020.0 509.5L1022.0 521.8L1024.0 533.7L1026.0 545.3L1028.0 556.5L1030.0 567.1L1032.0 577.1L1034.0 586.5L1036.0 595.6L1038.0 604.3L1040.0 612.9L1042.0 621.0L1044.0 628.1L1046.0 634.0L1048.0 639.0L1050.0 642.8L1052.0 645.6L1054.0 647.7L1056.0 648.5L1058.0 647.8L1060.0 646.1L1062.0 644.0L1064.0 641.8L1066.0 639.3L1068.0 636.2L1070.0 632.1L1072.0 626.6L1074.0 620.0L1076.0 613.3L1078.0 607.1L1080.0 601.1L1082.0 595.1L1084.0 588.7L1086.0 581.9L1088.0 574.9L1090.0 568.0L1092.0 561.6L1094.0 555.3L1096.0 549.1L1098.0 542.9L1100.0 536.9L1102.0 530.8L1104.0 524.7L1106.0 518.6L1108.0 512.3L1110.0 505.9L1112.0 499.5L1114.0 493.0L1116.0 486.5L1118.0 480.1L1120.0 473.9L1122.0 467.8L1124.0 462.0L1126.0 456.4L1128.0 451.0L1130.0 445.8L1132.0 440.9L1134.0 436.1L1136.0 431.5L1138.0 427.0L1140.0 422.7L1142.0 418.4L1144.0 414.3L1146.0 410.4L1148.0 406.5L1150.0 402.8L1152.0 399.2L1154.0 395.7L1156.0 392.4L1158.0 389.1L1160.0 386.0L1162.0 383.0L1164.0 380.1L1166.0 377.4L1168.0 374.7L1170.0 372.1L1172.0 369.6L1174.0 367.3L1176.0 365.0L1178.0 362.8L1180.0 360.6L1182.0 358.5L1184.0 356.5L1186.0 354.6L1188.0 352.7L1190.0 351.0L1192.0 349.2L1194.0 347.6L1196.0 346.0L1198.0 344.5L1200.0 343.0L1202.0 341.6L1204.0 340.2L1206.0 338.9L1208.0 337.6L1210.0 336.4L1212.0 335.1L1214.0 333.9L1216.0 332.7L1218.0 331.5L1220.0 330.3L1222.0 329.2L1224.0 328.1L1226.0 327.0L1228.0 326.0L1230.0 325.0L1232.0 324.1L1234.0 323.1L1236.0 322.2L1238.0 321.4L1240.0 320.5L1242.0 319.7L1244.0 318.9L1246.0 318.1L1248.0 317.4L1250.0 316.7L1252.0 316.0L1254.0 315.3L1256.0 314.6L1258.0 314.0L1260.0 313.4L1262.0 312.8L1264.0 312.2L1266.0 311.6L1268.0 311.1L1270.0 310.6L1272.0 310.1L1274.0 309.6L1276.0 309.1L1278.0 308.7L1280.0 308.3L1282.0 307.9L1284.0 307.5L1286.0 307.2L1288.0 306.8L1290.0 306.5L1292.0 306.2L1294.0 305.9L1296.0 305.6L1298.0 305.3L1300.0 305.0L1302.0 304.7L1304.0 304.4L1306.0 304.2L1308.0 303.9L1310.0 303.6L1312.0 303.3L1314.0 303.1L1316.0 302.8L1318.0 302.5L1320.0 302.3L1322.0 302.0L1324.0 301.7L1326.0 301.5L1328.0 301.2L1330.0 301.0L1332.0 300.7L1334.0 300.4L1336.0 300.2L1338.0 299.9L1340.0 299.7L1342.0 299.4L1344.0 299.1L1346.0 298.9L1348.0 298.6L1350.0 298.3L1352.0 298.1L1354.0 297.8L1356.0 297.5L1358.0 297.3L1360.0 297.0L1362.0 296.7L1364.0 296.4L1366.0 296.1L1368.0 295.8L1370.0 295.5L1372.0 295.2L1374.0 294.9L1376.0 294.6L1378.0 294.3L1380.0 294.0L1382.0 293.7L1384.0 293.4L1386.0 293.1L1388.0 292.8L1390.0 292.5L1392.0 292.2L1394.0 291.9L1396.0 291.6L1398.0 291.3L1400.0 291.0L1402.0 290.7L1404.0 290.4L1406.0 290.1L1408.0 289.8L1410.0 289.5L1412.0 289.2L1414.0 288.9L1416.0 288.6L1418.0 288.3L1420.0 288.0L1422.0 287.7L1424.0 287.4L1426.0 287.1L1428.0 286.8L1430.0 286.5L1432.0 286.2L1434.0 285.9L1436.0 285.6L1438.0 285.3L1440.0 285.0L1442.0 284.7L1444.0 284.4L1446.0 284.1L1448.0 283.8L1450.0 283.5L1452.0 283.2L1454.0 282.9L1456.0 282.5L1458.0 282.2L1460.0 281.9L1462.0 281.6L1464.0 281.3L1466.0 281.0L1468.0 280.6L1470.0 280.3L1472.0 280.0L1474.0 279.7L1476.0 279.3L1478.0 279.0L1480.0 278.7L1482.0 278.3L1484.0 278.0L1486.0 277.7L1488.0 277.3L1490.0 277.0L1492.0 276.6L1494.0 276.3L1496.0 275.9L1498.0 275.6L1500.0 275.2L1502.0 274.8L1504.0 274.5L1506.0 274.1L1508.0 273.7L1510.0 273.3L1512.0 272.9L1514.0 272.5L1516.0 272.1L1518.0 271.7L1520.0 271.3L1522.0 270.9L1524.0 270.4L1526.0 270.0L1528.0 269.6L1530.0 269.1L1532.0 268.7L1534.0 268.2L1536.0 267.8L1538.0 267.3L1540.0 266.8L1542.0 266.3L1544.0 265.9L1546.0 265.4L1548.0 264.9L1550.0 264.4L1552.0 263.8L1554.0 263.3L1556.0 262.8L1558.0 262.3L1560.0 261.7L1562.0 261.2L1564.0 260.7L1566.0 260.1L1568.0 259.6L1570.0 259.0L1572.0 258.5L1574.0 257.9L1576.0 257.3L1578.0 256.8L1580.0 256.2L1582.0 255.6L1584.0 255.1L1586.0 254.5L1588.0 253.9L1590.0 253.4L1592.0 252.8L1594.0 252.2L1596.0 251.6L1598.0 251.0L1600.0 250.5L1602.0 249.9L1604.0 249.3L1606.0 248.7L1608.0 248.1L1610.0 247.6L1612.0 247.0L1614.0 246.4L1616.0 245.8L1618.0 245.2L1620.0 244.7L1622.0 244.1L1624.0 243.5L1626.0 242.9L1628.0 242.3L1630.0 241.8L1632.0 241.2L1634.0 240.6L1636.0 240.0L1638.0 239.5L1640.0 238.9L1642.0 238.3L1644.0 237.8L1646.0 237.2L1648.0 236.6L1650.0 236.1L1652.0 235.5L1654.0 234.9L1656.0 234.4L1658.0 233.8L1660.0 233.3L1662.0 232.7L1664.0 232.2L1666.0 231.6L1668.0 231.1L1670.0 230.5L1672.0 230.0L1674.0 229.4L1676.0 228.9L1678.0 228.3L1680.0 227.8L1682.0 227.3L1684.0 226.7L1686.0 226.2L1688.0 225.7L1690.0 225.2L1692.0 224.6L1694.0 224.1L1696.0 223.6L1698.0 223.1L1700.0 222.6L1702.0 222.1L1704.0 221.6L1706.0 221.1L1708.0 220.6L1710.0 220.1L1712.0 219.6L1714.0 219.1L1716.0 218.7L1718.0 218.2L1720.0 217.7L1722.0 217.2L1724.0 216.7L1726.0 216.2L1728.0 215.8L1730.0 215.3L1732.0 214.8L1734.0 214.3L1736.0 213.8L1738.0 213.3L1740.0 212.8L1742.0 212.3L1744.0 211.8L1746.0 211.3L1748.0 210.8L1750.0 210.3L1752.0 209.7L1754.0 209.2L1756.0 208.7L1758.0 208.1L1760.0 207.6L1762.0 207.0L1764.0 206.5L1766.0 205.9L1768.0 205.3L1769.0 205.0" stroke="#888888" stroke-width="7.4"/>
</g>
<g stroke="#000" stroke-width="4.1" fill="none" stroke-linecap="butt">
<rect x="936.0" y="115.0" width="832.7" height="669.0"/>
<path stroke-width="3.4" d="M922.5 784.0H936.0"/>
<path stroke-width="3.4" d="M1755.2 784.0H1768.7"/>
<path stroke-width="3.4" d="M929.5 717.1H936.0"/>
<path stroke-width="3.4" d="M1762.2 717.1H1768.7"/>
<path stroke-width="3.4" d="M922.5 650.2H936.0"/>
<path stroke-width="3.4" d="M1755.2 650.2H1768.7"/>
<path stroke-width="3.4" d="M929.5 583.3H936.0"/>
<path stroke-width="3.4" d="M1762.2 583.3H1768.7"/>
<path stroke-width="3.4" d="M922.5 516.4H936.0"/>
<path stroke-width="3.4" d="M1755.2 516.4H1768.7"/>
<path stroke-width="3.4" d="M929.5 449.5H936.0"/>
<path stroke-width="3.4" d="M1762.2 449.5H1768.7"/>
<path stroke-width="3.4" d="M922.5 382.6H936.0"/>
<path stroke-width="3.4" d="M1755.2 382.6H1768.7"/>
<path stroke-width="3.4" d="M929.5 315.7H936.0"/>
<path stroke-width="3.4" d="M1762.2 315.7H1768.7"/>
<path stroke-width="3.4" d="M922.5 248.8H936.0"/>
<path stroke-width="3.4" d="M1755.2 248.8H1768.7"/>
<path stroke-width="3.4" d="M929.5 181.9H936.0"/>
<path stroke-width="3.4" d="M1762.2 181.9H1768.7"/>
<path stroke-width="3.4" d="M922.5 115.0H936.0"/>
<path stroke-width="3.4" d="M1755.2 115.0H1768.7"/>
<path stroke-width="3.4" d="M936.0 115.0V127.0"/>
<path stroke-width="3.4" d="M936.0 784.0V795.5"/>
<path stroke-width="3.4" d="M1040.1 115.0V122.0"/>
<path stroke-width="3.4" d="M1040.1 784.0V789.5"/>
<path stroke-width="3.4" d="M1144.2 115.0V127.0"/>
<path stroke-width="3.4" d="M1144.2 784.0V795.5"/>
<path stroke-width="3.4" d="M1248.3 115.0V122.0"/>
<path stroke-width="3.4" d="M1248.3 784.0V789.5"/>
<path stroke-width="3.4" d="M1352.4 115.0V127.0"/>
<path stroke-width="3.4" d="M1352.4 784.0V795.5"/>
<path stroke-width="3.4" d="M1456.4 115.0V122.0"/>
<path stroke-width="3.4" d="M1456.4 784.0V789.5"/>
<path stroke-width="3.4" d="M1560.5 115.0V127.0"/>
<path stroke-width="3.4" d="M1560.5 784.0V795.5"/>
<path stroke-width="3.4" d="M1664.6 115.0V122.0"/>
<path stroke-width="3.4" d="M1664.6 784.0V789.5"/>
<path stroke-width="3.4" d="M1768.7 115.0V127.0"/>
<path stroke-width="3.4" d="M1768.7 784.0V795.5"/>
</g>
<g font-family="'Liberation Sans',Arial,sans-serif" font-weight="bold" font-size="34.5px" fill="#000" stroke="#fff" stroke-width="0.5">
<text x="911" y="792.6" text-anchor="end">0.0</text>
<text x="911" y="658.8" text-anchor="end">0.2</text>
<text x="911" y="525.0" text-anchor="end">0.4</text>
<text x="911" y="391.2" text-anchor="end">0.6</text>
<text x="911" y="257.4" text-anchor="end">0.8</text>
<text x="911" y="123.6" text-anchor="end">1.0</text>
<text x="934.5" y="832.5" text-anchor="middle">0.4</text>
<text x="1142.7" y="832.5" text-anchor="middle">0.5</text>
<text x="1350.9" y="832.5" text-anchor="middle">0.6</text>
<text x="1559.0" y="832.5" text-anchor="middle">0.7</text>
<text x="1767.2" y="832.5" text-anchor="middle">0.8</text>
</g>
<g font-family="'Liberation Sans',Arial,sans-serif" fill="#111">
<text x="1350" y="898.5" font-size="44px" text-anchor="middle" letter-spacing="0.2">Frequency (THz)</text>
<text transform="translate(840.5 420.5) rotate(-90)" font-size="44px" text-anchor="middle">Transmission</text>
<text x="1591" y="757" font-size="44.5px"><tspan font-style="italic">T</tspan>=4.5 K</text>
<text x="967.5" y="177.5" font-size="50px" stroke="#fff" stroke-width="0.4" paint-order="fill">(b)</text>
</g>
<g font-family="'Liberation Sans',Arial,sans-serif" font-size="27px" fill="#222" stroke-linecap="round">
<path d="M1776.5 127.9H1837" stroke="#888888" stroke-width="5.5" fill="none"/>
<text x="1842.5" y="136.2">2.5</text>
<path d="M1776.5 159.8H1837" stroke="#1CF01C" stroke-width="5.5" fill="none"/>
<text x="1842.5" y="168.1">2.4</text>
<path d="M1776.5 194.2H1837" stroke="#0B5D0B" stroke-width="5.5" fill="none"/>
<text x="1842.5" y="202.5">2.3</text>
<path d="M1776.5 226.0H1837" stroke="#5A9632" stroke-width="5.5" fill="none"/>
<text x="1842.5" y="234.3">2.2</text>
<path d="M1776.5 260.0H1837" stroke="#9CC85A" stroke-width="5.5" fill="none"/>
<text x="1842.5" y="268.3">2</text>
<path d="M1776.5 292.6H1837" stroke="#D4BA7A" stroke-width="5.5" fill="none"/>
<text x="1842.5" y="300.9">1.8</text>
<path d="M1776.5 326.6H1837" stroke="#B08A78" stroke-width="5.5" fill="none"/>
<text x="1842.5" y="334.9">1.7</text>
<path d="M1776.5 358.0H1837" stroke="#6E4E6E" stroke-width="5.5" fill="none"/>
<text x="1842.5" y="366.3">1.6</text>
<path d="M1776.5 390.0H1837" stroke="#45204E" stroke-width="5.5" fill="none"/>
<text x="1842.5" y="398.3">1.5</text>
<path d="M1776.5 424.7H1837" stroke="#7A4A10" stroke-width="5.5" fill="none"/>
<text x="1842.5" y="433.0">1.3</text>
<path d="M1776.5 456.6H1837" stroke="#A81EE0" stroke-width="5.5" fill="none"/>
<text x="1842.5" y="464.9">1.2</text>
<path d="M1776.5 490.4H1837" stroke="#7010F0" stroke-width="5.5" fill="none"/>
<text x="1842.5" y="498.7">1.1</text>
<path d="M1776.5 522.8H1837" stroke="#2850F0" stroke-width="5.5" fill="none"/>
<text x="1842.5" y="531.1">1</text>
<path d="M1776.5 554.8H1837" stroke="#18A8F0" stroke-width="5.5" fill="none"/>
<text x="1842.5" y="563.1">0.9</text>
<path d="M1776.5 589.0H1837" stroke="#10D89A" stroke-width="5.5" fill="none"/>
<text x="1842.5" y="597.3">0.8</text>
<path d="M1776.5 621.0H1837" stroke="#98E038" stroke-width="5.5" fill="none"/>
<text x="1842.5" y="629.3">0.7</text>
<path d="M1776.5 654.6H1837" stroke="#F0E038" stroke-width="5.5" fill="none"/>
<text x="1842.5" y="662.9">0.6</text>
<path d="M1776.5 686.6H1837" stroke="#F0B438" stroke-width="5.5" fill="none"/>
<text x="1842.5" y="694.9">0.5</text>
<path d="M1776.5 721.6H1837" stroke="#F58C30" stroke-width="5.5" fill="none"/>
<text x="1842.5" y="729.9">0.4</text>
<path d="M1776.5 752.8H1837" stroke="#F04440" stroke-width="5.5" fill="none"/>
<text x="1842.5" y="761.1">0.3 mS</text>
<path d="M1773 785.2H1840" stroke="#F0148C" stroke-width="5.5" stroke-dasharray="16 13" stroke-linecap="butt" fill="none"/>
<text x="1842.5" y="793.5">No Graphene</text>
</g>
</g>
</svg>
</body></html>
